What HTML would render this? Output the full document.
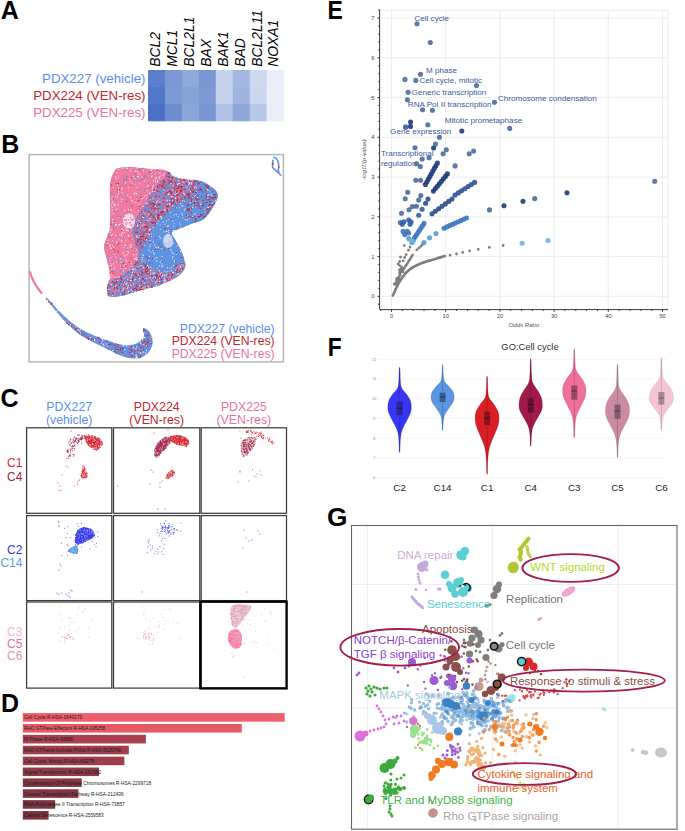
<!DOCTYPE html>
<html><head><meta charset="utf-8"><style>
html,body{margin:0;padding:0;background:#fff;width:685px;height:831px;overflow:hidden}
svg{display:block}
text{font-family:"Liberation Sans",sans-serif}
</style></head><body>
<svg width="685" height="831" viewBox="0 0 685 831">
<rect width="685" height="831" fill="#fff"/>
<text transform="translate(0.8 18.6) scale(1.0 1)" font-size="25" font-weight="bold" fill="#000">A</text>
<rect x="148.00" y="70.00" width="17.25" height="17.30" fill="#5b7fcc" stroke="none" stroke-width="1" />
<rect x="164.95" y="70.00" width="17.25" height="17.30" fill="#7a98d4" stroke="none" stroke-width="1" />
<rect x="181.90" y="70.00" width="17.25" height="17.30" fill="#8eaad9" stroke="none" stroke-width="1" />
<rect x="198.85" y="70.00" width="17.25" height="17.30" fill="#7a97d3" stroke="none" stroke-width="1" />
<rect x="215.80" y="70.00" width="17.25" height="17.30" fill="#c5d3ec" stroke="none" stroke-width="1" />
<rect x="232.75" y="70.00" width="17.25" height="17.30" fill="#a3b8e0" stroke="none" stroke-width="1" />
<rect x="249.70" y="70.00" width="17.25" height="17.30" fill="#cdd9ef" stroke="none" stroke-width="1" />
<rect x="266.65" y="70.00" width="17.25" height="17.30" fill="#e9eef8" stroke="none" stroke-width="1" />
<rect x="148.00" y="87.00" width="17.25" height="17.30" fill="#5276c9" stroke="none" stroke-width="1" />
<rect x="164.95" y="87.00" width="17.25" height="17.30" fill="#7d9ad4" stroke="none" stroke-width="1" />
<rect x="181.90" y="87.00" width="17.25" height="17.30" fill="#87a4d8" stroke="none" stroke-width="1" />
<rect x="198.85" y="87.00" width="17.25" height="17.30" fill="#7d9ad4" stroke="none" stroke-width="1" />
<rect x="215.80" y="87.00" width="17.25" height="17.30" fill="#c7d4ec" stroke="none" stroke-width="1" />
<rect x="232.75" y="87.00" width="17.25" height="17.30" fill="#9fb5df" stroke="none" stroke-width="1" />
<rect x="249.70" y="87.00" width="17.25" height="17.30" fill="#cad7ee" stroke="none" stroke-width="1" />
<rect x="266.65" y="87.00" width="17.25" height="17.30" fill="#e9eef8" stroke="none" stroke-width="1" />
<rect x="148.00" y="104.00" width="17.25" height="17.30" fill="#4c6fc6" stroke="none" stroke-width="1" />
<rect x="164.95" y="104.00" width="17.25" height="17.30" fill="#6d8dd0" stroke="none" stroke-width="1" />
<rect x="181.90" y="104.00" width="17.25" height="17.30" fill="#8aa6d8" stroke="none" stroke-width="1" />
<rect x="198.85" y="104.00" width="17.25" height="17.30" fill="#7896d2" stroke="none" stroke-width="1" />
<rect x="215.80" y="104.00" width="17.25" height="17.30" fill="#b0c3e6" stroke="none" stroke-width="1" />
<rect x="232.75" y="104.00" width="17.25" height="17.30" fill="#8ca6d8" stroke="none" stroke-width="1" />
<rect x="249.70" y="104.00" width="17.25" height="17.30" fill="#b6c7e7" stroke="none" stroke-width="1" />
<rect x="266.65" y="104.00" width="17.25" height="17.30" fill="#e9eef8" stroke="none" stroke-width="1" />
<text x="159.9" y="66.8" font-size="13.9" fill="#000" text-anchor="start" font-weight="normal" font-style="italic" transform="rotate(-90 159.9 66.8)">BCL2</text>
<text x="176.8" y="66.8" font-size="13.9" fill="#000" text-anchor="start" font-weight="normal" font-style="italic" transform="rotate(-90 176.8 66.8)">MCL1</text>
<text x="193.8" y="66.8" font-size="13.9" fill="#000" text-anchor="start" font-weight="normal" font-style="italic" transform="rotate(-90 193.8 66.8)">BCL2L1</text>
<text x="210.7" y="66.8" font-size="13.9" fill="#000" text-anchor="start" font-weight="normal" font-style="italic" transform="rotate(-90 210.7 66.8)">BAX</text>
<text x="227.7" y="66.8" font-size="13.9" fill="#000" text-anchor="start" font-weight="normal" font-style="italic" transform="rotate(-90 227.7 66.8)">BAK1</text>
<text x="244.6" y="66.8" font-size="13.9" fill="#000" text-anchor="start" font-weight="normal" font-style="italic" transform="rotate(-90 244.6 66.8)">BAD</text>
<text x="261.6" y="66.8" font-size="13.9" fill="#000" text-anchor="start" font-weight="normal" font-style="italic" transform="rotate(-90 261.6 66.8)">BCL2L11</text>
<text x="278.5" y="66.8" font-size="13.9" fill="#000" text-anchor="start" font-weight="normal" font-style="italic" transform="rotate(-90 278.5 66.8)">NOXA1</text>
<text x="145.5" y="83.3" font-size="13.3" fill="#5b8def" text-anchor="end" font-weight="normal" font-style="normal" >PDX227 (vehicle)</text>
<text x="145.5" y="100.3" font-size="13.3" fill="#c0272d" text-anchor="end" font-weight="normal" font-style="normal" >PDX224 (VEN-res)</text>
<text x="145.5" y="117.3" font-size="13.3" fill="#e8739f" text-anchor="end" font-weight="normal" font-style="normal" >PDX225 (VEN-res)</text>
<text transform="translate(1.3 152.8) scale(1.0 1)" font-size="25" font-weight="bold" fill="#000">B</text>
<rect x="29.10" y="154.60" width="254.30" height="207.30" fill="#fff" stroke="#b6b6b6" stroke-width="1.5" />
<path d="M114.5,171.3 C116.2,168.3 117.0,168.3 120.7,167.7 C124.5,167.1 131.9,166.6 137.0,167.7 C142.1,168.8 144.8,172.6 151.3,174.4 C157.8,176.2 168.3,177.3 175.8,178.5 C183.3,179.7 190.2,180.1 196.3,181.6 C202.4,183.1 209.0,185.5 212.6,187.7 C216.2,189.9 217.3,192.2 217.7,194.9 C218.0,197.6 216.9,200.1 214.7,204.0 C212.5,207.9 208.2,215.2 204.4,218.4 C200.7,221.7 196.3,221.8 192.2,223.5 C188.1,225.2 183.4,227.1 180.0,228.6 C176.6,230.1 172.4,230.7 171.7,232.7 C171.0,234.7 174.1,237.4 175.8,240.8 C177.5,244.2 180.5,248.6 182.0,253.0 C183.5,257.4 186.0,263.3 185.0,267.4 C184.0,271.5 180.4,274.5 175.8,277.6 C171.2,280.7 163.2,283.8 157.4,285.8 C151.6,287.9 147.2,288.2 141.1,289.9 C135.0,291.6 126.2,295.0 120.7,296.0 C115.2,297.0 110.6,297.4 108.4,296.0 C106.2,294.6 107.1,291.2 107.4,287.8 C107.7,284.4 110.6,280.7 110.4,275.6 C110.2,270.5 107.3,262.3 106.3,257.2 C105.3,252.1 103.8,249.3 104.3,244.9 C104.8,240.5 108.4,235.7 109.4,230.6 C110.4,225.5 110.2,221.8 110.4,214.3 C110.6,206.8 109.7,192.9 110.4,185.7 C111.1,178.5 112.8,174.3 114.5,171.3Z" fill="#8c82c6"/>
<path d="M192.0,194.0 C195.7,190.4 196.6,182.6 200.0,181.5 C203.4,180.4 209.7,185.5 212.6,187.7 C215.5,189.9 217.3,192.2 217.7,194.9 C218.0,197.6 216.9,200.1 214.7,204.0 C212.5,207.9 208.2,215.2 204.4,218.4 C200.7,221.7 196.3,221.8 192.2,223.5 C188.1,225.2 183.4,227.1 180.0,228.6 C176.6,230.1 172.4,230.7 171.7,232.7 C171.0,234.7 174.1,237.4 175.8,240.8 C177.5,244.2 180.8,249.5 182.0,253.0 C183.2,256.5 185.8,258.8 183.0,262.0 C180.2,265.2 170.5,271.0 165.0,272.0 C159.5,273.0 154.2,270.7 150.0,268.0 C145.8,265.3 141.3,259.0 140.0,256.0 C138.7,253.0 140.5,253.3 142.0,250.0 C143.5,246.7 146.7,240.3 149.0,236.0 C151.3,231.7 153.3,227.7 156.0,224.0 C158.7,220.3 161.3,217.5 165.0,214.0 C168.7,210.5 173.5,206.3 178.0,203.0 C182.5,199.7 188.3,197.6 192.0,194.0Z" fill="#5f93e2"/>
<path d="M110.0,185.0 C110.7,177.8 112.7,174.2 114.5,171.3 C116.3,168.4 117.0,168.3 120.7,167.7 C124.5,167.1 131.8,167.5 137.0,167.7 C142.2,167.9 148.0,168.7 152.0,169.0 C156.0,169.3 158.4,169.1 161.0,169.5 C163.6,169.9 166.7,170.2 167.5,171.5 C168.3,172.8 168.1,174.2 166.0,177.0 C163.9,179.8 158.2,184.0 155.0,188.0 C151.8,192.0 149.5,196.8 147.0,201.0 C144.5,205.2 142.2,209.5 140.0,213.0 C137.8,216.5 135.3,218.8 134.0,222.0 C132.7,225.2 131.5,228.2 132.0,232.0 C132.5,235.8 136.0,240.7 137.0,245.0 C138.0,249.3 139.5,253.5 138.0,258.0 C136.5,262.5 132.3,268.0 128.0,272.0 C123.7,276.0 115.5,279.5 112.0,282.0 C108.5,284.5 107.3,288.1 107.0,287.0 C106.7,285.9 110.5,280.6 110.4,275.6 C110.3,270.6 107.3,262.3 106.3,257.2 C105.3,252.1 103.8,249.3 104.3,244.9 C104.8,240.5 108.4,235.7 109.4,230.6 C110.4,225.5 110.3,221.9 110.4,214.3 C110.5,206.7 109.3,192.2 110.0,185.0Z" fill="#f07aa0"/>
<path d="M167.5,171.5 C169.2,171.6 172.6,176.2 176.0,177.5 C179.4,178.8 184.0,178.8 188.0,179.5 C192.0,180.2 199.3,179.1 200.0,181.5 C200.7,183.9 195.7,190.4 192.0,194.0 C188.3,197.6 182.5,199.7 178.0,203.0 C173.5,206.3 168.7,210.5 165.0,214.0 C161.3,217.5 158.7,220.3 156.0,224.0 C153.3,227.7 151.3,231.7 149.0,236.0 C146.7,240.3 144.2,248.3 142.0,250.0 C139.8,251.7 137.3,249.0 136.0,246.0 C134.7,243.0 134.0,236.0 134.0,232.0 C134.0,228.0 135.0,225.2 136.0,222.0 C137.0,218.8 138.2,216.5 140.0,213.0 C141.8,209.5 144.5,205.2 147.0,201.0 C149.5,196.8 151.8,192.0 155.0,188.0 C158.2,184.0 163.9,179.8 166.0,177.0 C168.1,174.2 165.8,171.4 167.5,171.5Z" fill="#a27aae"/>
<path d="M110.0,282.0 C113.4,279.4 123.3,276.0 128.0,272.0 C132.7,268.0 136.0,260.7 138.0,258.0 C140.0,255.3 138.0,254.3 140.0,256.0 C142.0,257.7 145.8,265.3 150.0,268.0 C154.2,270.7 159.5,273.0 165.0,272.0 C170.5,271.0 179.7,262.8 183.0,262.0 C186.3,261.2 186.2,264.8 185.0,267.4 C183.8,270.0 180.4,274.5 175.8,277.6 C171.2,280.7 163.2,283.8 157.4,285.8 C151.6,287.9 147.2,288.2 141.1,289.9 C135.0,291.6 126.2,295.0 120.7,296.0 C115.2,297.0 110.6,297.4 108.4,296.0 C106.2,294.6 107.1,290.1 107.4,287.8 C107.7,285.5 106.6,284.6 110.0,282.0Z" fill="#8088c8"/>
<path d="M169.4 200.2h0M172.1 202.6h0M190.7 194.2h0M145.9 217.2h0M176.2 200.7h0M170.2 176.4h0M154.7 217.5h0M163.9 195.0h0M150.1 216.6h0M182.1 194.1h0M144.0 209.9h0M136.6 224.0h0M172.3 207.3h0M138.0 226.6h0M188.2 193.8h0M137.9 231.8h0M152.4 204.1h0M197.2 183.3h0M149.4 209.6h0M172.9 192.1h0M158.4 216.0h0M159.9 202.8h0M140.8 221.3h0M135.7 240.1h0M174.5 183.2h0M150.6 198.8h0M164.8 209.5h0M156.6 192.3h0M188.7 184.2h0M168.9 183.0h0M169.8 173.6h0M151.2 200.3h0M145.0 232.1h0M155.8 189.0h0M149.0 212.1h0M151.1 225.9h0M139.6 223.4h0M145.8 233.4h0M181.8 184.8h0M143.6 236.4h0M157.1 214.6h0M188.5 188.1h0M149.9 217.5h0M151.1 204.4h0M142.7 242.9h0M157.3 207.5h0M168.6 173.0h0M163.0 185.9h0M145.4 208.7h0M155.5 212.2h0M141.0 215.5h0M163.9 213.4h0M189.4 182.3h0M138.8 224.1h0M144.2 227.7h0M177.6 182.7h0M160.3 209.7h0M144.7 205.4h0M168.0 198.1h0M170.6 206.1h0M136.6 232.7h0M188.1 191.8h0M143.9 243.7h0M138.8 245.2h0M139.5 238.7h0M138.4 239.2h0M163.9 198.1h0M168.8 190.2h0M154.6 195.4h0M184.1 194.3h0M167.0 185.5h0M146.5 208.8h0M159.9 211.3h0M160.7 198.8h0M138.7 229.7h0M139.6 237.5h0M153.3 207.6h0M144.4 206.5h0M154.4 199.5h0M165.3 211.0h0M147.3 211.1h0M154.1 189.8h0M159.7 197.1h0M136.9 237.1h0M143.2 212.6h0M140.9 237.1h0M182.6 191.3h0M182.1 187.6h0M166.6 201.5h0M176.4 177.6h0M183.1 195.4h0M178.6 194.3h0M168.1 208.0h0M164.8 180.8h0M193.0 187.1h0M163.7 192.6h0M147.9 217.1h0M143.4 212.6h0M196.9 181.9h0M163.8 195.2h0M189.4 180.9h0M158.6 202.3h0M157.8 205.1h0M140.7 237.0h0M167.7 186.4h0M195.2 181.5h0M165.2 198.5h0M177.3 195.1h0M170.8 202.5h0M166.8 188.8h0M163.7 182.5h0M161.3 212.6h0M158.9 198.0h0M197.9 181.4h0M190.9 188.5h0M160.4 206.5h0M136.1 227.2h0M164.2 214.8h0M136.6 232.9h0M176.6 195.3h0M159.6 189.1h0M153.9 207.7h0M161.7 191.7h0M156.3 204.5h0M179.0 187.0h0M167.3 187.6h0M188.1 189.6h0M148.6 231.2h0M166.7 186.2h0M148.7 204.2h0M177.9 201.2h0M158.7 197.5h0M152.5 199.1h0M197.1 181.2h0M156.4 192.9h0M151.3 227.8h0M154.9 193.1h0M134.2 230.8h0M149.4 208.8h0M159.5 191.2h0M162.4 210.2h0M195.3 185.9h0M174.1 197.2h0M155.1 199.9h0M147.0 230.6h0M149.5 204.2h0M177.9 181.0h0M189.5 194.6h0M171.4 200.8h0M182.7 187.1h0M144.1 240.9h0M172.2 197.1h0M167.5 189.7h0M148.4 200.4h0M150.8 218.6h0M177.0 187.5h0M178.8 186.0h0M160.1 214.7h0M176.2 178.7h0M144.8 226.1h0M161.0 193.7h0M154.6 216.0h0M157.6 204.2h0M158.0 187.0h0M182.1 187.5h0M164.4 184.3h0M139.9 220.3h0M158.5 211.1h0M188.4 184.1h0M185.9 188.9h0M188.7 185.9h0M148.4 202.9h0M168.2 201.6h0M189.3 180.7h0M175.4 195.5h0M161.7 217.2h0M163.5 205.9h0M166.3 190.0h0M164.2 185.6h0M165.2 179.9h0M167.7 174.7h0M176.0 178.0h0M167.8 175.8h0M167.3 201.2h0M196.8 182.2h0M194.5 184.5h0M183.9 184.0h0M187.8 182.8h0M167.4 196.5h0M145.1 233.1h0M141.6 213.2h0M176.0 199.7h0M175.6 202.4h0M186.6 192.3h0M163.2 185.4h0M188.1 191.4h0M174.7 205.4h0M148.8 217.3h0M172.9 187.5h0M142.9 245.0h0M140.3 221.6h0M160.5 192.2h0M171.1 199.0h0M160.8 190.2h0M137.9 232.6h0M196.1 182.7h0M147.2 219.2h0M187.7 185.2h0M154.4 195.1h0M137.2 241.3h0M181.0 192.4h0M170.5 205.7h0M151.5 221.9h0M183.2 197.2h0M171.6 195.7h0M148.0 220.4h0M139.1 243.0h0M141.0 244.4h0M138.3 217.9h0M138.4 239.6h0M175.7 194.1h0M184.0 187.6h0M155.1 204.8h0M152.7 227.7h0M158.3 196.7h0M169.5 188.5h0M188.1 184.9h0M146.2 210.3h0M141.3 221.5h0M139.3 233.4h0M175.4 199.4h0M160.5 202.5h0M149.4 207.7h0M157.0 197.1h0M144.3 237.7h0M145.2 205.9h0M192.4 190.2h0M150.3 197.1h0M168.5 184.1h0M140.7 247.0h0M146.9 221.6h0M143.4 218.9h0M161.8 189.4h0M154.7 220.8h0M175.6 191.1h0M162.0 207.2h0M175.0 203.6h0M146.1 222.9h0M144.6 232.9h0M140.7 216.6h0M147.9 225.2h0M142.1 248.8h0M152.1 202.9h0M157.2 192.3h0M148.8 229.7h0M148.4 234.4h0M159.9 188.1h0M142.5 232.5h0M157.3 221.6h0M164.9 194.6h0" stroke="#5f93e2" stroke-width="1.80" stroke-linecap="round" fill="none"/>
<path d="M170.2 181.3h0M190.1 192.5h0M158.8 191.4h0M162.1 186.1h0M153.9 209.1h0M177.5 200.0h0M137.8 236.5h0M143.3 236.8h0M177.3 191.1h0M149.4 232.4h0M145.1 241.5h0M147.0 225.9h0M170.6 192.3h0M166.5 176.1h0M164.8 182.8h0M166.4 210.6h0M158.7 204.4h0M167.7 209.5h0M158.2 208.8h0M147.9 205.7h0M161.9 215.0h0M188.6 194.5h0M167.2 192.8h0M155.8 196.4h0M153.7 217.5h0M136.6 228.2h0M178.9 188.2h0M184.3 179.5h0M177.3 200.5h0M171.1 191.8h0M153.9 204.6h0M155.0 205.3h0M176.5 188.2h0M142.0 247.4h0M139.8 239.8h0M181.5 190.5h0M182.4 186.2h0M137.3 232.3h0M145.0 239.1h0M158.3 216.6h0M143.6 234.1h0M175.6 204.3h0M171.4 194.5h0M155.9 219.1h0M173.7 195.7h0M187.3 193.7h0M136.8 236.9h0M171.7 193.0h0M147.2 230.4h0M164.7 187.7h0M150.8 230.5h0M139.8 234.8h0M185.0 189.8h0M145.9 226.5h0M157.9 215.8h0M160.6 212.1h0M141.0 221.2h0M186.0 183.8h0M173.4 198.6h0M168.3 173.1h0M171.4 192.0h0M173.5 202.7h0M141.9 246.8h0M151.0 215.8h0M178.2 202.4h0M163.6 184.0h0M150.9 199.1h0M178.7 195.0h0M165.8 184.7h0M181.3 186.8h0M136.4 244.3h0M140.4 244.4h0M163.9 198.2h0M175.5 182.7h0M143.6 239.9h0M151.6 203.8h0M145.1 210.0h0M141.5 248.3h0M137.8 241.8h0M178.1 188.1h0M165.5 194.0h0M181.9 194.5h0M146.3 205.7h0M194.2 188.6h0M171.7 182.3h0M145.9 232.0h0M181.0 186.9h0M191.6 192.4h0M146.3 236.8h0M158.5 218.2h0M163.4 212.0h0M142.0 227.6h0M138.0 240.0h0M169.5 173.1h0M180.1 186.8h0M180.4 179.6h0M166.6 210.8h0M160.8 182.3h0M143.7 216.5h0M183.3 184.4h0M159.7 204.5h0M185.3 198.1h0M149.9 197.8h0M150.5 204.6h0M175.8 200.1h0M169.0 176.9h0M162.6 211.1h0M176.3 192.4h0M178.8 193.0h0M175.0 191.2h0M168.3 205.5h0M154.2 222.3h0M141.9 218.2h0M151.7 208.1h0M169.2 183.1h0M153.4 203.4h0M139.8 214.4h0M147.3 227.3h0M164.4 214.5h0M154.5 190.5h0M148.6 211.7h0M159.3 217.5h0M190.9 190.2h0M194.4 181.5h0M171.7 204.3h0M174.1 201.3h0M163.9 207.4h0M181.7 194.5h0M159.8 215.1h0M159.4 196.8h0M167.0 206.4h0M143.6 216.7h0M172.4 178.4h0M179.2 202.1h0M157.6 218.2h0M160.5 215.6h0M167.8 180.2h0M167.8 211.1h0M154.2 225.7h0M178.1 186.9h0M151.6 222.3h0M171.9 203.8h0M184.1 179.9h0M184.9 196.8h0M181.2 199.3h0M140.6 242.5h0M172.4 198.9h0M163.7 201.8h0M137.6 241.4h0M187.8 195.3h0M150.0 202.1h0M181.4 188.9h0M157.7 186.1h0M171.1 180.5h0M169.2 201.8h0M142.1 236.3h0M157.2 190.7h0M177.8 198.3h0M144.3 226.9h0M189.1 181.5h0M187.1 184.0h0M167.3 189.3h0M163.9 181.8h0M180.6 192.0h0M158.3 190.8h0M174.1 188.2h0M191.6 181.1h0M171.5 195.9h0M145.7 238.3h0M155.2 223.5h0M141.2 215.6h0M157.9 210.8h0M154.5 189.3h0M142.3 227.8h0M152.6 203.2h0M136.0 224.9h0M177.8 199.1h0M180.2 191.0h0M175.5 185.8h0M141.6 243.1h0M154.0 201.4h0M176.1 185.6h0M181.3 191.5h0M141.3 233.6h0M137.6 226.3h0M162.3 211.7h0M195.3 181.5h0M151.2 214.4h0M169.9 191.1h0M161.2 187.3h0M168.0 206.4h0M143.4 215.7h0M145.2 223.8h0M157.8 187.7h0M147.0 226.6h0M163.6 180.4h0M155.4 208.3h0M139.5 227.8h0M162.7 186.4h0M177.1 191.2h0M135.8 232.3h0M189.4 194.8h0M146.3 221.6h0M145.1 233.1h0M158.3 214.8h0M166.6 210.7h0M172.4 177.8h0M179.4 184.3h0M163.0 186.5h0M152.7 223.4h0M168.0 204.6h0M156.4 205.9h0M193.7 184.4h0M153.5 206.3h0M171.2 198.8h0M155.4 207.6h0M153.6 216.3h0M176.7 195.0h0M139.6 223.3h0M158.6 217.1h0M161.5 213.1h0M171.3 202.6h0M141.4 239.2h0M169.0 191.2h0M149.0 216.5h0M141.5 211.8h0M172.8 177.8h0M184.0 180.5h0M140.7 236.7h0M159.9 184.9h0" stroke="#cf1f2d" stroke-width="1.60" stroke-linecap="round" fill="none"/>
<path d="M185.1 182.2h0M149.6 200.7h0M145.1 230.0h0M173.9 179.3h0M141.5 244.1h0M178.6 191.5h0M146.7 206.6h0M141.3 234.4h0M146.2 215.0h0M153.1 225.4h0M146.0 235.7h0M178.8 202.3h0M165.4 183.9h0M159.6 199.3h0M178.3 192.9h0M152.0 210.8h0M151.3 216.2h0M158.0 193.6h0M175.9 199.0h0M170.3 203.4h0M165.8 200.3h0M163.9 206.5h0M171.5 195.2h0M153.9 195.7h0M180.5 188.6h0M160.4 187.2h0M176.8 186.9h0M173.7 177.7h0M146.4 213.6h0M194.9 188.2h0M176.8 203.3h0M178.8 198.0h0M137.0 220.7h0M156.1 210.3h0M173.5 191.7h0M173.7 197.5h0M182.9 191.7h0M185.2 195.8h0M163.9 193.3h0M170.6 185.8h0M185.4 190.5h0M176.0 198.5h0M141.1 229.1h0M138.3 222.2h0M151.3 205.6h0M148.3 216.2h0M144.3 239.3h0M191.4 192.5h0M152.6 197.5h0M144.7 225.1h0M191.0 185.8h0M141.4 248.0h0M144.0 229.3h0M179.1 178.6h0M149.5 233.7h0M167.3 189.7h0M142.0 209.8h0M145.8 225.3h0M143.8 229.4h0M167.0 180.3h0M157.3 210.5h0M160.9 215.2h0M160.4 196.5h0M159.5 201.8h0M161.1 182.7h0M150.8 219.5h0M158.9 190.4h0M179.8 197.0h0M149.5 220.9h0M178.7 196.8h0M148.7 219.6h0M168.5 208.9h0M187.7 190.2h0M145.4 236.0h0M188.0 181.2h0M184.1 183.3h0M178.9 200.3h0M168.4 190.2h0M158.5 198.2h0M147.3 216.3h0M181.4 193.1h0M155.4 190.5h0M147.3 204.7h0M163.2 200.3h0M181.0 194.7h0M159.4 216.9h0M195.0 186.5h0M168.7 210.5h0M164.5 207.8h0M163.0 210.1h0" stroke="#f07aa0" stroke-width="1.60" stroke-linecap="round" fill="none"/>
<path d="M139.1 235.7h0M137.6 225.0h0M137.6 225.7h0M161.6 217.3h0M191.5 182.9h0M156.1 212.2h0M154.7 191.5h0M167.7 204.5h0M190.5 191.7h0M169.4 200.8h0M164.6 209.9h0M172.5 200.2h0M186.9 187.2h0M169.2 203.6h0M171.3 196.9h0M153.2 227.3h0M173.4 185.6h0M189.3 182.9h0M194.6 187.7h0M179.3 183.7h0M137.7 226.1h0M136.8 237.1h0M172.4 196.5h0M171.0 183.6h0M189.5 183.4h0M148.7 214.3h0M178.8 180.5h0M188.7 181.1h0M153.2 198.8h0M189.8 189.3h0M156.0 206.8h0M150.3 229.8h0M145.8 233.3h0M170.9 179.0h0M140.4 222.3h0M142.7 216.9h0M157.3 200.9h0M177.8 184.4h0M192.0 180.7h0M144.8 213.5h0M167.4 200.3h0M147.0 203.2h0M149.1 230.4h0M168.2 194.4h0M172.2 189.9h0M150.2 218.5h0M150.2 229.1h0M178.8 183.4h0M165.7 210.5h0M147.1 220.6h0M140.1 227.8h0M183.2 182.1h0M173.0 205.7h0M164.2 190.1h0M156.4 218.2h0M156.1 188.3h0M174.9 194.4h0M142.0 225.1h0M136.7 236.1h0M160.0 210.7h0M188.8 184.2h0M150.6 199.2h0M140.7 214.9h0M139.0 220.5h0M175.7 201.0h0M137.8 237.0h0M143.5 217.6h0M172.1 175.2h0M176.3 193.5h0M184.3 194.4h0M169.9 204.5h0M143.2 212.0h0M191.9 184.2h0M182.7 184.9h0M153.6 201.6h0M196.3 187.0h0M155.2 205.9h0M160.0 201.8h0M183.7 193.1h0M168.9 194.1h0M175.6 191.9h0M156.6 202.3h0M146.3 239.9h0M160.6 216.5h0M144.0 224.2h0M142.7 226.8h0M136.6 236.5h0M175.5 198.2h0M155.8 216.1h0M148.4 233.8h0" stroke="#fff" stroke-width="1.20" stroke-linecap="round" fill="none"/>
<path d="M123.6 289.6h0M170.2 277.5h0M109.8 287.1h0M140.3 258.5h0M156.3 285.0h0M152.8 272.0h0M147.1 279.6h0M125.0 290.7h0M182.0 269.2h0M142.6 283.3h0M162.4 274.2h0M138.7 267.3h0M122.5 285.4h0M147.5 273.5h0M122.7 284.1h0M150.9 284.0h0M108.4 290.5h0M163.4 281.2h0M120.1 281.3h0M169.8 274.2h0M119.3 287.1h0M144.4 288.9h0M151.1 276.3h0M109.0 292.4h0M124.0 279.4h0M145.0 281.6h0M177.7 271.3h0M115.5 279.6h0M142.8 279.4h0M156.8 284.3h0M141.5 258.7h0M143.9 272.0h0M159.6 284.5h0M126.0 282.0h0M161.1 274.9h0M118.4 292.4h0M156.6 285.7h0M126.1 293.2h0M124.4 282.9h0M178.7 266.5h0M121.9 288.3h0M120.0 276.5h0M115.6 287.5h0M146.4 280.8h0M142.9 260.9h0M140.7 260.4h0M135.9 268.1h0M161.1 280.0h0M147.8 274.2h0M139.0 280.4h0M121.4 293.7h0M141.7 284.3h0M134.4 269.0h0M132.9 286.8h0M169.1 277.3h0M115.5 289.0h0M131.7 281.1h0M135.9 277.5h0M182.3 262.4h0M148.6 282.0h0M129.7 292.3h0M160.7 283.6h0M109.5 283.6h0M153.3 282.2h0M153.8 283.8h0M135.5 261.7h0M128.6 286.8h0M130.9 272.4h0M160.9 273.8h0M179.7 269.7h0M158.6 279.5h0M158.0 278.8h0M108.5 290.1h0M117.5 294.5h0M135.6 284.9h0M118.1 287.5h0M126.7 287.8h0M129.5 271.2h0M137.2 270.6h0M157.2 274.9h0M141.4 260.6h0M143.1 284.5h0M144.6 263.0h0M125.3 273.6h0M135.4 274.8h0M165.2 278.5h0M142.6 268.7h0M123.3 282.5h0M158.1 276.6h0M164.9 277.5h0M125.6 276.0h0M154.3 282.0h0M118.7 288.1h0M173.9 270.7h0M125.0 279.9h0M141.5 261.6h0M122.3 286.0h0M138.6 283.2h0M108.4 293.9h0M125.5 275.1h0M125.0 294.4h0M132.4 272.3h0M134.0 282.7h0M120.0 289.1h0M127.4 274.2h0M151.0 284.5h0M116.8 294.4h0M147.9 279.3h0M152.8 274.1h0M181.7 266.8h0M180.5 272.3h0M111.4 292.6h0M140.0 277.2h0M158.1 276.5h0M158.5 279.5h0M182.1 263.7h0M113.3 291.9h0M148.1 283.1h0M113.1 285.7h0M155.8 274.9h0M160.0 284.4h0M181.7 264.3h0M177.2 265.3h0M138.9 272.8h0M135.0 284.2h0M141.3 263.0h0M157.2 281.4h0M122.6 286.6h0M120.8 283.8h0M128.0 284.4h0M116.3 293.4h0M133.4 276.9h0M132.2 272.7h0M144.6 266.3h0M155.8 283.9h0M127.8 287.7h0M145.6 263.5h0M161.1 271.4h0M114.7 279.4h0M122.2 284.3h0M158.9 278.6h0M127.5 272.9h0M148.8 285.0h0M109.8 285.0h0M157.0 283.6h0M131.9 284.8h0M143.2 263.9h0M147.9 270.5h0M163.0 277.2h0M144.9 266.1h0M132.1 275.1h0M136.2 273.9h0M142.8 281.5h0M112.7 286.0h0M167.2 273.5h0M114.7 294.5h0M120.1 277.3h0M120.9 286.6h0M140.4 269.5h0M127.5 285.6h0M143.5 284.6h0M122.4 294.3h0M115.7 288.5h0M133.7 265.9h0M127.2 274.8h0M173.7 268.8h0M120.8 285.8h0M139.9 288.9h0M108.2 286.5h0M181.3 269.1h0M136.5 270.1h0M136.8 260.4h0M125.0 292.4h0M139.3 281.4h0M126.4 292.8h0M158.3 271.2h0M149.2 269.5h0M171.1 269.8h0M159.9 282.1h0M111.1 290.8h0M149.9 274.2h0M133.7 287.3h0M143.3 272.1h0M131.4 281.3h0M176.8 274.8h0M131.6 291.0h0M147.6 275.4h0M135.5 270.5h0M117.1 292.6h0M141.0 284.7h0M140.7 259.7h0M168.6 270.3h0M124.7 285.8h0M141.0 271.2h0M132.9 285.3h0M121.9 277.9h0M146.2 282.7h0M118.5 294.3h0M140.3 280.1h0M140.0 276.5h0M123.1 279.4h0M128.5 289.5h0M133.5 286.7h0M131.9 276.2h0M144.0 263.9h0M138.7 270.2h0M140.4 270.1h0M161.0 271.7h0M119.2 290.6h0M134.9 281.2h0M178.8 272.1h0M141.0 267.9h0M150.4 282.5h0M153.2 283.1h0M150.0 272.1h0M144.6 275.8h0M134.5 277.3h0M144.4 269.3h0M137.4 280.4h0M136.1 271.5h0M133.2 288.9h0M119.8 283.6h0M112.0 288.2h0M114.4 293.0h0M141.1 263.7h0M137.3 259.7h0M162.4 281.2h0M121.4 280.4h0M141.1 271.6h0M134.6 285.5h0M141.5 287.6h0M152.1 274.1h0M133.5 271.8h0M137.1 283.6h0M107.8 288.1h0M168.4 276.6h0M107.8 287.9h0M139.5 282.8h0M151.6 285.1h0M136.6 266.8h0M132.1 286.3h0M127.8 280.4h0M119.7 290.3h0M145.3 267.0h0M119.0 286.4h0M152.9 273.1h0M175.0 273.7h0M164.1 281.9h0M140.5 278.9h0M156.8 271.1h0M126.7 288.6h0M114.1 290.1h0M143.4 274.8h0M121.8 276.0h0M178.2 264.8h0M156.4 277.3h0M173.7 273.7h0M115.0 292.5h0M143.4 288.9h0M119.9 283.4h0M150.4 272.2h0M143.9 275.7h0M150.4 286.5h0M176.2 270.7h0M118.3 279.3h0M149.9 268.6h0M156.2 278.5h0M156.6 277.7h0M135.4 280.2h0M182.6 268.5h0M121.3 289.3h0M115.3 293.3h0M128.2 291.2h0M147.4 268.9h0M116.0 285.8h0M135.7 282.5h0M163.7 278.1h0M152.0 278.4h0M139.4 277.7h0M140.2 265.5h0M137.5 269.4h0M142.5 276.1h0M114.3 282.0h0M140.3 268.3h0M131.1 269.0h0M140.7 262.6h0M119.6 281.0h0M159.4 273.3h0M133.4 266.6h0M138.5 283.5h0M140.8 262.2h0M145.3 263.8h0M159.4 275.8h0M144.1 261.7h0M160.6 283.9h0M110.9 284.6h0M152.6 284.9h0M134.4 283.8h0M135.9 284.5h0M114.5 285.0h0M119.5 290.9h0M136.9 282.9h0M134.8 291.0h0M122.7 276.7h0M144.9 269.5h0M136.4 276.4h0M128.9 276.1h0M146.5 272.8h0M148.7 267.0h0M168.0 276.7h0M126.7 293.0h0M147.0 271.0h0M129.9 272.1h0M144.8 285.2h0M135.2 268.3h0M135.3 286.2h0M125.5 287.4h0M158.2 283.0h0M156.7 283.7h0M145.2 270.8h0M128.3 275.5h0M141.5 272.8h0M129.2 292.9h0M173.6 269.3h0M140.6 263.7h0M167.4 271.0h0M116.7 292.1h0M141.5 271.9h0M136.2 286.4h0M133.2 283.2h0M122.9 290.2h0M178.0 265.3h0M152.9 279.0h0M132.6 281.8h0M154.1 276.4h0M131.6 272.7h0M116.4 295.5h0M126.1 290.3h0M126.3 279.5h0M128.3 287.0h0M125.1 281.0h0M150.0 271.5h0M127.6 286.1h0M136.0 273.3h0M146.8 267.6h0M161.9 276.6h0M147.0 275.7h0M136.3 290.4h0M123.7 291.1h0M135.2 269.4h0" stroke="#5f93e2" stroke-width="1.80" stroke-linecap="round" fill="none"/>
<path d="M155.1 278.5h0M181.5 270.8h0M116.3 282.3h0M148.7 269.1h0M132.9 289.8h0M133.7 272.7h0M181.7 270.4h0M138.6 262.5h0M158.8 282.6h0M142.0 272.2h0M125.5 287.6h0M142.9 289.3h0M136.5 285.3h0M159.8 275.9h0M144.1 263.9h0M120.8 281.8h0M146.9 268.6h0M144.9 280.7h0M160.1 277.8h0M141.7 289.2h0M151.4 286.1h0M135.6 273.9h0M171.6 276.8h0M108.6 291.6h0M141.5 289.2h0M160.8 277.3h0M177.1 269.6h0M129.0 292.8h0M114.5 293.0h0M150.2 280.5h0M161.7 274.6h0M168.4 274.2h0M122.7 294.3h0M129.2 285.8h0M161.3 271.8h0M181.4 270.7h0M147.0 276.1h0M109.5 286.1h0M135.1 264.4h0M134.4 285.3h0M158.5 272.2h0M146.7 287.5h0M122.8 284.9h0M134.8 288.5h0M156.7 275.3h0M136.6 279.1h0M107.5 287.9h0M127.1 289.2h0M150.2 280.1h0M141.3 282.9h0M181.3 263.6h0M124.6 290.7h0M137.5 262.0h0M121.6 279.1h0M149.1 273.6h0M108.7 293.2h0M167.0 278.8h0M151.9 281.9h0M136.2 275.2h0M112.5 281.7h0M150.1 285.3h0M115.2 289.6h0M145.4 266.0h0M130.7 274.5h0M136.2 287.5h0M110.2 286.3h0M137.9 268.5h0M113.0 293.9h0M147.1 273.6h0M141.3 286.7h0M171.9 275.0h0M176.6 272.3h0M158.7 278.4h0M143.2 279.0h0M126.4 278.3h0M136.0 291.2h0M156.1 281.3h0M172.8 274.8h0M123.3 281.7h0M158.4 282.3h0M132.6 279.9h0M116.4 285.2h0M112.7 293.5h0M109.4 285.0h0M136.0 263.2h0M138.0 276.1h0M139.6 260.9h0M148.0 268.0h0M141.2 265.1h0M182.6 268.9h0M137.9 286.2h0M141.6 286.5h0M147.7 273.0h0M125.9 278.4h0M139.7 257.4h0M130.9 279.4h0M130.8 284.6h0M171.1 272.7h0M161.2 279.5h0M146.0 263.5h0M141.3 267.3h0M128.7 281.7h0M114.0 288.0h0M145.9 265.2h0M146.5 284.8h0M136.4 272.5h0M176.7 267.0h0M127.4 288.6h0M170.2 278.3h0M113.6 290.5h0M143.3 284.5h0M114.8 282.4h0M157.8 283.5h0M140.4 271.0h0M157.9 272.1h0M151.6 276.6h0M122.0 294.0h0M175.6 266.7h0M168.5 275.0h0M131.6 270.7h0M119.4 284.7h0M124.8 289.9h0M132.9 290.0h0M141.2 271.2h0M108.4 290.5h0M181.9 265.1h0M115.1 284.4h0M152.6 276.2h0M117.1 289.9h0M109.0 284.4h0M119.4 277.6h0M128.0 272.0h0M122.2 284.3h0M151.9 287.2h0M156.2 280.0h0M151.4 269.0h0M179.4 270.8h0M157.5 282.5h0M142.0 274.5h0M115.9 280.8h0M145.7 269.4h0M142.0 287.7h0M182.8 263.0h0M139.5 290.0h0M167.9 279.5h0M145.5 271.8h0M157.5 276.2h0M132.5 280.3h0M140.2 289.5h0M137.2 266.5h0M149.5 271.0h0M145.6 272.2h0M115.3 285.3h0M169.5 279.9h0M116.4 280.0h0M128.9 292.8h0M126.6 279.1h0M136.8 267.8h0M166.5 280.7h0M133.1 277.7h0M143.1 278.1h0M155.8 275.1h0M156.6 277.3h0M125.0 284.2h0M148.4 280.2h0M132.7 279.5h0M181.3 265.9h0M147.4 271.4h0M134.3 288.1h0M121.0 278.3h0M120.1 289.6h0M138.2 277.9h0M161.8 279.2h0M116.9 288.1h0M124.2 293.6h0M131.7 283.3h0M126.9 277.7h0M117.9 290.4h0M176.4 265.7h0M161.5 282.9h0M116.9 287.1h0M167.3 274.7h0M113.1 286.1h0M114.5 282.7h0M139.2 274.0h0M126.2 287.5h0M148.7 284.0h0M132.6 267.3h0M144.7 271.2h0M142.3 278.7h0M146.4 286.7h0M137.1 289.6h0M176.6 271.0h0M117.0 281.5h0M147.4 267.5h0M142.0 274.7h0M175.1 272.5h0M136.4 289.1h0M124.0 286.1h0M143.8 272.4h0" stroke="#cf1f2d" stroke-width="1.60" stroke-linecap="round" fill="none"/>
<path d="M122.7 288.0h0M183.3 264.9h0M136.5 272.6h0M152.7 273.9h0M134.6 272.7h0M120.7 293.6h0M153.3 277.7h0M140.4 266.0h0M131.9 275.7h0M134.2 287.3h0M168.0 273.7h0M149.1 277.3h0M159.2 283.6h0M110.1 285.5h0M142.0 265.3h0M170.7 274.1h0M170.0 279.8h0M158.2 271.7h0M148.7 281.5h0M125.3 289.7h0M125.4 284.2h0M130.6 284.9h0M134.6 286.4h0M149.7 271.5h0M123.6 287.4h0M150.1 286.2h0M127.5 282.6h0M166.7 281.5h0M141.8 285.3h0M148.9 279.9h0M131.5 269.7h0M164.0 279.1h0M120.8 285.3h0M116.5 286.0h0M126.9 276.6h0M128.4 291.4h0M180.2 267.3h0M109.3 289.4h0M177.2 266.9h0M152.3 273.8h0M131.1 277.0h0M168.8 278.5h0M144.3 269.2h0M117.8 291.4h0M110.0 284.0h0M125.9 277.4h0M172.1 270.0h0M146.1 282.6h0M122.3 281.1h0M122.0 284.4h0M166.8 274.8h0M179.7 269.5h0M116.5 290.0h0M132.0 283.4h0M139.3 286.0h0M110.8 293.3h0M137.2 288.1h0M144.0 288.5h0M130.8 277.8h0M113.5 290.4h0M160.0 273.0h0M179.1 273.5h0M179.1 266.8h0M111.8 295.9h0M115.5 294.1h0M110.7 283.8h0M145.7 275.6h0M175.4 272.8h0M143.1 281.9h0M147.1 276.5h0M139.8 257.4h0M130.8 285.2h0M123.4 278.2h0M147.4 278.5h0M158.3 279.6h0M145.7 286.3h0M140.4 272.9h0M140.9 278.4h0M135.5 271.6h0M140.5 270.9h0M138.1 274.0h0M153.3 270.7h0M129.6 274.6h0M143.8 271.5h0M125.5 287.9h0M116.3 279.7h0M143.0 261.8h0M112.1 285.3h0M112.7 288.4h0M159.1 274.9h0M153.1 272.8h0M126.8 293.1h0M151.9 269.0h0M141.5 288.5h0M121.5 284.8h0M181.3 269.1h0M139.2 280.9h0M131.2 280.7h0M127.2 279.4h0M128.8 287.3h0M133.2 271.8h0M166.3 272.2h0M144.3 271.9h0M148.2 283.3h0M137.0 266.9h0M117.9 291.4h0M135.3 283.9h0M143.2 277.1h0M133.5 283.3h0M162.6 273.3h0M123.8 288.9h0M150.1 269.1h0M127.4 277.1h0M171.2 279.4h0M140.7 265.7h0M183.6 266.2h0M158.1 270.3h0M176.4 267.9h0M157.3 283.3h0M114.1 295.4h0M134.6 263.5h0M156.2 282.3h0M147.3 275.1h0M150.4 285.1h0M176.8 274.7h0M110.7 289.2h0M118.5 280.1h0M130.2 290.0h0M139.1 262.2h0M138.6 261.1h0M137.3 278.1h0M150.2 272.1h0M166.8 277.4h0M168.5 278.9h0M115.0 291.0h0M132.4 272.3h0M136.2 269.7h0M119.3 289.3h0M143.1 288.5h0M133.8 268.8h0" stroke="#f07aa0" stroke-width="1.60" stroke-linecap="round" fill="none"/>
<path d="M147.2 285.8h0M175.9 270.1h0M161.2 272.1h0M150.5 270.5h0M128.6 291.4h0M170.3 277.2h0M150.4 277.6h0M139.2 278.3h0M114.4 292.8h0M159.6 281.6h0M148.6 286.8h0M119.5 277.1h0M138.3 275.2h0M131.0 285.3h0M145.2 287.9h0M135.6 291.3h0M160.5 274.0h0M108.0 291.9h0M162.8 275.6h0M133.6 284.6h0M171.3 270.9h0M132.4 266.4h0M142.1 259.1h0M150.8 273.8h0M131.3 280.1h0M181.8 264.9h0M148.4 268.0h0M159.7 278.4h0M162.8 274.8h0M143.4 267.4h0M145.3 263.0h0M128.4 285.5h0M134.5 279.9h0M116.1 289.8h0M133.0 268.2h0M121.0 294.6h0M180.8 266.6h0M150.9 270.4h0M127.3 288.8h0M180.7 266.2h0M135.9 279.3h0M125.8 284.3h0M143.0 287.8h0M148.7 267.0h0M164.1 282.8h0M172.8 272.4h0M122.9 290.4h0M178.9 273.6h0M153.3 273.2h0M127.2 288.3h0M165.9 280.0h0M140.9 265.5h0M131.9 275.0h0M115.3 281.1h0M115.6 285.8h0M159.4 270.8h0M117.4 280.5h0M166.2 274.9h0M144.1 283.4h0M154.7 272.9h0M156.3 285.5h0M126.6 283.6h0M131.2 275.1h0M165.2 281.2h0M173.8 272.5h0M181.9 270.3h0M155.5 277.7h0M127.8 287.2h0M132.3 291.3h0M130.6 280.4h0M167.9 271.6h0M148.1 272.8h0M128.1 292.8h0M133.8 270.0h0M112.6 295.1h0M116.1 285.0h0M147.5 265.4h0M132.6 269.7h0M141.1 261.1h0M161.9 276.8h0M139.5 285.8h0M131.4 289.9h0M164.6 278.9h0M139.1 278.7h0M111.2 284.7h0M164.2 280.6h0M123.4 284.9h0M125.0 278.6h0M138.0 266.8h0M118.9 290.6h0M130.9 277.6h0M152.2 281.5h0M124.6 282.3h0M132.6 272.6h0M135.3 269.0h0M108.9 289.5h0M164.7 275.7h0M177.3 274.3h0M123.3 288.8h0M146.3 278.5h0M155.4 282.9h0M156.2 280.8h0M108.7 289.5h0M113.3 286.8h0M122.9 290.4h0M127.6 279.0h0M137.0 260.0h0M157.1 281.5h0M153.3 277.2h0M151.3 280.0h0" stroke="#fff" stroke-width="1.20" stroke-linecap="round" fill="none"/>
<path d="M109.4 259.9h0M119.5 238.0h0M137.8 208.3h0M131.0 232.2h0M118.9 260.9h0M118.3 252.4h0M135.2 218.6h0M126.9 170.8h0M123.8 180.3h0M134.9 176.1h0M115.2 220.7h0M126.3 227.4h0M137.8 214.0h0M122.1 209.7h0M124.5 256.3h0M117.3 211.7h0M129.5 213.7h0M108.5 256.6h0M127.9 244.4h0M127.6 200.6h0M121.4 225.8h0M117.6 262.6h0M154.4 181.7h0M120.6 185.7h0M135.7 173.6h0M114.7 272.0h0M113.8 225.0h0M133.9 180.6h0M114.7 196.3h0M113.0 228.8h0M134.0 184.5h0M123.8 267.1h0M128.9 221.4h0M120.5 256.4h0M110.9 222.1h0M116.1 201.0h0M142.9 179.0h0M149.6 171.8h0M110.5 236.9h0M132.5 206.8h0M111.9 180.4h0M112.2 262.2h0M111.8 193.5h0M112.5 240.5h0M121.0 271.1h0M111.3 262.3h0M142.8 168.4h0M111.5 194.3h0M145.6 177.2h0M111.1 197.6h0M141.0 196.2h0M127.6 219.5h0M144.7 189.3h0M141.1 206.0h0M134.2 252.8h0M124.2 239.2h0M144.1 202.1h0M120.5 228.5h0M138.0 194.3h0M126.8 198.0h0M108.8 243.0h0M132.2 249.2h0M114.4 211.2h0M141.3 180.0h0M118.0 198.3h0M106.3 244.0h0M122.1 223.1h0M116.8 242.1h0M114.7 252.0h0M113.4 271.0h0M108.3 234.2h0M159.7 180.2h0M140.7 189.4h0M125.3 185.5h0M133.6 173.2h0M135.4 177.4h0M148.8 188.4h0M124.9 246.7h0M121.7 217.9h0M149.5 195.0h0M114.3 225.4h0M145.9 175.7h0M121.2 259.8h0M123.6 177.9h0M153.4 173.4h0M134.8 247.0h0M137.3 189.5h0M148.3 183.1h0M123.9 269.3h0M128.6 233.6h0M114.3 269.7h0M122.2 263.7h0M120.4 216.7h0M127.2 176.9h0M159.9 176.0h0M126.9 249.6h0M120.7 194.3h0M136.8 180.1h0M127.0 176.6h0M158.4 175.9h0M128.9 218.4h0M124.9 168.7h0M145.7 176.6h0M127.3 224.1h0M144.4 175.0h0M114.2 258.3h0M115.6 208.1h0M124.9 270.2h0M109.2 281.0h0M127.0 214.0h0" stroke="#5f93e2" stroke-width="1.60" stroke-linecap="round" fill="none"/>
<path d="M121.8 230.4h0M134.5 184.5h0M113.5 228.1h0M113.0 273.2h0M107.2 245.2h0M113.5 198.8h0M130.9 257.8h0M131.8 217.6h0M129.7 229.8h0M116.3 183.5h0M139.0 209.6h0M149.9 172.4h0M131.7 205.6h0M138.0 201.2h0M131.4 177.9h0M111.4 185.2h0M115.9 189.6h0M119.8 189.5h0M113.4 249.1h0M140.9 197.7h0M131.4 240.2h0M144.7 178.2h0M127.9 212.1h0M136.7 197.8h0M117.6 183.0h0M157.3 170.6h0M131.1 185.1h0M138.9 200.5h0M112.0 271.5h0M122.9 236.5h0M121.8 266.8h0M117.5 245.0h0M139.4 206.5h0M117.1 189.8h0M123.6 263.4h0M119.0 243.3h0M111.4 224.1h0M136.2 172.9h0M126.2 201.6h0M116.1 279.1h0M117.0 171.7h0M150.8 187.1h0M140.0 169.7h0M137.3 169.3h0M158.5 172.7h0M118.0 216.1h0M109.0 237.0h0M118.1 251.4h0M115.3 250.0h0M120.8 276.0h0M125.7 265.8h0M129.3 262.6h0M159.5 171.5h0M110.5 268.2h0M109.9 272.9h0M118.5 183.7h0M130.2 238.8h0M133.5 216.8h0M147.9 181.0h0M126.6 179.4h0" stroke="#cf1f2d" stroke-width="1.20" stroke-linecap="round" fill="none"/>
<path d="M110.1 232.0h0M115.9 257.1h0M125.5 229.0h0M123.4 271.1h0M129.1 217.8h0M118.4 225.3h0M122.5 232.8h0M114.0 269.3h0M137.0 172.7h0M121.5 228.7h0M115.3 204.3h0M119.0 239.0h0M111.4 229.7h0M145.2 178.3h0M139.0 204.6h0M115.9 189.8h0M122.2 223.5h0M121.8 241.5h0M128.0 224.3h0M114.9 267.7h0M114.5 205.0h0M117.0 171.9h0M152.5 187.0h0M112.1 210.4h0M126.2 255.8h0M115.0 206.0h0M118.2 191.1h0M143.1 206.4h0M156.6 178.1h0M144.3 196.1h0M113.2 203.6h0M151.8 169.6h0M151.6 176.4h0M136.5 198.7h0M141.5 198.7h0M117.3 195.3h0M121.3 233.8h0M144.2 181.1h0M108.9 265.4h0M160.0 176.1h0M129.6 227.2h0M136.4 193.4h0M120.8 268.5h0M133.8 176.9h0M120.4 266.0h0M127.8 221.4h0M147.3 180.9h0M111.0 266.0h0M147.2 190.6h0M137.6 176.8h0M125.8 182.9h0M124.8 256.0h0M139.9 183.8h0M119.5 224.4h0M132.7 183.7h0M124.2 232.4h0M123.9 218.0h0M124.2 245.5h0M158.0 180.5h0M121.3 240.2h0M129.4 222.1h0M121.7 189.7h0M111.4 269.0h0M136.1 169.5h0M120.3 224.1h0M147.4 186.1h0M112.1 207.1h0M110.8 263.1h0M159.9 172.8h0M145.4 203.5h0M156.1 177.4h0M118.3 276.9h0M152.0 173.3h0M110.3 244.8h0M113.5 247.2h0M146.8 195.3h0M134.4 193.0h0M121.9 229.3h0M149.8 192.7h0M136.5 249.8h0M111.9 198.6h0M124.1 210.0h0M135.3 202.8h0M127.8 251.2h0M113.4 263.9h0M130.6 209.5h0M133.6 254.6h0M152.7 188.7h0M127.6 168.5h0M117.0 208.3h0M115.5 224.5h0M112.6 245.6h0M130.3 197.2h0M122.9 199.2h0M148.3 185.2h0M139.0 173.9h0M122.2 218.2h0M141.7 177.0h0M115.7 196.5h0M115.3 277.5h0M113.2 213.2h0M155.2 179.5h0M152.6 191.4h0M122.0 192.9h0M114.1 254.3h0M120.6 258.9h0M116.8 172.8h0M136.9 259.4h0M135.3 171.6h0M125.5 214.7h0M118.3 204.9h0M112.2 229.2h0M128.8 187.7h0M111.4 235.7h0M116.3 178.6h0M146.4 198.1h0M135.1 259.3h0M109.9 260.2h0M138.1 176.5h0M130.8 247.4h0M159.1 176.9h0M111.7 274.2h0M117.5 185.0h0M118.2 217.7h0M131.3 246.1h0M155.4 181.4h0M123.2 230.4h0M137.5 171.3h0M111.3 248.4h0M129.9 178.7h0M134.5 212.1h0M115.7 176.6h0M153.4 181.1h0M138.4 210.4h0M142.5 198.3h0M131.9 230.5h0M128.2 235.0h0M136.3 257.6h0M128.4 252.6h0M116.9 241.3h0M115.4 209.7h0M150.9 170.2h0M159.7 178.6h0M158.4 171.9h0M153.4 185.5h0M109.6 230.1h0M115.6 235.4h0M130.7 223.5h0M122.0 188.4h0M119.7 235.0h0M124.0 266.5h0M107.0 243.7h0M125.7 217.8h0M116.8 261.9h0M135.0 258.6h0M112.6 222.5h0M112.8 219.6h0M108.1 240.1h0M118.7 193.6h0M130.9 169.0h0M126.5 230.1h0M125.8 268.6h0M157.6 181.7h0M118.5 169.2h0M130.0 226.9h0M110.9 257.5h0M137.1 187.7h0M159.7 172.8h0M116.5 224.6h0M121.1 262.1h0M123.9 268.9h0M110.8 248.1h0M155.2 173.7h0M134.8 193.7h0M112.0 196.7h0M112.5 201.8h0M117.4 198.0h0M116.4 242.6h0M124.2 247.5h0M164.3 173.7h0M135.0 184.3h0M110.8 277.6h0M118.4 177.1h0M112.2 234.4h0M121.0 199.0h0M131.9 221.5h0M131.6 210.3h0M123.1 252.6h0M113.2 276.5h0M131.8 200.4h0M128.2 230.8h0M137.6 202.8h0M108.1 243.0h0M129.4 270.0h0M137.4 194.8h0M137.5 168.1h0M160.3 176.0h0M111.7 265.8h0M125.9 240.0h0M127.6 230.5h0M121.4 201.8h0M129.1 245.5h0M136.1 254.8h0M130.4 171.0h0M128.7 235.9h0M125.6 245.2h0M115.3 225.6h0M121.4 235.1h0M109.6 246.0h0M134.9 258.3h0M127.8 195.1h0M122.8 236.7h0M118.5 188.1h0M132.4 201.6h0M111.4 204.7h0M112.8 219.2h0M127.3 254.5h0M130.9 244.4h0M112.7 240.5h0M113.2 187.5h0M152.5 175.7h0M143.4 170.4h0M124.7 168.0h0M125.1 264.6h0M131.3 220.5h0M123.9 254.2h0M131.0 263.4h0M137.9 214.0h0M126.8 167.7h0M127.0 261.2h0M135.2 178.6h0M125.5 260.3h0M128.0 248.1h0M128.4 209.6h0M131.7 239.8h0M163.0 175.4h0M130.9 181.8h0M149.9 193.7h0M127.3 226.1h0M122.0 168.3h0" stroke="#fff" stroke-width="1.10" stroke-linecap="round" fill="none"/>
<path d="M214.4 203.5h0M214.2 197.7h0M197.5 199.1h0M197.6 195.9h0M199.1 217.1h0M211.1 205.0h0M206.4 194.1h0M198.1 202.5h0M192.9 192.0h0M200.2 208.4h0M197.3 205.7h0M191.9 204.3h0M196.3 192.5h0M209.5 196.7h0M197.9 182.8h0M212.7 204.7h0M204.4 210.3h0M205.5 198.6h0M205.8 198.8h0M204.2 216.4h0M190.2 217.0h0M195.8 192.1h0M194.5 203.7h0M195.2 197.2h0M206.3 196.4h0M207.2 187.8h0M187.4 205.8h0M208.9 187.1h0M187.5 209.6h0M207.9 188.2h0M199.0 183.8h0M188.8 196.3h0M209.9 208.3h0M204.5 203.0h0M206.8 202.4h0M198.6 216.6h0M195.5 198.5h0M196.9 199.7h0M198.7 190.3h0M197.2 214.7h0M192.0 201.6h0M195.0 205.8h0M201.4 189.4h0M206.5 210.0h0M193.0 191.2h0M195.6 195.3h0M211.1 198.0h0M200.5 190.0h0M188.9 198.1h0M192.2 217.0h0M195.6 202.0h0M187.6 210.5h0M202.3 215.1h0M194.3 192.0h0M201.6 196.7h0M188.5 204.8h0M189.1 210.3h0M200.9 214.7h0M213.7 195.0h0M203.0 206.1h0M200.3 215.9h0M194.0 202.7h0M203.2 206.0h0M186.5 215.6h0M200.2 188.2h0M213.1 204.9h0M191.2 208.2h0M190.3 188.8h0M203.1 200.6h0M200.7 182.0h0M202.7 192.1h0M190.8 198.3h0M191.3 201.0h0M191.2 212.4h0M213.8 195.1h0M188.7 208.8h0M210.0 201.8h0M199.8 203.0h0M212.9 197.5h0M192.5 187.4h0M215.5 194.5h0M207.9 199.7h0M189.3 196.8h0M195.2 221.3h0M211.0 206.5h0M195.0 216.5h0M215.5 197.3h0M207.9 212.1h0M207.8 213.5h0M192.1 185.5h0M188.1 204.4h0M189.4 217.1h0M209.3 199.5h0M191.8 199.4h0M214.3 195.1h0M207.8 208.7h0M205.8 216.0h0M207.1 185.5h0M191.3 208.4h0M195.7 220.9h0M194.8 201.9h0M195.6 219.0h0M208.9 205.4h0M209.8 204.4h0M206.6 186.4h0M206.4 196.1h0M198.3 216.1h0M200.2 204.0h0M205.3 184.8h0M189.7 209.2h0" stroke="#cf1f2d" stroke-width="1.50" stroke-linecap="round" fill="none"/>
<path d="M155.3 249.7h0M193.3 196.5h0M168.9 245.2h0M196.5 200.8h0M212.7 191.2h0M155.5 238.3h0M208.3 186.3h0M177.1 228.0h0M148.3 257.7h0M175.4 207.9h0M146.3 256.5h0M199.0 199.3h0M164.7 228.7h0M150.4 242.4h0M150.1 262.9h0M168.7 248.3h0M211.2 197.3h0M167.1 237.2h0M181.1 257.6h0M164.6 249.9h0M195.5 219.1h0M151.8 250.7h0M159.0 243.9h0M202.7 205.6h0M210.2 209.9h0M200.8 215.0h0M209.8 201.1h0M188.2 217.3h0M152.4 258.4h0M150.5 235.4h0M169.3 242.4h0M199.3 206.7h0M165.5 228.9h0M205.7 190.5h0M186.1 218.3h0M169.6 218.2h0M195.6 221.6h0M213.1 199.0h0M203.3 218.1h0M162.3 261.2h0M198.3 204.7h0M171.3 219.2h0M195.1 207.3h0M167.6 227.1h0M184.3 202.5h0M170.1 232.1h0M208.0 187.4h0M210.4 190.1h0M171.8 238.1h0M208.6 210.4h0M198.6 216.7h0M165.2 244.0h0M176.3 252.8h0M148.5 239.4h0M165.6 244.3h0M160.9 247.0h0M202.8 204.7h0M157.6 249.2h0M175.7 261.3h0M171.1 229.8h0" stroke="#cf1f2d" stroke-width="1.30" stroke-linecap="round" fill="none"/>
<path d="M144.2 260.3h0M151.6 234.0h0M176.2 207.7h0M153.3 241.9h0M168.3 225.9h0M210.2 190.7h0M174.6 261.8h0M170.4 239.3h0M172.4 259.0h0M160.4 229.5h0M166.9 231.5h0M170.4 212.6h0M176.3 214.6h0M192.8 197.5h0M182.1 205.9h0M166.5 231.4h0M190.4 209.0h0M164.9 271.3h0M169.9 268.0h0M173.8 226.8h0M176.2 254.2h0M159.5 236.5h0M167.5 236.4h0M165.0 224.3h0M184.5 201.6h0M142.4 254.6h0M161.4 248.9h0M186.9 220.0h0M167.3 226.4h0M171.5 250.8h0M194.7 196.6h0M196.2 191.6h0M207.8 198.2h0M196.0 215.7h0M171.8 267.3h0M174.1 223.8h0M195.6 195.2h0M209.0 194.6h0M149.6 234.9h0M158.7 221.3h0M155.6 247.0h0M179.4 207.8h0M144.8 245.2h0M179.8 222.7h0M150.9 267.6h0M178.1 216.6h0M201.1 204.1h0M215.4 200.7h0M162.1 256.6h0M158.2 247.1h0M161.3 218.5h0M211.9 195.9h0M193.1 205.1h0M170.6 249.5h0M181.9 262.6h0M174.5 260.9h0M163.1 222.1h0M166.0 238.4h0M172.7 256.7h0M180.8 225.0h0M149.8 246.4h0M166.7 220.8h0M185.1 219.5h0M212.2 203.4h0M200.2 204.5h0M195.5 207.0h0M142.5 257.5h0M180.7 203.6h0M163.9 231.7h0M197.6 197.6h0M189.3 218.0h0M168.6 234.9h0M151.3 236.6h0M190.3 202.9h0M156.7 247.8h0M187.7 215.8h0M192.8 201.2h0M173.7 265.4h0M158.4 247.8h0M171.7 245.8h0M160.1 224.8h0M162.9 266.1h0M168.8 230.5h0M150.1 240.4h0M182.4 214.9h0M195.3 201.4h0M187.2 219.3h0M150.8 251.7h0M154.3 253.9h0M150.8 244.5h0M168.8 232.4h0M152.7 250.5h0M207.9 195.4h0M172.8 221.0h0M207.7 207.3h0M211.5 194.2h0M172.9 256.9h0M182.7 200.7h0M160.1 238.8h0M153.4 252.6h0M167.3 234.5h0M157.1 223.6h0M185.1 209.1h0M149.0 260.5h0M177.3 246.1h0M173.1 230.4h0M200.0 202.6h0M154.9 258.6h0M180.5 251.4h0M157.4 268.0h0M181.8 213.3h0M170.8 217.3h0M208.6 207.3h0M162.1 264.0h0M155.0 244.9h0M193.9 214.5h0M166.2 231.3h0M143.5 255.6h0M207.4 189.4h0M204.7 209.5h0M210.3 186.7h0M167.3 267.9h0M210.2 206.3h0M161.3 260.7h0M160.3 262.6h0M149.2 256.4h0M161.8 266.3h0M174.2 214.8h0M192.7 207.4h0M184.4 210.0h0M156.7 260.9h0M156.8 257.4h0M168.6 230.7h0M172.2 252.7h0M175.0 230.8h0M208.1 190.2h0M205.2 211.1h0M166.3 240.3h0M192.5 216.3h0M195.6 213.3h0M168.9 219.2h0M182.7 217.7h0M180.6 227.9h0M148.9 249.9h0M173.4 253.4h0M182.6 205.5h0M198.0 215.0h0M159.5 265.7h0M173.6 243.1h0M160.9 237.6h0" stroke="#fff" stroke-width="1.10" stroke-linecap="round" fill="none"/>
<ellipse cx="129" cy="221" rx="6" ry="8" fill="#fff" opacity="0.75"/>
<ellipse cx="168" cy="241" rx="5" ry="7" fill="#fff" opacity="0.6"/>
<path d="M135.4 213.8h0M126.0 228.0h0M130.8 219.2h0M123.1 213.0h0M125.3 223.1h0M122.9 221.0h0M134.3 212.0h0M126.3 219.4h0M131.1 225.2h0M132.2 219.8h0M127.1 223.3h0M128.9 228.7h0M129.9 222.5h0M132.0 220.7h0M129.4 223.9h0M131.0 230.0h0M126.6 220.9h0M136.6 226.7h0M130.3 217.5h0M124.7 219.5h0M128.4 219.8h0M125.8 220.7h0M130.6 213.8h0M131.9 224.8h0M124.9 216.5h0M122.6 220.5h0M132.1 219.4h0M130.8 222.9h0M122.7 213.0h0M129.6 228.6h0M132.6 220.0h0M125.9 214.4h0M131.7 225.8h0M127.9 213.5h0M126.2 224.7h0M133.6 219.2h0M135.3 219.0h0M122.4 215.7h0M135.4 224.7h0M123.3 217.2h0" stroke="#f07aa0" stroke-width="1.40" stroke-linecap="round" fill="none"/>
<path d="M46.1,298.9 C46.6,299.9 48.8,302.2 50.3,304.1 C51.8,306.0 53.3,308.1 55.1,310.3 C56.9,312.5 58.8,314.7 60.9,317.0 C63.0,319.4 65.3,322.0 67.7,324.4 C70.2,326.8 72.9,329.2 75.7,331.4 C78.5,333.6 81.5,335.5 84.6,337.5 C87.8,339.4 91.2,341.2 94.6,343.0 C98.1,344.8 101.9,346.4 105.5,348.2 C109.1,350.0 112.8,352.2 116.4,353.7 C120.1,355.3 123.6,357.0 127.3,357.7 C131.1,358.4 135.4,358.9 139.0,358.0 C142.6,357.0 146.6,354.8 148.9,351.9 C151.3,349.1 152.9,344.3 152.9,340.8 C152.9,337.4 150.5,333.6 149.1,331.5 C147.6,329.4 145.1,328.5 144.1,328.1 C143.1,327.6 142.9,328.0 142.9,328.9 C142.9,329.9 143.9,331.8 143.9,333.5 C144.0,335.2 143.9,337.7 143.1,339.2 C142.3,340.6 140.4,341.2 139.1,342.1 C137.7,342.9 136.8,343.5 135.0,344.0 C133.3,344.6 131.2,345.2 128.7,345.3 C126.1,345.3 122.9,345.0 119.6,344.3 C116.2,343.5 112.2,342.0 108.5,340.8 C104.8,339.6 100.9,338.4 97.4,337.0 C93.8,335.6 90.5,334.1 87.4,332.5 C84.2,331.0 81.2,329.4 78.3,327.6 C75.5,325.8 72.8,323.7 70.3,321.6 C67.7,319.5 65.3,317.1 63.1,315.0 C60.9,312.8 58.8,310.7 56.9,308.7 C55.0,306.7 53.3,304.7 51.7,302.9 C50.0,301.1 47.9,298.8 46.9,298.1 C46.0,297.4 45.5,297.9 46.1,298.9Z" fill="#5f93e2"/>
<path d="M145.7 341.1h0M137.8 350.4h0M79.3 332.9h0M131.6 354.9h0M98.4 337.6h0M144.3 345.8h0M99.9 342.8h0M139.5 344.9h0M145.7 344.7h0M135.2 346.4h0M132.4 356.0h0M110.7 344.0h0M131.4 347.1h0M149.2 339.2h0M146.9 342.9h0M149.9 341.3h0M99.4 338.2h0M130.7 349.8h0M51.8 303.3h0M106.0 346.7h0M147.3 345.4h0M135.4 356.8h0M114.1 345.3h0M140.8 346.6h0M87.2 338.0h0M49.0 302.0h0M85.8 336.1h0M51.9 303.2h0M76.6 329.0h0M81.6 332.8h0M129.3 348.7h0M76.9 328.5h0M88.5 338.2h0M100.2 343.0h0M147.9 335.2h0M144.1 341.3h0M143.8 349.7h0M143.8 347.1h0M91.7 339.0h0M131.3 355.9h0M118.1 346.4h0M97.8 337.3h0M143.8 331.2h0M112.3 343.9h0M148.1 342.3h0M141.6 340.3h0M115.1 351.3h0M122.7 348.8h0M66.7 323.0h0M139.4 352.5h0M142.1 343.3h0M116.3 353.2h0M141.0 351.0h0M120.7 348.4h0M146.5 336.0h0M143.8 342.6h0M134.6 353.3h0M76.0 329.6h0M150.9 339.9h0M129.7 352.8h0M82.0 335.6h0M123.3 347.7h0M83.7 334.1h0M68.7 324.6h0M51.2 304.4h0M115.8 347.4h0M118.7 349.8h0M117.2 344.7h0M77.3 331.8h0M141.6 348.0h0M46.9 299.6h0M132.3 349.9h0M74.5 327.4h0M103.5 346.6h0M145.3 344.9h0M138.9 357.8h0M120.5 350.0h0M148.8 332.5h0M107.1 340.9h0M143.7 330.0h0M101.9 340.6h0M148.3 342.5h0M135.2 351.3h0M107.6 348.6h0M122.0 352.1h0M148.0 339.5h0M122.1 353.7h0M70.2 323.1h0M51.5 303.5h0M100.6 339.6h0M99.2 342.5h0M138.3 353.6h0M144.7 330.6h0M140.4 355.4h0M132.0 351.8h0M111.6 350.3h0M144.1 332.3h0M130.9 346.5h0M93.4 339.4h0M140.3 357.2h0M71.7 326.1h0M109.2 344.5h0M117.7 349.8h0M66.3 321.2h0M122.8 353.0h0M88.4 339.2h0M145.2 344.9h0M151.0 343.5h0M116.1 349.1h0M120.8 349.5h0" stroke="#cf1f2d" stroke-width="1.40" stroke-linecap="round" fill="none"/>
<path d="M90.4 337.5h0M123.3 345.9h0M104.0 345.8h0M47.7 300.3h0M112.0 350.8h0M102.0 339.2h0M66.0 321.1h0M80.3 329.6h0M126.7 346.2h0M140.8 353.6h0M106.2 344.0h0M136.0 357.4h0M141.2 344.0h0M145.6 353.1h0M149.9 339.5h0M146.2 345.3h0M144.3 337.5h0M152.4 339.9h0M78.0 329.6h0M123.7 345.4h0M151.1 337.3h0M144.1 332.1h0M58.4 314.1h0M140.5 352.9h0M77.8 330.1h0M101.7 343.0h0M94.6 340.4h0M112.9 350.7h0M145.1 337.5h0M94.5 339.5h0M150.4 342.1h0M122.4 354.0h0M136.2 356.5h0M135.9 348.6h0M100.9 343.0h0M143.4 352.2h0M137.1 357.3h0M124.7 349.5h0M143.8 344.7h0M139.0 352.3h0M103.6 344.4h0M135.8 355.1h0M102.6 340.7h0M146.4 350.5h0M106.9 346.5h0M140.5 342.9h0M56.9 311.2h0M70.4 324.5h0M80.6 332.8h0M79.7 331.0h0M136.4 346.8h0M70.3 326.5h0M140.9 353.7h0M132.5 353.3h0M103.4 347.1h0M113.8 342.8h0M136.6 355.0h0M133.3 347.4h0M75.3 327.1h0M57.9 310.1h0" stroke="#fff" stroke-width="1.20" stroke-linecap="round" fill="none"/>
<path d="M131.1 345.1h0M55.4 307.8h0M139.2 342.2h0M92.2 341.2h0M47.8 299.3h0M124.2 352.4h0M74.5 325.1h0M144.2 344.8h0M70.5 322.7h0M96.0 342.6h0M66.2 321.1h0M133.9 349.0h0M137.8 351.4h0M144.3 346.1h0M102.4 341.8h0M91.7 336.7h0M63.3 316.4h0M86.0 335.3h0M117.4 350.4h0M107.5 347.6h0M67.7 321.7h0M142.1 340.3h0M88.9 334.9h0M63.8 319.3h0M98.3 341.8h0M147.1 351.9h0M141.4 353.1h0M129.3 347.9h0M121.2 353.0h0M113.2 343.5h0M93.2 337.7h0M73.3 328.1h0M60.4 313.3h0M147.1 352.9h0M136.8 348.7h0M148.8 332.7h0M131.4 354.9h0M150.7 337.2h0M76.6 331.5h0M62.1 317.6h0" stroke="#f07aa0" stroke-width="1.20" stroke-linecap="round" fill="none"/>
<path d="M30,272 Q33,283 41.5,293" stroke="#f07aa0" stroke-width="2.2" fill="none" stroke-linecap="round"/>
<path d="M273.9,157.2 C277,158 278.8,162 278.8,166.9 L278.3,170.5 L279,172.8 M272.9,160.2 C272.5,163 272.4,165 272.6,167 L273.4,168.4 L280.8,175" stroke="#5f93e2" stroke-width="1.6" fill="none" stroke-linecap="round"/>
<circle cx="272.8" cy="164" r="0.9" fill="#cf1f2d"/><circle cx="278.7" cy="167" r="0.8" fill="#cf1f2d"/><circle cx="280.6" cy="175" r="0.9" fill="#f07aa0"/>
<text x="274.6" y="332.5" font-size="12.2" fill="#5b8def" text-anchor="end" font-weight="normal" font-style="normal" >PDX227 (vehicle)</text>
<text x="274.6" y="345.1" font-size="12.2" fill="#c0272d" text-anchor="end" font-weight="normal" font-style="normal" >PDX224 (VEN-res)</text>
<text x="274.6" y="357.8" font-size="12.2" fill="#e8739f" text-anchor="end" font-weight="normal" font-style="normal" >PDX225 (VEN-res)</text>
<text transform="translate(0.6 407.2) scale(1.0 1)" font-size="25" font-weight="bold" fill="#000">C</text>
<text x="69.2" y="410.8" font-size="12.3" fill="#5b8def" text-anchor="middle" font-weight="normal" font-style="normal" >PDX227</text>
<text x="69.2" y="423.6" font-size="12.3" fill="#5b8def" text-anchor="middle" font-weight="normal" font-style="normal" >(vehicle)</text>
<text x="156.7" y="410.8" font-size="12.3" fill="#c0272d" text-anchor="middle" font-weight="normal" font-style="normal" >PDX224</text>
<text x="156.7" y="423.6" font-size="12.3" fill="#c0272d" text-anchor="middle" font-weight="normal" font-style="normal" >(VEN-res)</text>
<text x="243.8" y="410.8" font-size="12.3" fill="#e8739f" text-anchor="middle" font-weight="normal" font-style="normal" >PDX225</text>
<text x="243.8" y="423.6" font-size="12.3" fill="#e8739f" text-anchor="middle" font-weight="normal" font-style="normal" >(VEN-res)</text>
<rect x="26.60" y="427.80" width="85.20" height="85.50" fill="#fff" stroke="#3c3c3c" stroke-width="1.25" />
<rect x="26.60" y="515.60" width="85.20" height="85.00" fill="#fff" stroke="#3c3c3c" stroke-width="1.25" />
<rect x="26.60" y="602.00" width="85.20" height="86.10" fill="#fff" stroke="#3c3c3c" stroke-width="1.25" />
<rect x="113.50" y="427.80" width="86.30" height="85.50" fill="#fff" stroke="#3c3c3c" stroke-width="1.25" />
<rect x="113.50" y="515.60" width="86.30" height="85.00" fill="#fff" stroke="#3c3c3c" stroke-width="1.25" />
<rect x="113.50" y="602.00" width="86.30" height="86.10" fill="#fff" stroke="#3c3c3c" stroke-width="1.25" />
<rect x="201.20" y="427.80" width="85.30" height="85.50" fill="#fff" stroke="#3c3c3c" stroke-width="1.25" />
<rect x="201.20" y="515.60" width="85.30" height="85.00" fill="#fff" stroke="#3c3c3c" stroke-width="1.25" />
<rect x="201.20" y="602.00" width="85.30" height="86.10" fill="#fff" stroke="#3c3c3c" stroke-width="1.25" />
<path d="M69.2 441.3h0M71.0 442.6h0M67.4 450.1h0M81.8 438.8h0M70.6 450.7h0M74.3 454.8h0M76.3 438.6h0M68.4 456.3h0M70.3 450.6h0M70.1 444.2h0M73.1 439.8h0M75.8 439.7h0M89.8 436.9h0M77.8 440.0h0M74.3 448.6h0M73.8 442.6h0M84.8 437.0h0M72.3 448.3h0M84.8 437.5h0M77.0 438.2h0M66.9 458.1h0M80.6 439.2h0M72.9 454.5h0M68.1 449.7h0M70.1 449.0h0M78.5 440.9h0M69.8 454.7h0M79.2 441.7h0M67.3 451.9h0M81.8 443.1h0M70.3 452.8h0M71.5 446.8h0M68.2 452.8h0M74.6 441.8h0M82.2 437.3h0M82.7 438.4h0M84.0 435.8h0M69.9 445.4h0M74.2 448.6h0M75.3 440.6h0M70.6 455.1h0M78.1 442.5h0M75.7 441.5h0M79.9 439.2h0M77.0 438.7h0M72.3 446.7h0M68.8 458.5h0M70.1 456.4h0M76.8 442.1h0M85.8 436.9h0M77.0 438.4h0M73.5 456.1h0M78.6 438.7h0M73.6 440.0h0M72.4 446.3h0M74.7 436.8h0M78.0 435.0h0M81.7 439.6h0M84.6 435.7h0M82.0 435.9h0M74.6 441.6h0M78.8 441.4h0M88.2 434.8h0M72.3 441.9h0M73.7 442.5h0M82.0 438.8h0M74.3 445.5h0M70.8 439.1h0M72.6 448.2h0M78.0 440.2h0M82.1 435.4h0M81.5 439.9h0M67.0 451.4h0M85.0 435.8h0M75.3 441.5h0M76.2 438.8h0M80.0 438.2h0M68.5 451.3h0M68.0 450.8h0M72.6 445.6h0M84.7 437.2h0M69.5 455.3h0M76.8 438.0h0M81.4 438.0h0M77.2 443.5h0M71.1 449.1h0M74.0 440.7h0M79.0 434.7h0M78.5 441.1h0M72.4 450.6h0M79.2 440.1h0M71.1 443.3h0M76.4 438.0h0M81.0 437.4h0M83.9 436.1h0M70.4 439.9h0M68.6 443.0h0M82.5 437.1h0M78.0 442.5h0M79.0 435.2h0M75.0 446.1h0M81.9 436.2h0M74.9 444.1h0M73.8 446.6h0M75.4 438.7h0M69.4 455.2h0M81.4 439.4h0M80.9 438.8h0M73.9 437.9h0M80.1 438.2h0" stroke="#a3294f" stroke-width="1.10" stroke-linecap="round" fill="none"/>
<path d="M84.8,436.3 C85.9,435.4 89.5,435.1 91.8,435.4 C94.1,435.7 97.0,436.9 98.8,438.1 C100.6,439.3 102.3,440.9 102.7,442.4 C103.1,443.8 102.4,445.5 101.4,446.8 C100.5,448.1 98.5,449.9 97.0,450.3 C95.5,450.7 94.2,449.8 92.7,449.0 C91.2,448.2 89.5,446.8 88.3,445.5 C87.0,444.2 85.8,442.6 85.2,441.1 C84.6,439.6 83.7,437.2 84.8,436.3Z" fill="#d42a36" fill-opacity="0.35"/><path d="M88.8 443.2h0M90.0 446.3h0M96.2 443.2h0M99.9 443.7h0M90.4 441.1h0M102.1 443.2h0M95.1 438.4h0M94.4 442.9h0M102.2 443.1h0M92.0 447.3h0M94.9 442.7h0M94.4 441.6h0M89.6 442.5h0M87.1 441.9h0M93.3 440.1h0M88.2 444.6h0M88.3 438.8h0M97.1 440.2h0M91.2 444.6h0M87.0 443.0h0M89.3 438.3h0M94.3 441.9h0M91.5 441.6h0M94.3 437.8h0M88.5 444.8h0M96.2 443.3h0M100.0 444.5h0M98.1 447.5h0M89.4 436.8h0M99.7 441.7h0M92.0 445.6h0M85.1 438.4h0M97.0 449.0h0M93.9 446.7h0M93.8 445.6h0M88.2 436.5h0M94.7 443.1h0M95.0 437.6h0M88.1 438.4h0M93.1 446.8h0M90.7 442.4h0M94.0 441.8h0M97.3 448.0h0M88.0 442.2h0M98.0 441.4h0M88.3 437.9h0M97.4 448.2h0M96.1 441.4h0M95.5 442.9h0M98.1 447.0h0M99.4 441.4h0M97.2 446.8h0M98.5 441.4h0M90.9 442.4h0M96.2 444.7h0M96.7 440.4h0M96.6 443.9h0M94.3 441.2h0M97.4 446.7h0M95.8 446.4h0M89.4 441.4h0M85.7 438.3h0M91.5 436.9h0M94.6 443.0h0M102.1 443.9h0M95.5 446.7h0M87.7 442.4h0M87.8 442.8h0M101.7 441.7h0M94.2 444.3h0M91.3 439.7h0M96.5 443.8h0M89.9 446.1h0M89.2 436.0h0M92.5 442.5h0M94.2 449.4h0M97.7 442.4h0M95.6 437.1h0M96.0 442.2h0M88.4 436.2h0M94.3 437.3h0M92.7 445.4h0M93.0 439.3h0M95.2 441.7h0M98.7 443.3h0M97.9 439.0h0M98.8 444.7h0M91.2 439.4h0M97.1 443.8h0M95.4 444.8h0M98.3 438.2h0M85.5 436.3h0M89.6 441.7h0M94.5 436.5h0M94.7 444.8h0M91.5 442.5h0M88.6 440.5h0M98.1 447.9h0M86.1 437.2h0M99.3 444.7h0M98.6 438.6h0M92.4 439.2h0M99.3 440.9h0M96.5 450.1h0M90.6 443.6h0M98.2 449.1h0M92.5 440.9h0M86.2 436.6h0M94.9 442.6h0M97.1 439.9h0M88.6 445.3h0M86.3 439.9h0M97.8 445.7h0M89.9 437.5h0M91.2 446.2h0M91.4 437.1h0M97.5 443.9h0M101.1 441.9h0M99.2 439.9h0M90.5 441.4h0M89.2 440.8h0M91.3 440.8h0M91.9 441.2h0M88.3 443.8h0M99.1 443.5h0M99.8 443.8h0M94.5 443.9h0M94.6 447.1h0M86.3 436.6h0M98.0 448.8h0M96.4 439.1h0M94.1 446.8h0M91.9 440.4h0M93.6 443.4h0M97.7 446.0h0M101.2 441.5h0M99.6 445.3h0M100.1 447.4h0M101.9 444.9h0M94.2 446.0h0M99.2 441.7h0M92.3 437.6h0M91.5 437.9h0M88.5 441.7h0M85.9 440.0h0M98.7 438.1h0M95.3 448.9h0M85.5 437.0h0M88.1 438.6h0M95.4 438.7h0M88.1 439.6h0M90.4 443.6h0M99.4 442.5h0M93.4 438.7h0M99.1 441.1h0M94.2 443.1h0M96.6 438.9h0M91.5 447.3h0M97.6 444.4h0M87.6 437.7h0M90.6 439.3h0M100.4 443.1h0M89.6 443.4h0M99.9 447.6h0M86.3 439.4h0M93.4 442.4h0M101.9 444.1h0M100.1 439.9h0M98.9 441.6h0M94.5 443.2h0M90.4 440.0h0M86.2 440.0h0M93.2 446.1h0M91.2 445.6h0M86.7 441.3h0M99.7 445.1h0M97.5 438.9h0M94.9 442.2h0M99.1 438.5h0M95.8 439.7h0M91.5 443.4h0M90.1 440.4h0M91.8 445.3h0M89.4 438.4h0M97.9 440.3h0M101.7 443.8h0M97.8 440.3h0M87.3 436.8h0M96.9 446.0h0M88.0 441.4h0M99.8 444.2h0M86.4 438.8h0M87.6 437.2h0M92.1 436.5h0M101.3 441.8h0M94.0 445.0h0M98.5 447.6h0M91.7 440.3h0M92.2 435.6h0M92.0 445.8h0" stroke="#d42a36" stroke-width="1.20" stroke-linecap="round" fill="none"/>
<path d="M83.0,465.0 C83.7,464.8 85.1,468.5 86.0,470.0 C86.9,471.5 88.1,472.8 88.3,474.0 C88.5,475.2 87.9,476.7 87.0,477.5 C86.1,478.3 84.1,479.1 83.0,478.8 C81.9,478.6 80.7,477.3 80.5,476.0 C80.3,474.7 81.6,472.8 82.0,471.0 C82.4,469.2 82.3,465.2 83.0,465.0Z" fill="#d42a36" fill-opacity="0.3"/><path d="M85.6 473.4h0M83.2 474.0h0M84.5 475.9h0M86.9 473.4h0M81.7 475.6h0M83.2 471.9h0M81.6 474.8h0M86.1 476.5h0M85.0 474.6h0M83.1 477.8h0M83.3 471.4h0M84.7 472.7h0M84.9 468.6h0M86.9 473.3h0M81.5 476.4h0M82.8 477.4h0M82.4 472.9h0M85.7 475.2h0M83.5 473.2h0M82.1 471.5h0M84.6 468.6h0M84.9 469.6h0M84.2 470.7h0M85.4 474.5h0M86.4 475.4h0M87.0 476.8h0M83.7 471.0h0M84.9 477.5h0M84.6 472.2h0M83.9 477.5h0M83.0 465.8h0M86.2 477.4h0M86.2 473.2h0M84.4 470.5h0M84.6 468.3h0M82.9 470.5h0M85.7 477.0h0M83.8 476.1h0M82.2 475.3h0M84.9 477.5h0M81.3 475.9h0M82.4 469.1h0M83.0 465.9h0M83.6 469.9h0M82.9 471.9h0M84.2 467.8h0M82.8 477.7h0M84.2 467.4h0M82.1 473.7h0M82.0 477.1h0" stroke="#d42a36" stroke-width="1.10" stroke-linecap="round" fill="none"/>
<path d="M79.5 480.0h0M78.0 481.0h0M66.0 466.0h0M68.0 467.0h0M62.0 475.0h0M58.0 483.0h0M60.0 486.0h0M77.5 484.0h0M74.0 486.0h0M59.0 490.0h0M61.0 490.5h0M71.0 431.0h0M86.0 428.5h0" stroke="#d42a36" stroke-width="1.10" stroke-linecap="round" fill="none"/>
<path d="M168.9,436.8 C170.0,437.5 171.5,439.2 171.1,441.1 C170.7,443.0 168.0,446.1 166.3,448.1 C164.6,450.2 162.5,451.8 161.0,453.4 C159.5,455.0 158.2,457.4 157.1,457.8 C156.0,458.2 154.8,457.6 154.4,456.0 C154.0,454.4 154.1,450.6 154.9,448.1 C155.7,445.6 157.7,442.9 159.3,441.1 C160.9,439.3 162.9,437.9 164.5,437.2 C166.1,436.5 167.8,436.1 168.9,436.8Z" fill="#a3294f" fill-opacity="0.45"/><path d="M166.5 443.4h0M166.3 439.6h0M158.1 443.3h0M166.3 440.9h0M160.6 450.7h0M158.2 443.1h0M159.0 450.2h0M161.8 447.9h0M164.4 442.8h0M158.6 453.7h0M167.0 442.0h0M159.1 448.3h0M157.5 455.6h0M162.7 440.6h0M163.7 450.3h0M160.4 450.6h0M165.8 447.7h0M170.3 440.5h0M167.4 440.3h0M164.6 441.7h0M158.3 447.1h0M158.1 449.0h0M161.7 446.1h0M158.8 453.6h0M155.6 455.9h0M163.9 448.2h0M167.6 441.8h0M164.8 447.8h0M158.8 449.2h0M155.9 454.0h0M157.1 451.3h0M160.5 441.3h0M169.3 439.8h0M161.0 443.1h0M163.6 441.9h0M160.5 443.9h0M165.3 438.0h0M160.1 451.4h0M160.8 453.2h0M158.0 444.1h0M157.5 448.3h0M158.0 446.6h0M159.6 446.2h0M168.8 441.1h0M165.9 444.4h0M166.3 442.4h0M159.8 444.9h0M155.8 455.3h0M159.8 453.0h0M161.0 441.8h0M164.3 437.5h0M159.6 445.7h0M163.5 439.7h0M166.2 442.3h0M159.1 451.8h0M161.2 444.9h0M168.9 441.5h0M159.3 444.0h0M154.8 450.0h0M158.0 451.3h0M168.9 441.7h0M165.0 438.7h0M161.5 445.0h0M159.9 447.2h0M161.1 446.8h0M157.2 450.8h0M160.1 445.7h0M156.9 449.0h0M166.1 437.3h0M160.9 444.5h0M164.2 446.6h0M159.8 442.1h0M158.8 450.8h0M157.5 446.7h0M160.5 448.9h0M161.3 445.5h0M159.0 454.2h0M156.7 447.4h0M159.6 444.4h0M165.8 441.7h0M161.0 441.8h0M162.6 450.5h0M163.6 449.9h0M159.6 451.8h0M157.1 449.9h0M162.6 448.6h0M160.6 442.8h0M163.0 439.4h0M156.1 451.6h0M156.3 446.3h0M157.1 455.0h0M168.9 437.9h0M158.6 447.5h0M167.7 445.0h0M166.4 442.1h0M166.4 443.7h0M160.0 452.7h0M163.9 445.6h0M165.6 441.7h0M165.9 445.6h0M164.9 445.1h0M155.2 451.8h0M159.2 452.2h0M163.5 446.9h0M160.6 443.3h0M159.1 445.0h0M166.0 448.3h0M167.8 439.9h0M170.0 442.1h0M162.6 439.3h0M163.9 439.8h0M164.8 442.6h0M158.2 446.9h0M160.5 442.3h0M169.3 443.3h0M157.8 455.0h0M162.5 445.5h0M167.9 445.1h0M155.4 448.4h0M166.5 440.5h0M160.4 452.6h0M159.6 447.6h0M166.2 442.1h0M164.0 441.6h0M160.9 444.6h0M160.5 450.2h0M160.3 442.7h0M166.8 441.2h0M165.8 440.5h0M160.3 445.8h0M161.1 443.6h0M157.8 455.3h0M159.8 452.6h0M158.1 445.4h0M166.2 440.5h0M159.0 451.0h0M157.5 444.3h0M165.0 444.7h0M165.2 441.3h0M162.8 448.7h0M156.3 454.4h0M165.9 446.3h0M165.5 445.6h0M160.8 441.6h0M164.4 448.8h0M164.9 446.2h0M164.3 449.3h0M170.0 440.0h0M166.7 443.4h0M162.6 441.7h0M158.6 453.8h0M162.0 448.1h0M168.9 440.9h0M159.1 450.3h0M155.6 448.5h0M158.4 453.6h0M167.7 440.0h0M157.9 450.0h0M157.7 450.8h0M160.1 443.4h0M164.9 442.6h0M166.0 446.6h0M160.4 440.9h0M166.7 444.4h0M159.6 445.4h0M156.8 450.1h0M161.2 446.4h0M160.2 451.6h0M158.3 449.0h0M159.2 455.1h0M159.2 454.7h0M165.7 446.4h0M161.4 442.7h0M159.3 451.4h0M165.6 441.9h0M169.4 442.1h0M161.4 444.0h0M164.3 448.3h0M156.1 455.6h0M160.7 452.0h0M165.6 444.0h0M154.8 450.1h0M162.2 444.4h0M162.2 443.4h0M161.1 450.6h0M157.9 444.6h0M166.8 438.6h0M157.2 450.4h0M158.6 453.8h0M156.4 446.6h0M154.7 454.9h0M163.3 448.0h0M156.3 453.4h0M159.4 447.5h0M156.5 448.7h0M163.0 443.0h0M167.4 442.0h0M158.0 446.3h0M163.7 446.4h0M168.6 439.0h0" stroke="#a3294f" stroke-width="1.20" stroke-linecap="round" fill="none"/>
<path d="M170.2,436.3 C171.4,435.6 174.5,435.0 176.8,435.0 C179.1,435.0 181.9,435.6 183.8,436.3 C185.7,437.0 187.3,438.3 188.2,439.4 C189.1,440.5 189.3,441.7 189.0,442.9 C188.7,444.1 187.7,446.4 186.4,446.8 C185.1,447.2 182.8,445.9 181.2,445.5 C179.6,445.1 178.3,445.2 176.8,444.6 C175.3,444.0 173.6,442.9 172.4,442.0 C171.2,441.1 170.2,440.3 169.8,439.4 C169.4,438.4 169.0,437.0 170.2,436.3Z" fill="#d42a36" fill-opacity="0.5"/><path d="M188.4 441.2h0M177.6 442.2h0M186.4 446.4h0M183.9 443.4h0M172.8 441.3h0M170.3 436.3h0M182.1 445.0h0M170.7 439.9h0M171.3 438.1h0M176.1 440.8h0M182.4 445.5h0M188.0 441.7h0M177.4 438.5h0M184.0 438.0h0M176.9 440.1h0M179.0 439.2h0M178.1 440.3h0M180.3 439.7h0M174.1 436.2h0M176.9 438.7h0M179.1 437.7h0M184.2 440.8h0M176.8 442.1h0M176.9 438.6h0M181.5 442.0h0M175.9 440.9h0M179.7 443.9h0M174.6 438.2h0M185.1 440.0h0M186.3 439.7h0M175.3 443.0h0M185.8 438.9h0M184.9 442.6h0M187.7 443.9h0M183.9 439.9h0M184.8 440.2h0M184.2 439.5h0M178.4 440.2h0M172.1 438.8h0M182.6 441.5h0M172.0 436.4h0M173.9 439.9h0M180.1 444.9h0M178.1 439.5h0M179.3 443.1h0M177.2 444.2h0M173.0 441.9h0M173.7 439.1h0M172.9 439.1h0M181.2 441.1h0M177.3 441.8h0M186.0 439.2h0M181.0 440.7h0M183.2 437.8h0M180.8 438.0h0M177.0 443.5h0M178.1 442.3h0M187.3 440.4h0M179.1 437.7h0M180.7 441.5h0M176.2 436.8h0M188.1 444.0h0M184.9 437.6h0M173.6 441.3h0M181.5 436.4h0M184.5 441.9h0M183.0 439.3h0M188.1 443.5h0M183.8 438.1h0M180.1 438.0h0M175.4 438.0h0M172.3 440.7h0M175.0 438.4h0M175.1 441.0h0M186.3 445.1h0M181.5 441.4h0M183.9 441.3h0M184.7 438.1h0M176.8 444.3h0M174.3 440.3h0M176.9 443.6h0M187.9 441.0h0M180.7 439.1h0M180.7 436.4h0M188.7 443.1h0M186.2 444.3h0M179.8 435.9h0M179.9 437.2h0M179.9 439.2h0M179.4 437.3h0M183.3 439.9h0M179.1 435.9h0M179.1 441.6h0M188.5 441.6h0M172.4 438.5h0M176.2 443.3h0M186.3 446.0h0M181.1 443.1h0M181.6 442.2h0M170.4 436.3h0M186.5 446.3h0M185.7 443.1h0M179.8 441.8h0M184.3 444.5h0M185.8 439.8h0M176.2 439.1h0M174.8 441.9h0M179.9 439.0h0M182.8 440.4h0M173.2 436.8h0M174.7 440.7h0M184.8 438.9h0M174.4 442.7h0M174.8 441.2h0M173.3 437.7h0M175.6 438.9h0M183.7 443.0h0M185.0 441.4h0M174.5 437.6h0M176.9 439.2h0M177.2 436.6h0M185.0 444.2h0M177.1 438.4h0M181.2 443.7h0M178.9 444.7h0M177.1 435.8h0M186.7 443.6h0M188.0 440.4h0M176.9 436.4h0M171.2 437.2h0M176.5 435.6h0M175.7 437.2h0M172.2 441.2h0M180.2 441.7h0M184.4 441.2h0M174.1 435.9h0M187.5 440.9h0M172.9 438.9h0M180.7 438.5h0M178.6 442.1h0M186.0 440.5h0M184.4 439.7h0M170.8 436.9h0M179.4 442.7h0M178.7 437.2h0M170.1 438.6h0M170.6 438.1h0M181.7 439.4h0M178.9 442.4h0M175.9 439.2h0M186.8 441.9h0M177.8 441.4h0M178.6 438.9h0M175.3 437.0h0M183.7 437.8h0M181.0 436.9h0M176.5 441.6h0M179.7 439.5h0M175.0 441.8h0M181.9 440.5h0M171.5 440.9h0M179.1 442.6h0M178.3 436.0h0M185.2 437.8h0M185.7 444.4h0M179.5 440.0h0M179.2 440.7h0M179.5 439.0h0M173.6 437.5h0M185.8 444.5h0" stroke="#d42a36" stroke-width="1.20" stroke-linecap="round" fill="none"/>
<path d="M171.0,470.0 C172.0,469.4 172.3,470.1 173.0,470.5 C173.7,470.9 174.8,471.7 175.0,472.5 C175.2,473.3 175.2,474.4 174.0,475.5 C172.8,476.6 169.4,478.5 168.0,479.0 C166.6,479.5 165.7,479.3 165.5,478.5 C165.3,477.7 166.1,475.4 167.0,474.0 C167.9,472.6 170.0,470.6 171.0,470.0Z" fill="#d42a36" fill-opacity="0.35"/><path d="M173.1 471.6h0M173.2 472.7h0M167.8 478.3h0M168.8 477.1h0M173.8 472.8h0M167.3 476.2h0M171.4 471.1h0M172.4 470.5h0M171.6 474.4h0M169.2 473.2h0M173.1 472.1h0M172.1 474.6h0M167.3 475.8h0M168.6 478.3h0M174.2 472.6h0M168.7 472.5h0M170.5 474.4h0M165.8 477.8h0M170.6 474.3h0M172.6 472.2h0M167.4 475.2h0M168.9 474.7h0M169.4 473.7h0M167.7 474.3h0M169.6 476.2h0M172.7 475.0h0M174.1 472.3h0M170.5 471.7h0M172.8 470.5h0M166.9 475.0h0M168.1 476.5h0M172.4 472.9h0M172.8 475.8h0M172.2 474.1h0M172.1 473.9h0M170.9 476.7h0M169.3 475.8h0M172.0 475.5h0M170.1 475.3h0M167.6 477.8h0" stroke="#d42a36" stroke-width="1.10" stroke-linecap="round" fill="none"/>
<path d="M117.5 486.0h0M151.0 470.0h0M153.0 472.0h0M150.0 484.0h0M160.0 487.0h0M165.0 509.0h0M158.0 509.0h0M168.0 430.0h0M159.0 445.0h0M162.0 481.0h0M160.0 483.0h0M154.0 433.0h0" stroke="#d42a36" stroke-width="1.20" stroke-linecap="round" fill="none"/>
<path d="M243.0,440.0 C244.3,438.7 247.0,437.4 249.0,437.0 C251.0,436.6 253.8,436.5 255.0,437.5 C256.2,438.5 256.5,441.1 256.0,443.0 C255.5,444.9 253.5,447.0 252.0,449.0 C250.5,451.0 248.5,453.7 247.0,455.0 C245.5,456.3 244.0,457.7 243.0,457.0 C242.0,456.3 241.3,453.0 241.0,451.0 C240.7,449.0 240.7,446.8 241.0,445.0 C241.3,443.2 241.7,441.3 243.0,440.0Z" fill="#a3294f" fill-opacity="0.25"/><path d="M248.6 445.2h0M247.0 454.7h0M244.9 452.8h0M251.6 446.0h0M246.5 445.7h0M247.8 443.3h0M250.4 445.2h0M245.6 452.5h0M247.8 446.5h0M246.6 455.0h0M247.0 450.4h0M252.1 442.9h0M250.8 450.4h0M247.5 450.1h0M244.4 452.4h0M246.1 451.2h0M241.3 445.3h0M252.5 442.2h0M250.2 441.4h0M243.9 455.3h0M241.9 448.7h0M246.9 448.8h0M252.2 448.6h0M244.8 451.1h0M249.4 447.9h0M252.7 443.5h0M245.1 448.3h0M248.9 446.9h0M243.5 449.5h0M245.3 453.1h0M247.3 439.9h0M250.1 446.2h0M246.3 452.2h0M242.1 443.0h0M253.4 444.6h0M245.1 444.2h0M249.1 437.5h0M246.6 450.1h0M243.2 443.2h0M244.7 440.6h0M245.0 446.8h0M251.4 437.6h0M244.2 451.1h0M251.5 443.7h0M254.2 441.4h0M248.1 443.3h0M247.6 453.2h0M249.5 449.2h0M244.3 449.4h0M243.3 456.3h0M246.1 445.8h0M247.5 453.6h0M243.6 444.1h0M251.6 441.3h0M244.4 444.3h0M244.4 451.4h0M241.7 450.9h0M249.1 448.7h0M241.3 450.9h0M243.6 442.5h0M245.8 446.3h0M245.3 448.2h0M246.3 444.2h0M244.7 442.8h0M245.7 448.8h0M245.0 439.3h0M253.7 446.4h0M248.7 443.2h0M250.3 450.2h0M251.4 447.0h0M247.2 444.8h0M248.6 446.4h0M248.9 447.7h0M245.3 440.8h0M252.2 446.1h0M247.0 448.1h0M248.7 443.2h0M243.2 444.8h0M250.6 439.2h0M247.5 452.2h0M249.9 448.6h0M243.6 446.3h0M244.3 445.9h0M249.2 443.7h0M249.7 449.6h0M250.9 441.3h0M242.1 452.2h0M249.4 439.0h0M250.6 442.2h0M252.4 438.1h0M243.1 441.0h0M245.8 442.2h0M253.4 440.7h0M250.5 449.3h0M255.0 437.9h0M249.4 444.7h0M253.4 442.0h0M251.7 440.7h0M244.6 442.6h0M244.6 442.8h0M250.4 444.7h0M251.8 446.9h0M241.9 446.8h0M246.8 447.6h0M246.0 440.0h0M243.7 447.0h0M248.5 452.3h0M249.5 441.8h0M243.8 451.5h0M242.2 454.3h0M243.2 440.2h0M254.2 444.6h0M254.7 437.7h0M242.7 442.7h0M244.0 449.8h0M243.5 440.4h0M249.0 444.5h0M243.2 448.4h0M248.6 444.8h0M248.1 437.8h0M250.2 440.9h0M246.9 447.8h0M255.1 439.6h0M246.8 451.2h0M246.6 451.1h0M254.6 437.8h0M245.3 442.9h0M243.8 444.9h0M246.4 449.1h0M243.2 445.1h0" stroke="#a3294f" stroke-width="1.10" stroke-linecap="round" fill="none"/>
<path d="M263.6 438.0h0M246.6 431.4h0M254.3 433.2h0M261.0 431.9h0M251.8 434.7h0M251.5 432.0h0M261.8 436.3h0M246.7 432.0h0M255.4 433.2h0M247.2 431.2h0M259.1 432.8h0M272.1 443.2h0M256.3 436.3h0M258.7 434.4h0M269.4 439.5h0M263.8 437.3h0M258.4 436.5h0M260.7 433.4h0M247.5 432.4h0M259.8 433.3h0M262.3 435.1h0M248.6 432.1h0M252.9 433.1h0M246.7 432.0h0M263.7 435.8h0M248.0 430.5h0M269.9 441.0h0M269.3 438.0h0M254.1 431.6h0M260.7 435.2h0M251.9 432.3h0M261.1 435.9h0M261.6 433.3h0M268.4 441.3h0M260.7 434.3h0M271.3 442.4h0M256.3 439.3h0M246.4 432.4h0M265.8 438.6h0M256.1 433.3h0M258.1 436.1h0M271.7 441.9h0M270.9 441.7h0M251.1 431.1h0M247.0 431.4h0M258.2 434.6h0M272.7 443.2h0M268.7 439.9h0M261.9 438.1h0M268.8 440.2h0M262.1 437.1h0M273.0 444.0h0M250.4 430.7h0M262.7 438.9h0M272.2 441.6h0M261.3 436.8h0M274.2 442.2h0M261.3 436.9h0M267.4 437.8h0M257.1 432.6h0M259.5 435.5h0M251.1 431.3h0M263.6 438.4h0M252.4 432.4h0M248.7 430.7h0M263.7 435.2h0M272.6 441.2h0M263.6 438.4h0M255.5 433.1h0M257.1 432.0h0" stroke="#d42a36" stroke-width="1.00" stroke-linecap="round" fill="none"/>
<path d="M252.5 469.5h0M260.0 471.0h0M261.0 475.0h0M254.0 476.0h0M256.0 477.0h0M257.0 474.0h0M240.0 471.0h0M240.0 472.0h0M238.0 482.0h0M249.0 481.0h0M240.0 431.0h0M241.0 438.0h0" stroke="#d42a36" stroke-width="1.00" stroke-linecap="round" fill="none"/>
<path d="M77.6,530.0 C79.0,528.5 81.7,527.4 84.1,527.3 C86.5,527.2 90.2,528.0 92.0,529.3 C93.8,530.6 94.8,533.6 94.6,535.2 C94.4,536.9 92.7,537.9 90.7,539.2 C88.7,540.5 85.0,542.2 82.8,543.1 C80.6,544.0 78.9,544.6 77.6,544.4 C76.3,544.2 75.2,543.1 74.9,541.8 C74.6,540.5 75.1,538.5 75.6,536.5 C76.0,534.5 76.2,531.5 77.6,530.0Z" fill="#3434ee" fill-opacity="0.6"/><path d="M82.5 538.3h0M79.8 532.7h0M76.9 541.0h0M93.0 532.5h0M82.4 529.3h0M77.7 538.2h0M79.9 540.3h0M79.3 542.3h0M81.9 535.4h0M78.9 532.3h0M83.3 532.1h0M81.3 530.6h0M90.5 537.6h0M86.7 532.8h0M82.0 543.1h0M92.0 537.1h0M77.4 541.1h0M76.7 536.8h0M83.0 530.0h0M89.8 538.3h0M84.2 540.6h0M88.1 530.0h0M85.3 534.4h0M85.1 539.5h0M88.5 537.0h0M83.5 535.3h0M86.0 532.1h0M90.2 533.0h0M76.7 542.4h0M90.0 537.4h0M88.0 534.4h0M85.2 530.8h0M84.0 531.7h0M88.2 529.1h0M77.6 530.7h0M85.4 537.2h0M91.4 533.8h0M78.0 541.4h0M79.5 542.7h0M92.8 535.4h0M77.4 533.3h0M79.7 538.4h0M83.5 535.1h0M84.1 533.6h0M83.9 539.0h0M88.9 532.9h0M86.1 529.8h0M76.5 534.6h0M82.2 532.6h0M77.6 537.4h0M91.4 533.8h0M75.2 540.4h0M79.4 539.7h0M78.6 532.7h0M80.9 535.0h0M81.9 535.4h0M90.5 531.8h0M90.8 529.4h0M80.9 534.9h0M78.9 542.7h0M91.9 536.0h0M80.7 534.5h0M79.7 539.8h0M81.6 531.2h0M83.0 536.6h0M82.8 537.0h0M88.2 533.0h0M84.6 533.8h0M80.7 532.4h0M84.4 527.6h0M92.2 533.5h0M83.6 536.3h0M90.4 536.8h0M84.6 533.2h0M89.7 535.9h0M88.2 535.2h0M85.4 537.2h0M85.2 541.3h0M89.7 537.8h0M78.1 536.9h0M77.7 540.2h0M84.5 539.9h0M80.9 542.4h0M90.2 532.0h0M76.5 539.4h0M93.3 536.3h0M81.6 529.1h0M77.3 534.9h0M80.3 538.8h0M77.1 533.0h0M83.0 535.4h0M83.5 537.5h0M79.4 531.5h0M84.0 538.3h0M86.8 533.3h0M79.0 539.8h0M79.6 531.4h0M80.1 529.1h0M89.0 535.4h0M84.9 531.9h0M85.2 538.6h0M81.3 538.2h0M77.8 543.9h0M79.1 531.2h0M86.1 528.6h0M76.1 539.8h0M94.4 534.9h0M88.2 538.7h0M88.6 533.6h0M87.5 528.5h0M90.7 535.2h0M78.9 535.0h0M88.3 536.7h0M82.7 531.5h0M79.4 531.1h0M83.1 539.2h0M75.3 542.1h0M86.9 539.8h0M87.0 533.4h0M81.6 528.5h0M88.1 537.7h0M84.0 527.6h0M87.0 538.2h0M91.9 537.8h0M91.3 538.0h0M94.4 535.2h0M92.6 534.1h0M82.7 532.0h0M88.5 529.0h0M80.9 534.1h0M77.3 537.5h0M83.2 541.0h0M78.8 536.4h0M80.8 542.6h0M80.6 535.7h0M85.2 531.8h0M85.4 528.4h0M81.8 532.2h0M88.7 537.5h0M78.0 537.0h0M87.2 537.6h0M77.5 543.9h0M85.0 531.9h0M76.3 538.7h0M80.0 531.0h0M80.9 537.7h0M81.2 538.7h0M79.9 541.4h0M76.7 537.2h0M89.0 536.3h0M76.1 542.5h0M91.0 535.8h0M83.7 527.8h0M88.3 529.3h0M89.1 539.3h0M81.4 540.5h0M86.3 534.4h0M85.3 532.0h0M80.6 542.5h0M81.8 540.5h0M82.1 530.6h0M86.5 528.4h0M87.0 537.9h0M79.5 531.1h0M84.6 534.5h0M81.1 541.4h0M85.4 529.1h0M75.5 537.7h0M88.7 531.3h0M89.2 531.5h0M78.0 543.8h0M85.6 528.2h0M82.2 542.9h0M75.7 542.4h0M81.9 528.7h0M81.9 530.8h0M83.4 537.8h0M87.9 528.9h0M85.4 528.3h0M83.6 541.1h0M80.1 541.4h0M79.7 534.0h0M85.8 536.5h0M88.6 531.1h0M78.8 535.5h0M80.4 536.8h0M76.7 539.2h0M83.1 528.2h0M77.3 543.3h0M78.2 539.7h0M76.5 541.0h0M86.8 535.4h0M77.2 538.3h0M86.6 538.3h0M77.6 532.5h0M77.7 535.7h0M75.5 542.1h0M90.8 531.0h0M90.0 535.4h0M83.4 542.1h0M80.3 537.8h0M76.2 538.9h0M93.7 535.9h0M77.8 537.0h0M76.2 535.2h0M76.5 534.4h0M91.7 535.1h0M83.6 528.2h0M90.4 537.0h0M82.9 529.8h0M83.9 528.4h0M83.3 529.6h0M91.2 537.7h0M92.0 536.8h0M78.0 532.0h0M91.4 537.3h0M87.6 538.1h0M83.4 541.7h0M85.9 534.3h0M75.5 541.1h0" stroke="#3434ee" stroke-width="1.20" stroke-linecap="round" fill="none"/>
<path d="M68.4,549.7 C69.5,548.5 74.6,545.4 76.2,545.1 C77.8,544.8 77.8,546.6 78.0,548.0 C78.2,549.4 78.4,552.7 77.6,553.6 C76.8,554.5 74.3,553.7 73.0,553.5 C71.7,553.3 70.5,552.9 69.7,552.3 C68.9,551.7 67.3,550.9 68.4,549.7Z" fill="#5d9be0" fill-opacity="0.65"/><path d="M76.8 546.4h0M70.8 550.3h0M77.2 551.5h0M71.1 550.3h0M71.2 551.6h0M70.9 552.5h0M74.9 552.7h0M74.0 547.3h0M74.6 547.7h0M74.3 547.2h0M69.8 551.5h0M71.0 548.2h0M77.4 552.1h0M76.4 553.4h0M74.2 553.0h0M74.4 550.0h0M71.5 548.3h0M73.9 547.2h0M74.6 552.4h0M75.3 547.0h0M72.6 552.3h0M73.7 549.5h0M74.2 549.8h0M74.9 549.8h0M73.7 547.1h0M76.9 553.1h0M71.2 550.0h0M73.4 549.0h0M70.1 551.8h0M74.6 550.2h0M74.4 549.2h0M74.3 547.6h0M72.9 551.0h0M70.5 551.3h0M74.0 553.4h0M74.3 549.8h0M75.8 547.6h0M72.0 548.8h0M75.5 551.2h0M77.8 549.3h0M75.3 550.3h0M75.9 548.8h0M75.5 550.2h0M74.5 549.8h0M74.8 549.9h0M69.3 550.8h0M75.2 548.7h0M77.7 549.2h0M70.0 549.4h0M76.9 546.6h0M75.2 546.5h0M77.1 548.9h0M74.5 549.0h0M72.6 552.5h0M69.5 549.7h0M72.9 549.8h0M76.0 550.2h0M74.1 547.4h0M73.7 552.5h0M73.1 547.5h0" stroke="#5d9be0" stroke-width="1.20" stroke-linecap="round" fill="none"/>
<path d="M64.4 528.3h0M75.5 535.2h0M82.1 529.7h0M82.8 537.0h0M89.8 549.0h0M67.5 555.2h0M79.9 532.1h0M68.2 545.7h0M75.5 544.6h0M68.2 551.0h0M68.6 551.3h0M75.5 534.4h0M81.1 538.8h0M79.9 540.2h0M96.0 546.7h0M61.7 555.6h0M58.6 521.9h0M90.7 529.9h0M59.2 526.3h0M77.8 550.4h0M58.8 526.0h0M58.5 521.9h0M70.6 537.7h0M96.7 543.3h0M92.2 541.3h0M94.4 544.2h0M67.6 533.4h0M77.2 524.0h0M95.0 537.4h0M66.0 537.7h0M90.2 529.8h0M81.5 523.3h0M67.7 526.7h0M78.2 544.8h0M67.1 544.8h0M81.4 547.0h0M97.8 532.0h0M97.9 536.4h0M78.4 526.4h0M61.4 543.2h0" stroke="#3434ee" stroke-width="0.90" stroke-linecap="round" fill="none"/>
<path d="M57.0 593.0h0M59.0 594.0h0M62.0 593.0h0M66.0 594.0h0M69.0 593.0h0M71.0 590.0h0M72.0 591.0h0M68.0 596.0h0M70.0 597.0h0M60.0 564.0h0M61.0 566.0h0M59.0 570.0h0" stroke="#3434ee" stroke-width="1.10" stroke-linecap="round" fill="none"/>
<path d="M169.3 530.6h0M174.5 532.2h0M169.6 532.6h0M168.7 526.2h0M173.4 534.2h0M176.4 529.8h0M161.0 531.5h0M164.6 523.6h0M169.0 527.4h0M168.5 528.4h0M172.9 533.0h0M171.1 534.1h0M165.0 538.2h0M157.9 532.6h0M174.2 528.7h0M168.8 526.0h0M165.5 531.1h0M160.6 523.4h0M166.0 527.2h0M162.4 529.5h0M160.0 533.8h0M174.9 530.2h0M164.6 529.9h0M167.5 527.3h0M164.3 531.5h0M162.8 527.9h0M165.4 526.6h0M169.6 525.7h0M173.5 532.5h0M167.9 532.9h0M174.5 528.7h0M167.8 528.0h0M165.9 528.7h0M168.6 531.8h0M180.9 531.2h0M173.6 529.3h0M177.7 530.5h0M167.0 529.1h0M168.2 528.7h0M169.1 536.0h0M168.5 527.5h0M157.2 529.7h0M162.2 527.4h0M168.9 531.2h0M170.8 533.9h0M162.5 527.8h0M162.9 526.6h0M164.2 527.1h0M172.0 526.4h0M180.8 523.0h0M172.8 524.7h0M165.2 525.9h0M168.0 531.6h0M165.6 527.8h0M162.2 527.1h0M163.0 527.7h0M168.3 533.0h0M163.9 523.1h0M165.8 532.8h0M162.0 531.2h0M161.2 525.7h0M169.2 523.7h0M165.5 520.8h0M161.8 531.2h0M165.0 527.5h0M171.0 526.8h0M161.2 528.5h0M167.4 530.4h0M166.8 533.9h0M171.1 529.4h0" stroke="#3434ee" stroke-width="0.90" stroke-linecap="round" fill="none" stroke-opacity="1.0"/>
<path d="M163.3 554.5h0M161.2 540.6h0M147.3 552.6h0M148.2 541.0h0M163.9 548.5h0M161.8 551.7h0M150.2 545.1h0M148.7 542.6h0M155.9 551.3h0M152.2 548.3h0M149.5 540.1h0M148.1 546.6h0M157.6 549.3h0M154.6 553.7h0M160.0 546.4h0M162.7 538.6h0M152.3 546.0h0M157.8 554.1h0M159.2 535.9h0M164.0 544.3h0M150.7 550.2h0M158.3 552.1h0" stroke="#3434ee" stroke-width="0.90" stroke-linecap="round" fill="none"/>
<path d="M142.0 592.0h0" stroke="#3434ee" stroke-width="1.00" stroke-linecap="round" fill="none"/>
<path d="M244.0 530.0h0M258.0 531.0h0M260.0 534.0h0M246.0 538.0h0M249.0 541.0h0M243.0 548.0h0M252.0 540.0h0M247.0 592.0h0" stroke="#3434ee" stroke-width="0.90" stroke-linecap="round" fill="none"/>
<path d="M77.1 614.7h0M73.8 621.9h0M69.1 625.7h0M61.0 614.6h0M59.7 606.9h0M76.0 631.1h0M71.1 636.7h0M79.3 628.4h0M66.4 636.6h0M68.9 634.7h0M64.8 638.4h0M82.3 612.1h0M84.3 611.3h0M70.4 618.9h0M68.4 618.3h0M61.4 619.6h0M58.7 633.1h0M69.2 630.2h0M72.1 639.1h0M90.2 630.0h0M88.6 637.1h0M92.2 620.0h0M78.7 608.3h0M69.6 617.2h0M79.9 606.3h0M85.2 608.5h0M71.9 622.5h0M88.7 627.5h0M60.9 628.7h0M64.4 627.0h0" stroke="#f0a0bc" stroke-width="0.90" stroke-linecap="round" fill="none"/>
<path d="M59.4 640.2h0M65.0 637.6h0M64.3 642.8h0M66.3 638.5h0M62.2 636.2h0M69.5 636.6h0M64.9 640.5h0M61.9 637.1h0M67.2 636.0h0M70.4 637.5h0M67.2 638.5h0M67.5 638.2h0M72.8 637.5h0M68.1 635.5h0M73.4 639.3h0M69.9 637.7h0M64.6 637.1h0M69.0 634.1h0" stroke="#f08cb0" stroke-width="1.00" stroke-linecap="round" fill="none" stroke-opacity="1.0"/>
<path d="M162.9 617.3h0M143.1 632.1h0M157.6 632.3h0M146.2 619.3h0M163.6 610.1h0M145.0 635.9h0M179.5 638.0h0M163.8 629.2h0M166.1 620.8h0M148.9 626.2h0M159.7 627.4h0M143.7 614.7h0M146.5 630.2h0M161.2 614.4h0M173.3 622.2h0M153.6 618.0h0M142.1 607.0h0M143.5 636.7h0M177.1 623.0h0M179.6 622.8h0M169.3 608.5h0M159.5 625.2h0M158.4 626.5h0M155.7 626.6h0M150.3 621.2h0M159.1 622.4h0M144.2 613.0h0M170.6 610.5h0" stroke="#f0a0bc" stroke-width="0.90" stroke-linecap="round" fill="none"/>
<path d="M137.8 638.4h0M144.6 633.9h0M150.2 629.2h0M146.3 639.0h0M149.0 636.3h0M146.3 637.5h0M143.7 635.3h0M151.7 634.3h0M148.5 635.9h0M144.7 631.2h0M146.0 634.7h0M145.4 636.8h0M150.0 638.8h0M150.2 633.5h0M153.7 638.0h0M151.5 633.2h0M152.7 643.7h0M150.7 640.3h0M147.0 637.4h0M148.8 638.9h0M149.5 637.8h0M145.8 633.5h0M148.9 644.4h0M145.6 638.5h0M153.5 635.1h0M143.3 638.1h0M148.8 634.4h0M154.1 639.1h0M148.9 632.9h0M153.3 640.3h0" stroke="#f08cb0" stroke-width="1.00" stroke-linecap="round" fill="none" stroke-opacity="1.0"/>
<path d="M231.0,607.0 C231.9,605.2 233.8,604.9 236.0,604.5 C238.2,604.1 241.5,604.2 244.0,604.5 C246.5,604.8 250.2,604.8 251.0,606.0 C251.8,607.2 250.2,610.0 249.0,612.0 C247.8,614.0 245.5,616.0 244.0,618.0 C242.5,620.0 241.3,622.3 240.0,624.0 C238.7,625.7 237.3,627.8 236.0,628.0 C234.7,628.2 232.9,627.2 232.0,625.0 C231.1,622.8 230.7,618.0 230.5,615.0 C230.3,612.0 230.1,608.8 231.0,607.0Z" fill="#eab3c8" fill-opacity="0.75"/><path d="M234.1 623.2h0M232.0 613.1h0M245.5 607.1h0M231.3 614.2h0M235.2 606.4h0M244.9 609.4h0M234.0 612.0h0M233.8 621.7h0M246.1 610.8h0M232.1 624.6h0M242.1 606.5h0M240.0 615.0h0M236.1 625.6h0M231.1 618.6h0M246.1 608.5h0M244.2 614.8h0M234.9 611.0h0M237.9 621.8h0M241.8 612.0h0M246.6 606.0h0M236.3 615.4h0M236.6 623.9h0M239.7 605.7h0M231.1 618.7h0M242.9 617.2h0M231.9 617.7h0M241.2 611.7h0M235.1 608.2h0M240.4 613.1h0M236.2 618.8h0M235.8 622.0h0M234.7 618.5h0M237.9 610.8h0M243.3 607.5h0M234.1 606.7h0M243.8 613.6h0M241.4 612.5h0M237.1 605.7h0M232.8 625.0h0M236.6 604.7h0M250.4 606.4h0M240.2 619.7h0M237.4 620.4h0M232.3 623.0h0M241.4 606.6h0M242.1 608.5h0M233.4 606.4h0M239.4 611.3h0M246.1 607.3h0M235.0 618.5h0M242.5 613.9h0M237.7 607.8h0M244.8 613.2h0M232.1 614.4h0M243.2 609.1h0M239.9 604.8h0M241.0 606.1h0M233.3 616.4h0M241.5 609.5h0M242.5 611.8h0M244.9 605.7h0M234.0 611.3h0M243.4 606.7h0M249.2 609.7h0M238.9 606.2h0M234.3 608.7h0M241.7 619.5h0M233.4 609.7h0M242.9 610.1h0M248.0 609.5h0M236.9 618.6h0M243.1 619.2h0M241.8 610.0h0M235.4 606.5h0M231.7 618.2h0M232.3 625.1h0M250.2 607.9h0M230.6 613.5h0M237.9 611.8h0M231.9 610.2h0M230.9 615.0h0M240.4 609.9h0M237.7 622.2h0M246.4 612.8h0M245.7 612.8h0M234.0 614.3h0M232.8 621.4h0M235.7 616.2h0M241.8 617.0h0M234.4 616.3h0" stroke="#d39ab2" stroke-width="1.20" stroke-linecap="round" fill="none"/>
<path d="M230.0,631.0 C231.3,629.8 234.2,628.7 236.0,629.0 C237.8,629.3 240.0,631.2 241.0,633.0 C242.0,634.8 242.2,637.7 242.0,640.0 C241.8,642.3 241.3,645.6 240.0,647.0 C238.7,648.4 235.8,649.2 234.0,648.5 C232.2,647.8 230.0,645.1 229.0,643.0 C228.0,640.9 227.8,638.0 228.0,636.0 C228.2,634.0 228.7,632.2 230.0,631.0Z" fill="#ef6d9a" fill-opacity="0.7"/><path d="M232.4 642.9h0M230.9 641.1h0M233.5 642.3h0M234.6 631.2h0M229.3 641.0h0M236.6 640.9h0M235.1 638.9h0M234.1 644.9h0M237.3 644.7h0M231.0 633.5h0M239.5 647.0h0M231.2 638.5h0M240.5 643.1h0M236.2 646.4h0M236.6 643.7h0M232.1 635.0h0M240.7 644.4h0M236.8 643.4h0M231.9 631.0h0M230.4 634.1h0M236.0 635.3h0M237.6 644.9h0M229.7 639.0h0M235.5 644.8h0M238.8 643.4h0M232.8 638.6h0M229.2 641.5h0M230.6 638.0h0M239.0 640.0h0M237.2 630.0h0M230.8 640.4h0M238.1 630.8h0M229.3 635.1h0M233.8 635.5h0M237.0 647.6h0M236.9 646.9h0M229.8 641.0h0M233.1 645.5h0M236.4 641.0h0M229.9 637.5h0M229.2 639.9h0M231.1 642.6h0M231.8 639.1h0M238.0 631.3h0M236.7 631.5h0M235.4 630.8h0M231.9 637.8h0M235.6 641.8h0M241.0 635.5h0M232.9 633.1h0" stroke="#ef6d9a" stroke-width="1.20" stroke-linecap="round" fill="none"/>
<path d="M265.3 621.5h0M245.8 613.6h0M253.6 642.6h0M254.2 641.6h0M255.4 631.2h0M247.5 623.4h0M264.8 608.8h0M254.8 616.4h0M248.8 620.2h0M245.3 630.9h0M239.5 615.7h0M247.8 613.1h0M268.9 635.9h0M270.8 611.0h0M244.9 619.1h0M256.8 642.5h0M268.9 643.7h0M238.6 606.2h0M250.5 624.3h0M238.2 620.8h0M242.7 644.3h0M245.8 619.3h0M244.5 643.2h0M242.2 624.8h0M246.2 616.1h0M274.8 637.1h0M265.2 621.0h0M274.2 648.4h0M261.5 615.2h0M239.8 629.5h0" stroke="#eab3c8" stroke-width="0.90" stroke-linecap="round" fill="none"/>
<path d="M232.0 653.0h0M233.0 657.0h0M234.0 656.0h0M244.0 677.0h0M270.0 612.0h0M271.0 614.0h0" stroke="#ef6d9a" stroke-width="1.00" stroke-linecap="round" fill="none"/>
<rect x="200.40" y="601.60" width="86.20" height="86.80" fill="none" stroke="#000" stroke-width="2.3" />
<text x="22.4" y="467.2" font-size="12" fill="#d42a3a" text-anchor="end" font-weight="normal" font-style="normal" >C1</text>
<text x="22.4" y="481.0" font-size="12" fill="#a02848" text-anchor="end" font-weight="normal" font-style="normal" >C4</text>
<text x="22.4" y="553.8" font-size="12" fill="#3535e8" text-anchor="end" font-weight="normal" font-style="normal" >C2</text>
<text x="22.4" y="567.1" font-size="12" fill="#5b9be0" text-anchor="end" font-weight="normal" font-style="normal" >C14</text>
<text x="22.4" y="635.5" font-size="12" fill="#f0b8cc" text-anchor="end" font-weight="normal" font-style="normal" >C3</text>
<text x="22.4" y="647.9" font-size="12" fill="#ee6e9a" text-anchor="end" font-weight="normal" font-style="normal" >C5</text>
<text x="22.4" y="660.4" font-size="12" fill="#d49ab0" text-anchor="end" font-weight="normal" font-style="normal" >C6</text>
<text transform="translate(1.1 712.0) scale(1.0 1)" font-size="25" font-weight="bold" fill="#000">D</text>
<rect x="22.80" y="713.10" width="261.90" height="8.60" fill="#ee5f6b" stroke="none" stroke-width="1" />
<text x="24.1" y="719.4" font-size="5.6" fill="#1a1a1a" text-anchor="start" font-weight="normal" font-style="normal" textLength="58" lengthAdjust="spacingAndGlyphs">Cell Cycle R-HSA-1640170</text>
<rect x="22.80" y="723.98" width="219.00" height="8.60" fill="#e65a66" stroke="none" stroke-width="1" />
<text x="24.1" y="730.3" font-size="5.6" fill="#1a1a1a" text-anchor="start" font-weight="normal" font-style="normal" textLength="81" lengthAdjust="spacingAndGlyphs">RHO GTPase Effectors R-HSA-195258</text>
<rect x="22.80" y="734.86" width="123.10" height="8.60" fill="#a8404f" stroke="none" stroke-width="1" />
<text x="24.1" y="741.2" font-size="5.6" fill="#1a1a1a" text-anchor="start" font-weight="normal" font-style="normal" textLength="49.3" lengthAdjust="spacingAndGlyphs">M Phase R-HSA-68886</text>
<rect x="22.80" y="745.74" width="106.00" height="8.60" fill="#a03e4c" stroke="none" stroke-width="1" />
<text x="24.1" y="752.0" font-size="5.6" fill="#1a1a1a" text-anchor="start" font-weight="normal" font-style="normal" textLength="97" lengthAdjust="spacingAndGlyphs">RHO GTPases Activate PKNs R-HSA-5625740</text>
<rect x="22.80" y="756.62" width="101.60" height="8.60" fill="#9c3e4b" stroke="none" stroke-width="1" />
<text x="24.1" y="762.9" font-size="5.6" fill="#1a1a1a" text-anchor="start" font-weight="normal" font-style="normal" textLength="70" lengthAdjust="spacingAndGlyphs">Cell Cycle, Mitotic R-HSA-69278</text>
<rect x="22.80" y="767.50" width="76.20" height="8.60" fill="#8f3b47" stroke="none" stroke-width="1" />
<text x="24.1" y="773.8" font-size="5.6" fill="#1a1a1a" text-anchor="start" font-weight="normal" font-style="normal" textLength="77" lengthAdjust="spacingAndGlyphs">Signal Transduction R-HSA-162582</text>
<rect x="22.80" y="778.38" width="58.90" height="8.60" fill="#863844" stroke="none" stroke-width="1" />
<text x="24.1" y="784.7" font-size="5.6" fill="#1a1a1a" text-anchor="start" font-weight="normal" font-style="normal" textLength="127" lengthAdjust="spacingAndGlyphs">Condensation Of Prophase Chromosomes R-HSA-2299718</text>
<rect x="22.80" y="789.26" width="55.60" height="8.60" fill="#823743" stroke="none" stroke-width="1" />
<text x="24.1" y="795.6" font-size="5.6" fill="#1a1a1a" text-anchor="start" font-weight="normal" font-style="normal" textLength="99.6" lengthAdjust="spacingAndGlyphs">Generic Transcription Pathway R-HSA-212436</text>
<rect x="22.80" y="800.14" width="32.40" height="8.60" fill="#7d3541" stroke="none" stroke-width="1" />
<text x="24.1" y="806.4" font-size="5.6" fill="#1a1a1a" text-anchor="start" font-weight="normal" font-style="normal" textLength="100.7" lengthAdjust="spacingAndGlyphs">RNA Polymerase II Transcription R-HSA-73857</text>
<rect x="22.80" y="811.02" width="25.80" height="8.60" fill="#7c3541" stroke="none" stroke-width="1" />
<text x="24.1" y="817.3" font-size="5.6" fill="#1a1a1a" text-anchor="start" font-weight="normal" font-style="normal" textLength="79.5" lengthAdjust="spacingAndGlyphs">Cellular Senescence R-HSA-2559583</text>
<text transform="translate(327.6 19.2) scale(0.92 1)" font-size="25" font-weight="bold" fill="#000">E</text>
<path d="M391.5,10V309M445.7,10V309M499.9,10V309M554.1,10V309M608.3,10V309M662.5,10V309M379.5,296.3H668M379.5,256.6H668M379.5,216.8H668M379.5,177.1H668M379.5,137.3H668M379.5,97.6H668M379.5,57.8H668M379.5,18.1H668M379.5,10.3H668M668,10V309" stroke="#e8e8e8" stroke-width="0.8" fill="none"/>
<path d="M379.6,9.5V309.6H668M377.4,296.3H379.6M378.3,288.4H379.6M378.3,280.4H379.6M378.3,272.4H379.6M378.3,264.5H379.6M377.4,256.6H379.6M378.3,248.6H379.6M378.3,240.7H379.6M378.3,232.7H379.6M378.3,224.8H379.6M377.4,216.8H379.6M378.3,208.9H379.6M378.3,200.9H379.6M378.3,192.9H379.6M378.3,185.0H379.6M377.4,177.1H379.6M378.3,169.1H379.6M378.3,161.2H379.6M378.3,153.2H379.6M378.3,145.3H379.6M377.4,137.3H379.6M378.3,129.3H379.6M378.3,121.4H379.6M378.3,113.5H379.6M378.3,105.5H379.6M377.4,97.6H379.6M378.3,89.6H379.6M378.3,81.7H379.6M378.3,73.7H379.6M378.3,65.8H379.6M377.4,57.8H379.6M378.3,49.8H379.6M378.3,41.9H379.6M378.3,34.0H379.6M378.3,26.0H379.6M377.4,18.1H379.6M378.3,10.1H379.6M378.3,304.2H379.6M378.3,304.2H379.6M391.5,309.6V311.8M445.7,309.6V311.8M499.9,309.6V311.8M554.1,309.6V311.8M608.3,309.6V311.8M662.5,309.6V311.8M380.7,309.6V310.9M402.3,309.6V310.9M413.2,309.6V310.9M424.0,309.6V310.9M434.9,309.6V310.9M456.5,309.6V310.9M467.4,309.6V310.9M478.2,309.6V310.9M489.1,309.6V310.9M510.7,309.6V310.9M521.6,309.6V310.9M532.4,309.6V310.9M543.3,309.6V310.9M564.9,309.6V310.9M575.8,309.6V310.9M586.6,309.6V310.9M597.5,309.6V310.9M619.1,309.6V310.9M630.0,309.6V310.9M640.8,309.6V310.9M651.7,309.6V310.9" stroke="#222" stroke-width="0.9" fill="none"/>
<text x="372.8" y="298.4" font-size="5.8" fill="#444" text-anchor="middle">0</text>
<text x="372.8" y="258.7" font-size="5.8" fill="#444" text-anchor="middle">1</text>
<text x="372.8" y="218.9" font-size="5.8" fill="#444" text-anchor="middle">2</text>
<text x="372.8" y="179.2" font-size="5.8" fill="#444" text-anchor="middle">3</text>
<text x="372.8" y="139.4" font-size="5.8" fill="#444" text-anchor="middle">4</text>
<text x="372.8" y="99.7" font-size="5.8" fill="#444" text-anchor="middle">5</text>
<text x="372.8" y="59.9" font-size="5.8" fill="#444" text-anchor="middle">6</text>
<text x="372.8" y="20.2" font-size="5.8" fill="#444" text-anchor="middle">7</text>
<text x="391.5" y="318.2" font-size="5.6" fill="#444" text-anchor="middle">0</text>
<text x="445.7" y="318.2" font-size="5.6" fill="#444" text-anchor="middle">10</text>
<text x="499.9" y="318.2" font-size="5.6" fill="#444" text-anchor="middle">20</text>
<text x="554.1" y="318.2" font-size="5.6" fill="#444" text-anchor="middle">30</text>
<text x="608.3" y="318.2" font-size="5.6" fill="#444" text-anchor="middle">40</text>
<text x="662.5" y="318.2" font-size="5.6" fill="#444" text-anchor="middle">50</text>
<text x="365.6" y="159.7" font-size="6.1" fill="#555" font-style="italic" text-anchor="middle" transform="rotate(-90 365.6 159.7)">-log10(p-value)</text>
<text x="523.8" y="326.8" font-size="6.1" fill="#555" font-style="italic" text-anchor="middle">Odds Ratio</text>
<path d="M392.9 295.6h0M393.1 295.1h0M393.5 294.4h0M393.9 293.5h0M394.3 292.6h0M394.7 291.6h0M395.2 290.6h0M395.5 289.9h0M395.8 289.2h0M396.2 288.5h0M396.5 287.7h0M396.9 287.0h0M397.2 286.2h0M397.6 285.4h0M397.9 284.7h0M398.3 284.0h0M398.7 283.2h0M399.1 282.5h0M399.6 281.8h0M400.0 281.0h0M400.4 280.3h0M400.9 279.6h0M401.3 279.0h0M401.8 278.3h0M402.3 277.5h0M402.9 276.8h0M403.4 276.1h0M404.0 275.4h0M404.5 274.7h0M405.1 274.0h0M405.6 273.4h0M406.2 272.7h0M406.9 272.1h0M407.5 271.5h0M408.1 270.9h0M408.7 270.3h0M409.4 269.8h0M410.0 269.3h0M410.6 268.9h0M411.1 268.4h0M411.8 268.0h0M412.6 267.5h0M413.5 267.0h0M414.1 266.7h0M414.8 266.3h0M415.5 266.0h0M416.2 265.6h0M417.0 265.2h0M417.8 264.8h0M418.6 264.5h0M419.5 264.1h0M420.3 263.7h0M421.2 263.3h0M422.1 263.0h0M422.8 262.7h0M423.5 262.5h0M424.3 262.2h0M425.0 262.0h0M425.8 261.7h0M426.6 261.5h0M427.4 261.3h0M428.1 261.0h0M428.9 260.8h0M429.8 260.6h0M430.6 260.3h0M431.4 260.1h0M432.2 259.8h0M433.0 259.6h0M433.8 259.4h0M434.6 259.1h0M435.5 258.9h0M436.4 258.6h0M437.3 258.3h0M438.2 258.0h0M439.1 257.8h0M440.0 257.5h0M440.9 257.3h0M441.7 257.0h0M442.5 256.8h0M443.2 256.6h0M443.8 256.4h0M444.4 256.2h0M444.8 256.1h0M450.1 255.2h0M456.5 254.0h0M462.8 252.4h0M469.6 250.8h0M478.3 249.3h0M489.3 247.4h0M503.1 245.5h0M403.2 269.8h0M404.2 268.2h0M405.3 266.5h0M406.3 264.9h0M407.4 263.3h0M408.4 261.6h0M409.5 260.0h0M410.5 258.4h0M411.6 256.7h0M412.6 255.1h0M416.8 249.8h0M419.0 248.0h0M421.0 246.2h0M422.5 244.5h0M398.6 277.4h0M400.0 272.0h0M401.5 267.0h0M403.2 260.8h0M404.7 257.5h0M406.2 254.7h0M408.5 250.2h0M410.0 247.1h0M399.4 269.8h0M399.4 265.3h0M398.2 263.8h0M399.7 261.5h0M400.5 257.0h0M404.3 245.6h0M399.7 272.5h0M401.5 267.2h0M394.3 284.2h0M400.2 273.9h0M398.8 278.5h0M400.0 275.5h0M398.9 278.8h0M397.1 281.0h0M399.7 274.8h0M401.4 271.7h0M402.4 268.6h0M400.6 269.1h0M398.4 280.3h0M402.3 268.9h0M398.4 279.2h0M396.0 284.6h0M395.7 283.0h0M398.2 278.1h0M396.7 279.5h0M396.5 283.1h0M400.6 272.6h0M400.0 273.4h0M396.5 284.1h0M402.2 271.6h0M402.3 269.7h0M396.8 278.4h0M396.6 280.2h0M403.0 271.8h0M396.0 284.0h0M400.5 272.5h0" stroke="#7d7d7d" stroke-width="2.80" stroke-linecap="round" fill="none"/>
<circle cx="417.0" cy="23.8" r="2.55" fill="#4a6a9f" fill-opacity="0.9"/>
<circle cx="430.3" cy="42.5" r="2.55" fill="#4a6a9f" fill-opacity="0.9"/>
<circle cx="420.5" cy="74.3" r="2.55" fill="#4a6a9f" fill-opacity="0.9"/>
<circle cx="405.0" cy="79.4" r="2.55" fill="#4a6a9f" fill-opacity="0.9"/>
<circle cx="415.8" cy="80.4" r="2.55" fill="#4a6a9f" fill-opacity="0.9"/>
<circle cx="476.5" cy="85.5" r="2.55" fill="#4a6a9f" fill-opacity="0.9"/>
<circle cx="408.1" cy="92.3" r="2.55" fill="#4a6a9f" fill-opacity="0.9"/>
<circle cx="407.4" cy="99.7" r="2.55" fill="#4a6a9f" fill-opacity="0.9"/>
<circle cx="494.5" cy="102.3" r="2.55" fill="#4a6a9f" fill-opacity="0.9"/>
<circle cx="422.6" cy="109.8" r="2.55" fill="#4a6a9f" fill-opacity="0.9"/>
<circle cx="432.4" cy="110.3" r="2.55" fill="#4a6a9f" fill-opacity="0.9"/>
<circle cx="509.7" cy="128.4" r="2.55" fill="#4a6a9f" fill-opacity="0.9"/>
<circle cx="427.8" cy="124.8" r="2.55" fill="#4a6a9f" fill-opacity="0.9"/>
<circle cx="405.7" cy="126.9" r="2.55" fill="#4a6a9f" fill-opacity="0.9"/>
<circle cx="405.5" cy="127.3" r="2.55" fill="#4a6a9f" fill-opacity="0.9"/>
<circle cx="439.4" cy="137.3" r="2.55" fill="#4a6a9f" fill-opacity="0.9"/>
<circle cx="435.5" cy="144.0" r="2.55" fill="#4a6a9f" fill-opacity="0.9"/>
<circle cx="415.0" cy="147.7" r="2.55" fill="#4a6a9f" fill-opacity="0.9"/>
<circle cx="446.3" cy="149.7" r="2.55" fill="#4a6a9f" fill-opacity="0.9"/>
<circle cx="443.1" cy="153.8" r="2.55" fill="#4a6a9f" fill-opacity="0.9"/>
<circle cx="473.6" cy="151.0" r="2.55" fill="#4a6a9f" fill-opacity="0.9"/>
<circle cx="469.2" cy="153.7" r="2.55" fill="#4a6a9f" fill-opacity="0.9"/>
<circle cx="429.1" cy="157.7" r="2.55" fill="#4a6a9f" fill-opacity="0.9"/>
<circle cx="422.2" cy="159.0" r="2.55" fill="#4a6a9f" fill-opacity="0.9"/>
<circle cx="416.6" cy="163.8" r="2.55" fill="#4a6a9f" fill-opacity="0.9"/>
<circle cx="420.3" cy="166.5" r="2.55" fill="#4a6a9f" fill-opacity="0.9"/>
<circle cx="455.1" cy="165.9" r="2.55" fill="#4a6a9f" fill-opacity="0.9"/>
<circle cx="415.8" cy="180.2" r="2.55" fill="#4a6a9f" fill-opacity="0.9"/>
<circle cx="420.6" cy="180.2" r="2.55" fill="#4a6a9f" fill-opacity="0.9"/>
<circle cx="407.7" cy="192.2" r="2.55" fill="#4a6a9f" fill-opacity="0.9"/>
<circle cx="405.2" cy="198.8" r="2.55" fill="#4a6a9f" fill-opacity="0.9"/>
<circle cx="420.8" cy="195.6" r="2.55" fill="#4a6a9f" fill-opacity="0.9"/>
<circle cx="418.7" cy="200.1" r="2.55" fill="#4a6a9f" fill-opacity="0.9"/>
<circle cx="409.0" cy="209.7" r="2.55" fill="#4a6a9f" fill-opacity="0.9"/>
<circle cx="412.4" cy="206.5" r="2.55" fill="#4a6a9f" fill-opacity="0.9"/>
<circle cx="416.4" cy="206.2" r="2.55" fill="#4a6a9f" fill-opacity="0.9"/>
<circle cx="401.5" cy="213.2" r="2.55" fill="#4a6a9f" fill-opacity="0.9"/>
<circle cx="489.5" cy="209.9" r="2.55" fill="#4a6a9f" fill-opacity="0.9"/>
<circle cx="534.7" cy="198.6" r="2.55" fill="#4a6a9f" fill-opacity="0.9"/>
<circle cx="654.7" cy="181.3" r="2.55" fill="#4a6a9f" fill-opacity="0.9"/>
<circle cx="400.4" cy="222.6" r="2.55" fill="#4a6a9f" fill-opacity="0.9"/>
<circle cx="461.8" cy="131.0" r="2.55" fill="#1e3b78" fill-opacity="0.9"/>
<circle cx="410.6" cy="122.0" r="2.55" fill="#1e3b78" fill-opacity="0.9"/>
<circle cx="410.5" cy="126.4" r="2.55" fill="#1e3b78" fill-opacity="0.9"/>
<circle cx="433.6" cy="148.0" r="2.55" fill="#1e3b78" fill-opacity="0.9"/>
<circle cx="504.0" cy="205.8" r="2.55" fill="#1e3b78" fill-opacity="0.9"/>
<circle cx="523.0" cy="201.2" r="2.55" fill="#1e3b78" fill-opacity="0.9"/>
<circle cx="567.0" cy="192.7" r="2.55" fill="#1e3b78" fill-opacity="0.9"/>
<circle cx="428.0" cy="199.0" r="2.55" fill="#274b8c" fill-opacity="0.9"/>
<circle cx="425.6" cy="203.3" r="2.55" fill="#274b8c" fill-opacity="0.9"/>
<circle cx="422.1" cy="209.2" r="2.55" fill="#2f5ea6" fill-opacity="0.9"/>
<circle cx="418.7" cy="215.3" r="2.55" fill="#2f5ea6" fill-opacity="0.9"/>
<circle cx="425.4" cy="184.4" r="2.55" fill="#1e3b78" fill-opacity="0.9"/>
<circle cx="426.9" cy="181.7" r="2.55" fill="#1e3b78" fill-opacity="0.9"/>
<circle cx="428.4" cy="179.1" r="2.55" fill="#1e3b78" fill-opacity="0.9"/>
<circle cx="429.9" cy="176.4" r="2.55" fill="#1e3b78" fill-opacity="0.9"/>
<circle cx="431.4" cy="173.7" r="2.55" fill="#1e3b78" fill-opacity="0.9"/>
<circle cx="432.9" cy="171.0" r="2.55" fill="#1e3b78" fill-opacity="0.9"/>
<circle cx="434.4" cy="168.3" r="2.55" fill="#1e3b78" fill-opacity="0.9"/>
<circle cx="435.9" cy="165.7" r="2.55" fill="#1e3b78" fill-opacity="0.9"/>
<circle cx="437.4" cy="163.0" r="2.55" fill="#1e3b78" fill-opacity="0.9"/>
<circle cx="433.4" cy="191.1" r="2.55" fill="#1e3b78" fill-opacity="0.9"/>
<circle cx="435.4" cy="188.6" r="2.55" fill="#1e3b78" fill-opacity="0.9"/>
<circle cx="437.4" cy="186.2" r="2.55" fill="#1e3b78" fill-opacity="0.9"/>
<circle cx="439.4" cy="183.7" r="2.55" fill="#1e3b78" fill-opacity="0.9"/>
<circle cx="441.4" cy="181.3" r="2.55" fill="#1e3b78" fill-opacity="0.9"/>
<circle cx="443.4" cy="178.8" r="2.55" fill="#1e3b78" fill-opacity="0.9"/>
<circle cx="445.4" cy="176.4" r="2.55" fill="#1e3b78" fill-opacity="0.9"/>
<circle cx="447.4" cy="173.9" r="2.55" fill="#1e3b78" fill-opacity="0.9"/>
<circle cx="432.0" cy="213.7" r="2.55" fill="#274b8c" fill-opacity="0.9"/>
<circle cx="435.3" cy="211.2" r="2.55" fill="#274b8c" fill-opacity="0.9"/>
<circle cx="438.7" cy="208.8" r="2.55" fill="#274b8c" fill-opacity="0.9"/>
<circle cx="442.0" cy="206.3" r="2.55" fill="#274b8c" fill-opacity="0.9"/>
<circle cx="445.3" cy="203.9" r="2.55" fill="#274b8c" fill-opacity="0.9"/>
<circle cx="448.7" cy="201.4" r="2.55" fill="#274b8c" fill-opacity="0.9"/>
<circle cx="452.0" cy="199.0" r="2.55" fill="#274b8c" fill-opacity="0.9"/>
<circle cx="455.0" cy="195.0" r="2.55" fill="#2c5390" fill-opacity="0.9"/>
<circle cx="458.3" cy="192.9" r="2.55" fill="#2c5390" fill-opacity="0.9"/>
<circle cx="461.5" cy="190.8" r="2.55" fill="#2c5390" fill-opacity="0.9"/>
<circle cx="464.8" cy="188.7" r="2.55" fill="#2c5390" fill-opacity="0.9"/>
<circle cx="468.1" cy="186.6" r="2.55" fill="#2c5390" fill-opacity="0.9"/>
<circle cx="471.3" cy="184.5" r="2.55" fill="#2c5390" fill-opacity="0.9"/>
<circle cx="474.6" cy="182.4" r="2.55" fill="#2c5390" fill-opacity="0.9"/>
<circle cx="403.9" cy="221.8" r="2.55" fill="#2f5ea6" fill-opacity="0.9"/>
<circle cx="408.7" cy="220.1" r="2.55" fill="#2f5ea6" fill-opacity="0.9"/>
<circle cx="411.1" cy="222.0" r="2.55" fill="#2f5ea6" fill-opacity="0.9"/>
<circle cx="410.0" cy="224.2" r="2.55" fill="#2f5ea6" fill-opacity="0.9"/>
<circle cx="402.3" cy="224.2" r="2.55" fill="#2f5ea6" fill-opacity="0.9"/>
<circle cx="403.1" cy="231.4" r="2.55" fill="#3d78bf" fill-opacity="0.9"/>
<circle cx="407.1" cy="231.4" r="2.55" fill="#3d78bf" fill-opacity="0.9"/>
<circle cx="404.7" cy="234.6" r="2.55" fill="#3d78bf" fill-opacity="0.9"/>
<circle cx="408.7" cy="233.0" r="2.55" fill="#3d78bf" fill-opacity="0.9"/>
<circle cx="413.5" cy="239.4" r="2.55" fill="#3d78bf" fill-opacity="0.9"/>
<circle cx="415.0" cy="237.1" r="2.55" fill="#3d78bf" fill-opacity="0.9"/>
<circle cx="416.5" cy="234.8" r="2.55" fill="#3d78bf" fill-opacity="0.9"/>
<circle cx="418.0" cy="232.5" r="2.55" fill="#3d78bf" fill-opacity="0.9"/>
<circle cx="419.5" cy="230.3" r="2.55" fill="#3d78bf" fill-opacity="0.9"/>
<circle cx="421.0" cy="228.0" r="2.55" fill="#3d78bf" fill-opacity="0.9"/>
<circle cx="422.5" cy="225.7" r="2.55" fill="#3d78bf" fill-opacity="0.9"/>
<circle cx="424.0" cy="223.4" r="2.55" fill="#3d78bf" fill-opacity="0.9"/>
<circle cx="444.0" cy="228.2" r="2.55" fill="#3d78bf" fill-opacity="0.9"/>
<circle cx="446.8" cy="226.9" r="2.55" fill="#3d78bf" fill-opacity="0.9"/>
<circle cx="449.6" cy="225.6" r="2.55" fill="#3d78bf" fill-opacity="0.9"/>
<circle cx="452.4" cy="224.4" r="2.55" fill="#3d78bf" fill-opacity="0.9"/>
<circle cx="455.2" cy="223.1" r="2.55" fill="#3d78bf" fill-opacity="0.9"/>
<circle cx="458.1" cy="221.8" r="2.55" fill="#3d78bf" fill-opacity="0.9"/>
<circle cx="460.9" cy="220.6" r="2.55" fill="#3d78bf" fill-opacity="0.9"/>
<circle cx="463.7" cy="219.3" r="2.55" fill="#3d78bf" fill-opacity="0.9"/>
<circle cx="466.5" cy="218.0" r="2.55" fill="#3d78bf" fill-opacity="0.9"/>
<circle cx="411.9" cy="242.6" r="2.55" fill="#5a9ad2" fill-opacity="0.9"/>
<circle cx="408.7" cy="238.6" r="2.55" fill="#5a9ad2" fill-opacity="0.9"/>
<circle cx="424.0" cy="242.6" r="2.55" fill="#5a9ad2" fill-opacity="0.9"/>
<circle cx="429.6" cy="237.8" r="2.55" fill="#5a9ad2" fill-opacity="0.9"/>
<circle cx="436.0" cy="233.5" r="2.55" fill="#5a9ad2" fill-opacity="0.9"/>
<circle cx="522.1" cy="243.3" r="2.55" fill="#72b3df" fill-opacity="0.9"/>
<circle cx="548.1" cy="240.5" r="2.55" fill="#72b3df" fill-opacity="0.9"/>
<circle cx="411.0" cy="240.5" r="2.55" fill="#72b3df" fill-opacity="0.9"/>
<circle cx="413.0" cy="241.5" r="2.55" fill="#72b3df" fill-opacity="0.9"/>
<text x="414.4" y="20.9" font-size="8.1" fill="#3a5a9c">Cell cycle</text>
<text x="426" y="73.4" font-size="8.1" fill="#3a5a9c">M phase</text>
<text x="419.5" y="83" font-size="8.1" fill="#3a5a9c">Cell cycle, mitotic</text>
<text x="411.6" y="94.7" font-size="8.1" fill="#3a5a9c">Generic transcription</text>
<text x="407.8" y="107.3" font-size="8.1" fill="#3a5a9c">RNA Pol II transcription</text>
<text x="497.9" y="101" font-size="8.1" fill="#3a5a9c">Chromosome condensation</text>
<text x="444.8" y="123.2" font-size="8.1" fill="#3a5a9c">Mitotic prometaphase</text>
<text x="390.1" y="134.3" font-size="8.1" fill="#3a5a9c">Gene expression</text>
<text x="380.9" y="156.3" font-size="8.1" fill="#3a5a9c">Transcriptional</text>
<text x="380.9" y="165.9" font-size="8.1" fill="#3a5a9c">regulation</text>
<text transform="translate(327.7 355.6) scale(0.91 1)" font-size="25" font-weight="bold" fill="#000">F</text>
<path d="M376.5,359.4H667M376.5,379.1H667M376.5,398.8H667M376.5,418.5H667M376.5,438.2H667M376.5,457.9H667M376.5,477.6H667" stroke="#f2f2f2" stroke-width="0.8" fill="none"/>
<text x="374.3" y="360.7" font-size="3.6" fill="#888" text-anchor="middle">12</text>
<text x="374.3" y="380.4" font-size="3.6" fill="#888" text-anchor="middle">11</text>
<text x="374.3" y="400.1" font-size="3.6" fill="#888" text-anchor="middle">10</text>
<text x="374.3" y="419.8" font-size="3.6" fill="#888" text-anchor="middle">9</text>
<text x="374.3" y="439.5" font-size="3.6" fill="#888" text-anchor="middle">8</text>
<text x="374.3" y="459.2" font-size="3.6" fill="#888" text-anchor="middle">7</text>
<text x="374.3" y="478.9" font-size="3.6" fill="#888" text-anchor="middle">6</text>
<path d="M400.0,368.4 C400.2,370.3 400.2,376.8 400.4,380.0 C400.7,383.2 400.5,385.2 401.6,387.7 C402.7,390.2 405.7,392.8 407.2,395.0 C408.6,397.2 409.7,398.8 410.5,400.8 C411.2,402.8 411.4,405.0 411.4,407.0 C411.4,409.0 411.2,410.8 410.5,413.0 C409.7,415.1 408.4,417.4 407.2,419.9 C405.9,422.4 404.1,425.5 403.1,427.9 C402.1,430.2 401.6,431.7 401.1,434.1 C400.7,436.5 400.5,439.2 400.3,442.1 C400.1,445.0 400.1,449.8 400.0,451.4 C399.8,453.0 399.4,453.0 399.2,451.4 C399.1,449.8 399.1,445.0 398.9,442.1 C398.7,439.2 398.5,436.5 398.1,434.1 C397.6,431.7 397.1,430.2 396.1,427.9 C395.1,425.5 393.3,422.4 392.0,419.9 C390.8,417.4 389.5,415.1 388.7,413.0 C388.0,410.8 387.8,409.0 387.8,407.0 C387.8,405.0 388.0,402.8 388.7,400.8 C389.5,398.8 390.6,397.2 392.0,395.0 C393.5,392.8 396.5,390.2 397.6,387.7 C398.7,385.2 398.5,383.2 398.8,380.0 C399.0,376.8 399.0,370.3 399.2,368.4 C399.4,366.5 399.8,366.5 400.0,368.4Z" fill="#3737f2" stroke="#25258f" stroke-width="0.3" stroke-opacity="0.5"/>
<line x1="399.6" y1="368.4" x2="399.6" y2="451.4" stroke="#25258f" stroke-width="0.5" stroke-opacity="0.8"/>
<rect x="396.6" y="401.9" width="6" height="13.1" fill="#25258f" fill-opacity="0.85"/>
<line x1="396.6" y1="408.4" x2="402.6" y2="408.4" stroke="#000" stroke-opacity="0.45" stroke-width="0.8"/>
<text x="399.6" y="491" font-size="9.8" fill="#222" text-anchor="middle">C2</text>
<path d="M442.9,365.4 C443.1,367.0 443.1,372.3 443.4,375.0 C443.7,377.6 443.5,379.3 444.6,381.4 C445.7,383.4 448.6,385.6 450.0,387.4 C451.5,389.2 452.6,390.5 453.3,392.2 C454.0,393.8 454.2,395.7 454.2,397.3 C454.2,398.9 454.0,400.1 453.3,401.7 C452.6,403.3 451.2,404.9 450.0,406.7 C448.8,408.5 447.1,410.8 446.1,412.6 C445.1,414.3 444.6,415.4 444.1,417.1 C443.6,418.9 443.5,420.9 443.3,423.0 C443.1,425.1 443.1,428.7 442.9,429.8 C442.8,430.9 442.4,430.9 442.3,429.8 C442.1,428.7 442.1,425.1 441.9,423.0 C441.7,420.9 441.6,418.9 441.1,417.1 C440.6,415.4 440.1,414.3 439.1,412.6 C438.1,410.8 436.4,408.5 435.2,406.7 C434.0,404.9 432.6,403.3 431.9,401.7 C431.2,400.1 431.0,398.9 431.0,397.3 C431.0,395.7 431.2,393.8 431.9,392.2 C432.6,390.5 433.7,389.2 435.2,387.4 C436.6,385.6 439.5,383.4 440.6,381.4 C441.7,379.3 441.5,377.6 441.8,375.0 C442.1,372.3 442.1,367.0 442.3,365.4 C442.4,363.8 442.8,363.8 442.9,365.4Z" fill="#5b96e2" stroke="#2f5585" stroke-width="0.3" stroke-opacity="0.5"/>
<line x1="442.6" y1="365.4" x2="442.6" y2="429.8" stroke="#2f5585" stroke-width="0.5" stroke-opacity="0.8"/>
<rect x="439.6" y="392.7" width="6" height="9.2" fill="#2f5585" fill-opacity="0.85"/>
<line x1="439.6" y1="397" x2="445.6" y2="397" stroke="#000" stroke-opacity="0.45" stroke-width="0.8"/>
<text x="442.6" y="491" font-size="9.8" fill="#222" text-anchor="middle">C14</text>
<path d="M487.5,377.3 C487.7,379.3 487.7,386.1 487.9,389.5 C488.2,392.9 488.0,395.0 489.1,397.6 C490.3,400.3 493.3,403.1 494.8,405.4 C496.3,407.7 497.4,409.4 498.1,411.5 C498.9,413.6 499.1,415.7 499.1,418.0 C499.1,420.3 498.9,422.8 498.1,425.5 C497.4,428.1 496.0,430.9 494.8,434.0 C493.5,437.1 491.7,441.0 490.7,443.9 C489.7,446.9 489.1,448.7 488.7,451.7 C488.2,454.6 488.0,458.0 487.8,461.6 C487.6,465.2 487.6,471.3 487.5,473.2 C487.3,475.1 486.9,475.1 486.7,473.2 C486.6,471.3 486.6,465.2 486.4,461.6 C486.2,458.0 486.0,454.6 485.5,451.7 C485.1,448.7 484.5,446.9 483.5,443.9 C482.5,441.0 480.7,437.1 479.4,434.0 C478.2,430.9 476.8,428.1 476.1,425.5 C475.3,422.8 475.1,420.3 475.1,418.0 C475.1,415.7 475.3,413.6 476.1,411.5 C476.8,409.4 477.9,407.7 479.4,405.4 C480.9,403.1 483.9,400.3 485.1,397.6 C486.2,395.0 486.0,392.9 486.3,389.5 C486.5,386.1 486.5,379.3 486.7,377.3 C486.9,375.3 487.3,375.3 487.5,377.3Z" fill="#d81f26" stroke="#7a1216" stroke-width="0.3" stroke-opacity="0.5"/>
<line x1="487.1" y1="377.3" x2="487.1" y2="473.2" stroke="#7a1216" stroke-width="0.5" stroke-opacity="0.8"/>
<rect x="484.1" y="411.5" width="6" height="13.6" fill="#7a1216" fill-opacity="0.85"/>
<line x1="484.1" y1="418" x2="490.1" y2="418" stroke="#000" stroke-opacity="0.45" stroke-width="0.8"/>
<text x="487.1" y="491" font-size="9.8" fill="#222" text-anchor="middle">C1</text>
<path d="M531.1,359.9 C531.2,362.2 531.2,369.8 531.5,373.5 C531.8,377.3 531.6,379.7 532.7,382.6 C533.8,385.6 536.7,388.7 538.2,391.3 C539.7,393.9 540.8,395.8 541.5,398.1 C542.2,400.5 542.4,403.3 542.4,405.4 C542.4,407.5 542.2,408.9 541.5,410.8 C540.8,412.7 539.4,414.7 538.2,417.0 C537.0,419.2 535.2,422.0 534.2,424.2 C533.2,426.3 532.7,427.6 532.2,429.7 C531.8,431.9 531.6,434.3 531.4,436.9 C531.2,439.5 531.2,443.9 531.1,445.3 C530.9,446.7 530.5,446.7 530.3,445.3 C530.2,443.9 530.2,439.5 530.0,436.9 C529.8,434.3 529.6,431.9 529.2,429.7 C528.7,427.6 528.2,426.3 527.2,424.2 C526.2,422.0 524.4,419.2 523.2,417.0 C522.0,414.7 520.6,412.7 519.9,410.8 C519.2,408.9 519.0,407.5 519.0,405.4 C519.0,403.3 519.2,400.5 519.9,398.1 C520.6,395.8 521.7,393.9 523.2,391.3 C524.7,388.7 527.6,385.6 528.7,382.6 C529.8,379.7 529.6,377.3 529.9,373.5 C530.2,369.8 530.2,362.2 530.3,359.9 C530.5,357.6 530.9,357.6 531.1,359.9Z" fill="#a11a4c" stroke="#5a0f2a" stroke-width="0.3" stroke-opacity="0.5"/>
<line x1="530.7" y1="359.9" x2="530.7" y2="445.3" stroke="#5a0f2a" stroke-width="0.5" stroke-opacity="0.8"/>
<rect x="527.7" y="398.3" width="6" height="14.2" fill="#5a0f2a" fill-opacity="0.85"/>
<line x1="527.7" y1="404.5" x2="533.7" y2="404.5" stroke="#000" stroke-opacity="0.45" stroke-width="0.8"/>
<text x="530.7" y="491" font-size="9.8" fill="#222" text-anchor="middle">C4</text>
<path d="M574.7,349.9 C574.8,352.0 574.8,358.8 575.1,362.3 C575.4,365.7 575.2,367.9 576.3,370.5 C577.4,373.2 580.3,376.1 581.8,378.4 C583.3,380.7 584.4,382.5 585.1,384.6 C585.8,386.7 586.0,389.1 586.0,391.2 C586.0,393.3 585.8,395.1 585.1,397.3 C584.4,399.5 583.0,401.9 581.8,404.4 C580.6,406.9 578.8,410.2 577.8,412.6 C576.8,415.0 576.3,416.5 575.8,419.0 C575.4,421.4 575.2,424.2 575.0,427.1 C574.8,430.1 574.8,435.1 574.7,436.7 C574.5,438.3 574.1,438.3 573.9,436.7 C573.8,435.1 573.8,430.1 573.6,427.1 C573.4,424.2 573.2,421.4 572.8,419.0 C572.3,416.5 571.8,415.0 570.8,412.6 C569.8,410.2 568.0,406.9 566.8,404.4 C565.6,401.9 564.2,399.5 563.5,397.3 C562.8,395.1 562.6,393.3 562.6,391.2 C562.6,389.1 562.8,386.7 563.5,384.6 C564.2,382.5 565.3,380.7 566.8,378.4 C568.3,376.1 571.2,373.2 572.3,370.5 C573.4,367.9 573.2,365.7 573.5,362.3 C573.8,358.8 573.8,352.0 573.9,349.9 C574.1,347.8 574.5,347.8 574.7,349.9Z" fill="#ef7099" stroke="#8a4058" stroke-width="0.3" stroke-opacity="0.5"/>
<line x1="574.3" y1="349.9" x2="574.3" y2="436.7" stroke="#8a4058" stroke-width="0.5" stroke-opacity="0.8"/>
<rect x="571.3" y="385.5" width="6" height="14.2" fill="#8a4058" fill-opacity="0.85"/>
<line x1="571.3" y1="391" x2="577.3" y2="391" stroke="#000" stroke-opacity="0.45" stroke-width="0.8"/>
<text x="574.3" y="491" font-size="9.8" fill="#222" text-anchor="middle">C3</text>
<path d="M617.9,365.6 C618.1,367.9 618.1,375.5 618.3,379.2 C618.6,383.0 618.4,385.4 619.6,388.4 C620.7,391.3 623.7,394.4 625.2,397.0 C626.8,399.6 627.9,401.5 628.6,403.8 C629.4,406.2 629.6,408.9 629.6,411.1 C629.6,413.3 629.4,415.1 628.6,417.3 C627.9,419.5 626.5,421.8 625.2,424.3 C624.0,426.9 622.2,430.1 621.1,432.5 C620.1,435.0 619.6,436.5 619.1,438.9 C618.6,441.3 618.4,444.2 618.2,447.1 C618.0,450.1 618.0,455.1 617.9,456.7 C617.7,458.3 617.3,458.3 617.1,456.7 C617.0,455.1 617.0,450.1 616.8,447.1 C616.6,444.2 616.4,441.3 615.9,438.9 C615.4,436.5 614.9,435.0 613.9,432.5 C612.8,430.1 611.0,426.9 609.8,424.3 C608.5,421.8 607.1,419.5 606.4,417.3 C605.6,415.1 605.4,413.3 605.4,411.1 C605.4,408.9 605.6,406.2 606.4,403.8 C607.1,401.5 608.2,399.6 609.8,397.0 C611.3,394.4 614.3,391.3 615.4,388.4 C616.6,385.4 616.4,383.0 616.7,379.2 C616.9,375.5 616.9,367.9 617.1,365.6 C617.3,363.3 617.7,363.3 617.9,365.6Z" fill="#cb8ba3" stroke="#7a5262" stroke-width="0.3" stroke-opacity="0.5"/>
<line x1="617.5" y1="365.6" x2="617.5" y2="456.7" stroke="#7a5262" stroke-width="0.5" stroke-opacity="0.8"/>
<rect x="614.5" y="404.6" width="6" height="14.2" fill="#7a5262" fill-opacity="0.85"/>
<line x1="614.5" y1="411" x2="620.5" y2="411" stroke="#000" stroke-opacity="0.45" stroke-width="0.8"/>
<text x="617.5" y="491" font-size="9.8" fill="#222" text-anchor="middle">C5</text>
<path d="M661.8,358.5 C662.0,360.5 662.0,367.1 662.2,370.4 C662.5,373.8 662.3,375.8 663.5,378.4 C664.6,381.0 667.6,383.7 669.1,386.0 C670.7,388.2 671.8,389.9 672.5,391.9 C673.3,394.0 673.5,396.5 673.5,398.3 C673.5,400.1 673.3,401.0 672.5,402.5 C671.8,404.0 670.4,405.6 669.1,407.4 C667.9,409.1 666.1,411.3 665.0,413.0 C664.0,414.7 663.5,415.7 663.0,417.4 C662.5,419.1 662.3,421.0 662.1,423.0 C661.9,425.1 661.9,428.5 661.8,429.6 C661.6,430.7 661.2,430.7 661.0,429.6 C660.9,428.5 660.9,425.1 660.7,423.0 C660.5,421.0 660.3,419.1 659.8,417.4 C659.3,415.7 658.8,414.7 657.8,413.0 C656.7,411.3 654.9,409.1 653.7,407.4 C652.4,405.6 651.0,404.0 650.3,402.5 C649.5,401.0 649.3,400.1 649.3,398.3 C649.3,396.5 649.5,394.0 650.3,391.9 C651.0,389.9 652.1,388.2 653.7,386.0 C655.2,383.7 658.2,381.0 659.3,378.4 C660.5,375.8 660.3,373.8 660.6,370.4 C660.8,367.1 660.8,360.5 661.0,358.5 C661.2,356.5 661.6,356.5 661.8,358.5Z" fill="#f3c5d4" stroke="#9a7c86" stroke-width="0.3" stroke-opacity="0.5"/>
<line x1="661.4" y1="358.5" x2="661.4" y2="429.6" stroke="#9a7c86" stroke-width="0.5" stroke-opacity="0.8"/>
<rect x="658.4" y="392" width="6" height="12.6" fill="#9a7c86" fill-opacity="0.85"/>
<line x1="658.4" y1="398" x2="664.4" y2="398" stroke="#000" stroke-opacity="0.45" stroke-width="0.8"/>
<text x="661.4" y="491" font-size="9.8" fill="#222" text-anchor="middle">C6</text>
<text x="530" y="349.9" font-size="9.4" fill="#333" text-anchor="middle">GO:Cell cycle</text>
<text transform="translate(327.0 525.6) scale(1.05 1)" font-size="25" font-weight="bold" fill="#000">G</text>
<path d="M367.4,526V828.5M492.4,526V828.5M618,526V828.5M352,584.4H677M352,708H677" stroke="#ebebeb" stroke-width="0.9" fill="none"/>
<rect x="351.5" y="525.5" width="325.5" height="303.7" fill="none" stroke="#666" stroke-width="1.1"/>
<circle cx="422" cy="567" r="5" fill="#c4aadc" />
<circle cx="425" cy="564" r="3.5" fill="#c4aadc" />
<path d="M418.0 574.0h0M418.5 577.0h0M419.0 580.0h0M420.0 583.0h0M415.8 589.5h0M440.0 589.0h0M438.5 589.0h0M421.0 570.0h0M427.0 570.0h0" stroke="#c4aadc" stroke-width="3.00" stroke-linecap="round" fill="none"/>
<path d="M412,597 L417,603 L422,607" stroke="#c4aadc" stroke-width="3" stroke-linecap="round" fill="none"/>
<path d="M423.0 608.0h0M426.0 590.0h0M416.0 601.0h0" stroke="#c4aadc" stroke-width="2.60" stroke-linecap="round" fill="none"/>
<circle cx="461" cy="555" r="4.8" fill="#5ccfd4" />
<circle cx="465" cy="551" r="4.2" fill="#5ccfd4" />
<circle cx="463" cy="557" r="3.5" fill="#5ccfd4" />
<circle cx="445" cy="574.7" r="4.3" fill="#5ccfd4" />
<circle cx="452" cy="588" r="4.5" fill="#5ccfd4" />
<circle cx="458" cy="583" r="5" fill="#5ccfd4" />
<circle cx="463" cy="592" r="5" fill="#5ccfd4" />
<circle cx="455" cy="594" r="3.8" fill="#5ccfd4" />
<circle cx="468" cy="588" r="4" fill="#5ccfd4" />
<circle cx="461" cy="580" r="3" fill="#5ccfd4" />
<circle cx="449" cy="584" r="3" fill="#5ccfd4" />
<path d="M463,585 A4,4 0 1,1 468,591" stroke="#111" stroke-width="1.4" fill="none"/>
<path d="M460.0 586.0h0M465.0 585.0h0" stroke="#222" stroke-width="1.80" stroke-linecap="round" fill="none"/>
<circle cx="497" cy="589" r="4.3" fill="#7f7f7f" />
<circle cx="494" cy="595.5" r="3.6" fill="#7f7f7f" />
<circle cx="499" cy="584.5" r="3" fill="#7f7f7f" />
<path d="M488.0 605.0h0M490.0 604.5h0M486.0 606.0h0" stroke="#7f7f7f" stroke-width="3.20" stroke-linecap="round" fill="none"/>
<ellipse cx="513.3" cy="567.5" rx="5.5" ry="5.8" fill="#b3c630" transform="rotate(20 513.3 567.5)" />
<path d="M528.5,538.7 L523.8,544.4 L521.7,547.3 L519.5,549.5 L521.2,551.7 L520.2,555.3 L519.5,557.4 L520.9,559.6" stroke="#b3c630" stroke-width="4" stroke-linecap="round" stroke-linejoin="round" fill="none"/>
<path d="M527,546.5 L528.2,553.1 L530.3,556.7" stroke="#b3c630" stroke-width="3.2" stroke-linecap="round" stroke-linejoin="round" fill="none" stroke-opacity="0.85"/>
<ellipse cx="568.5" cy="591.5" rx="8" ry="3.6" fill="#eea6cf" transform="rotate(-32 568.5 591.5)" />
<ellipse cx="539.6" cy="619" rx="2.8" ry="1.6" fill="#eea6cf" transform="rotate(-30 539.6 619)" />
<circle cx="474.5" cy="630" r="3.6" fill="#7f7f7f" />
<circle cx="478.5" cy="634" r="4" fill="#7f7f7f" />
<circle cx="472" cy="638" r="3.6" fill="#7f7f7f" />
<circle cx="481" cy="640" r="3.6" fill="#7f7f7f" />
<circle cx="470" cy="643.5" r="3.2" fill="#7f7f7f" />
<circle cx="478" cy="645" r="3" fill="#7f7f7f" />
<circle cx="469.5" cy="654" r="3.6" fill="#7f7f7f" />
<circle cx="486" cy="657.5" r="3.6" fill="#7f7f7f" />
<circle cx="498.5" cy="648.5" r="4" fill="#7f7f7f" />
<circle cx="502" cy="644.5" r="2.6" fill="#7f7f7f" />
<path d="M500.0 635.5h0M502.0 633.5h0M476.0 651.0h0M480.0 652.0h0M462.0 646.0h0M464.0 640.0h0M488.0 650.0h0M490.0 640.0h0" stroke="#7f7f7f" stroke-width="2.80" stroke-linecap="round" fill="none"/>
<circle cx="452" cy="650" r="4.8" fill="#8b5048" />
<circle cx="455.5" cy="656.5" r="4.5" fill="#8b5048" />
<circle cx="456" cy="667" r="5" fill="#8b5048" />
<circle cx="450" cy="661" r="3.5" fill="#8b5048" />
<circle cx="446" cy="667" r="3.5" fill="#8b5048" />
<circle cx="449" cy="676" r="2.5" fill="#8b5048" />
<circle cx="460" cy="672" r="3" fill="#8b5048" />
<circle cx="501.7" cy="677.5" r="4" fill="#8b5048" />
<circle cx="491" cy="690.5" r="4.5" fill="#8b5048" />
<circle cx="485" cy="694" r="3.2" fill="#8b5048" />
<circle cx="496" cy="688" r="3" fill="#8b5048" />
<path d="M449.0 664.5h0M454.1 667.2h0M463.8 642.9h0M440.5 677.7h0M449.9 650.5h0M477.8 661.2h0M471.8 661.4h0M464.3 646.8h0M464.1 679.1h0M459.9 673.4h0M465.5 642.9h0M468.8 666.6h0M451.4 641.4h0M472.9 661.3h0M467.3 679.5h0M467.1 681.4h0M455.0 676.0h0M456.9 682.1h0M473.4 644.4h0M445.2 649.8h0M476.7 659.6h0M463.8 653.5h0M459.3 657.4h0M453.3 666.3h0M462.2 680.7h0M465.9 681.8h0M472.5 684.6h0M465.5 647.3h0" stroke="#8b5048" stroke-width="2.60" stroke-linecap="round" fill="none"/>
<path d="M497.8 683.2h0M498.5 673.7h0M495.4 665.1h0M497.3 673.8h0M488.6 661.5h0M497.7 683.8h0M485.4 679.2h0M490.6 663.6h0" stroke="#b07870" stroke-width="2.40" stroke-linecap="round" fill="none"/>
<circle cx="434" cy="680.5" r="4.5" fill="#9b5bd2" />
<circle cx="452" cy="678.5" r="4" fill="#9b5bd2" />
<circle cx="453" cy="686" r="4.2" fill="#9b5bd2" />
<circle cx="469.5" cy="660.5" r="3" fill="#9b5bd2" />
<circle cx="412" cy="662" r="4" fill="#9b5bd2" />
<circle cx="447" cy="683" r="3" fill="#9b5bd2" />
<path d="M424.1 681.9h0M461.7 656.5h0M444.9 656.6h0M451.7 666.6h0M462.3 689.3h0M437.9 689.9h0M425.1 657.7h0M444.0 656.1h0M417.8 669.3h0M444.7 660.5h0M407.8 685.4h0M425.4 688.6h0M463.3 668.2h0M434.9 673.2h0M446.9 675.8h0M441.4 676.7h0M466.1 672.7h0M433.0 680.2h0M420.4 665.5h0M468.6 673.2h0M440.6 655.4h0M432.0 675.3h0" stroke="#9b5bd2" stroke-width="2.40" stroke-linecap="round" fill="none"/>
<path d="M405.0 668.0h0M409.0 666.0h0M398.0 672.0h0M394.0 668.0h0M359.0 673.0h0M357.0 675.0h0" stroke="#9b5bd2" stroke-width="2.80" stroke-linecap="round" fill="none"/>
<circle cx="479" cy="686.5" r="4.6" fill="#c89a94" />
<circle cx="481" cy="680" r="2.5" fill="#c89a94" />
<path d="M485.0 675.0h0M486.0 671.0h0M487.0 667.0h0" stroke="#c89a94" stroke-width="3.00" stroke-linecap="round" fill="none"/>
<circle cx="466.5" cy="686" r="3.8" fill="#3b82c4" />
<circle cx="494.1" cy="646.3" r="3.7" fill="#8a8a8a" stroke="#111" stroke-width="1.6"/>
<circle cx="497.2" cy="684.1" r="3.9" fill="#8b5048" stroke="#111" stroke-width="1.6"/>
<circle cx="528.5" cy="662" r="4.5" fill="#d62a2a" />
<circle cx="533.5" cy="666.5" r="4" fill="#d62a2a" />
<circle cx="526" cy="668" r="3" fill="#d62a2a" />
<path d="M498.7 695.7h0M502.1 695.7h0M543.8 694.9h0M551.1 690.3h0M547.8 690.3h0M529.2 692.0h0M523.8 697.5h0M539.7 694.8h0M555.7 690.4h0M549.3 692.3h0M554.8 691.4h0M529.2 692.4h0M519.5 700.4h0M530.8 692.2h0M519.8 689.6h0M530.9 695.2h0M537.7 698.1h0M557.8 691.3h0M552.0 684.8h0M524.9 696.8h0M553.7 692.4h0M526.1 695.6h0M562.7 688.2h0M569.5 681.2h0M535.0 691.5h0M515.0 690.2h0M543.0 690.7h0M523.3 696.1h0M539.0 697.6h0M506.2 695.7h0M567.1 683.8h0M543.4 692.5h0M510.5 701.4h0M530.6 696.6h0M540.6 693.7h0M554.3 689.5h0M524.9 698.5h0M557.6 694.2h0M564.3 682.3h0M497.1 694.3h0M503.1 700.9h0M533.3 694.4h0M553.6 689.7h0M509.3 698.3h0M566.9 686.2h0M533.3 695.5h0M521.9 691.4h0M525.3 697.3h0M504.7 695.8h0M527.2 695.4h0M521.9 691.1h0M527.0 690.2h0M527.3 696.5h0M544.4 692.9h0M531.4 697.4h0" stroke="#dc4c4c" stroke-width="2.30" stroke-linecap="round" fill="none"/>
<path d="M532.5 667.0h0M535.0 670.0h0M538.0 671.0h0M530.0 673.0h0M541.0 674.0h0" stroke="#d62a2a" stroke-width="2.40" stroke-linecap="round" fill="none"/>
<circle cx="521.6" cy="661.6" r="4.1" fill="#5ccfd4" stroke="#111" stroke-width="1.4"/>
<ellipse cx="511" cy="698.5" rx="5" ry="4" fill="#9ee3e8" transform="rotate(-30 511 698.5)" />
<ellipse cx="604" cy="709.2" rx="2.6" ry="1.6" fill="#9ee3e8" transform="rotate(35 604 709.2)" />
<circle cx="632.6" cy="750" r="1.9" fill="#c6c6c6" />
<ellipse cx="644.5" cy="752.5" rx="3.8" ry="2.3" fill="#c6c6c6" transform="rotate(10 644.5 752.5)" />
<ellipse cx="661" cy="752.5" rx="6" ry="5" fill="#c6c6c6" transform="rotate(0 661 752.5)" />
<path d="M469.9 708.3h0M453.8 714.7h0M505.8 700.0h0M442.1 723.5h0M476.5 705.2h0M462.4 712.1h0M484.1 700.2h0M498.6 703.7h0M458.1 697.1h0M464.1 709.5h0M470.5 711.3h0M490.9 726.8h0M479.9 713.9h0M502.5 726.6h0M473.6 714.0h0M477.6 708.5h0M488.9 701.8h0M498.1 694.4h0M443.1 700.9h0M503.1 718.8h0M442.2 707.9h0M495.6 724.2h0M478.3 711.3h0M460.0 721.8h0M479.3 706.5h0M477.5 719.1h0M449.5 699.1h0M457.2 716.2h0M457.5 715.9h0M464.9 713.2h0M421.2 706.9h0M444.4 717.5h0M486.2 725.8h0M474.5 698.0h0M450.5 708.7h0M448.4 693.7h0M476.7 715.9h0M473.6 690.9h0M451.8 708.9h0M470.2 705.8h0M470.0 718.1h0M458.3 706.4h0M473.8 726.7h0M487.4 711.2h0M467.5 702.1h0M488.2 703.6h0M469.9 718.4h0M493.2 715.7h0M463.0 715.0h0M460.7 717.3h0M474.1 707.0h0M493.6 713.6h0M455.4 704.1h0M491.3 698.7h0M452.1 706.2h0M467.0 693.0h0M446.2 718.5h0M492.8 711.4h0M473.1 719.0h0M467.7 697.5h0M508.3 710.8h0M472.0 718.2h0M470.7 718.0h0M463.3 693.0h0M484.2 708.9h0M483.5 706.9h0M444.2 716.4h0M478.9 714.9h0M480.6 706.0h0M455.5 720.2h0M471.1 710.9h0M460.8 719.7h0M459.0 711.3h0M432.6 695.9h0M452.9 717.7h0M482.6 718.3h0M467.7 707.5h0M504.8 701.7h0M507.6 728.6h0M448.0 721.3h0M473.5 704.2h0M460.9 698.5h0M477.8 705.5h0M475.7 688.0h0M462.1 700.5h0M488.0 720.9h0M452.8 722.2h0M462.5 699.9h0M482.0 725.5h0M464.4 706.8h0M494.1 705.3h0M501.8 730.5h0M482.0 719.7h0M468.6 699.0h0M446.8 704.8h0M456.0 712.6h0M474.9 715.5h0M466.8 695.8h0M442.5 704.9h0M462.0 716.8h0M442.2 722.0h0M493.3 717.1h0M470.9 728.2h0M461.0 717.7h0M451.9 716.8h0M475.3 703.5h0M477.7 708.7h0M470.5 716.2h0M495.9 725.2h0M470.9 705.8h0M478.4 721.8h0M472.3 694.5h0M473.1 699.3h0M482.8 720.7h0M478.9 723.7h0M460.7 708.2h0M470.3 728.5h0M505.2 718.6h0M509.3 701.0h0M453.4 718.2h0M449.4 703.0h0M500.7 712.8h0M458.8 728.7h0M446.4 710.7h0M471.9 711.3h0M477.0 698.6h0M448.9 710.3h0M459.8 712.3h0M466.9 711.0h0M444.8 709.2h0M448.6 713.9h0M511.1 710.8h0M492.8 726.8h0M467.9 709.4h0M462.7 716.4h0M492.2 719.6h0M487.5 710.0h0M493.1 703.4h0M495.4 728.5h0M438.5 695.7h0M466.9 696.2h0M451.6 724.4h0M507.0 707.6h0M442.0 715.2h0M462.9 711.5h0M479.2 713.7h0M474.9 717.7h0M442.7 709.3h0M453.0 707.8h0M463.1 704.5h0" stroke="#3f87c6" stroke-width="3.80" stroke-linecap="round" fill="none" stroke-opacity="0.55"/>
<path d="M454.5 711.5h0M469.1 712.9h0M493.3 706.1h0M467.2 715.1h0M459.0 707.6h0M476.1 711.5h0M480.6 723.4h0M484.3 718.0h0M478.5 715.8h0M481.7 717.9h0M477.4 712.6h0M481.8 714.3h0M471.5 710.7h0M489.9 713.5h0M458.5 715.3h0M488.2 714.5h0M473.5 711.7h0M485.0 710.8h0M487.7 716.6h0M484.4 720.3h0M471.9 713.6h0M495.4 716.6h0M471.2 722.8h0M446.3 711.5h0M472.4 715.7h0M472.4 723.5h0M468.3 705.5h0M491.7 718.5h0M493.2 710.9h0M479.2 711.4h0M482.4 714.0h0M480.1 711.9h0M461.5 697.1h0M484.9 730.0h0M452.7 710.5h0M503.5 705.5h0M486.6 713.3h0M452.6 698.0h0M484.9 715.0h0M480.0 708.6h0M466.6 714.1h0M464.8 695.3h0M484.7 722.1h0M474.8 697.6h0M448.8 703.0h0M466.7 715.6h0M477.7 723.3h0M465.8 710.6h0M485.0 721.7h0M460.6 702.6h0" stroke="#3b82c4" stroke-width="3.80" stroke-linecap="round" fill="none" stroke-opacity="0.6"/>
<path d="M485.9 717.3h0M498.3 721.1h0M499.8 713.1h0M492.6 701.5h0M496.2 715.0h0M497.6 703.6h0M502.3 702.2h0M477.8 716.6h0M491.3 705.7h0M490.1 714.0h0M477.9 722.3h0M499.2 717.6h0M494.2 713.8h0M488.9 707.8h0M495.8 713.2h0M486.3 704.7h0M497.0 712.4h0M496.8 711.0h0M485.3 709.2h0M493.9 702.6h0M494.1 703.6h0M493.7 716.1h0M503.5 718.2h0M493.2 713.0h0M496.6 711.0h0M494.3 710.2h0M487.1 713.1h0M496.6 703.5h0M484.6 702.8h0M496.5 707.3h0" stroke="#3f87c6" stroke-width="3.60" stroke-linecap="round" fill="none" stroke-opacity="0.55"/>
<path d="M419.6 702.1h0M447.5 713.3h0M411.7 699.8h0M434.1 713.2h0M411.1 708.2h0M439.8 708.6h0M425.4 706.2h0M411.5 702.8h0M414.6 710.0h0M423.4 703.4h0M406.6 722.0h0M423.5 711.5h0M437.3 708.1h0M444.1 718.0h0M426.4 693.9h0M446.5 705.3h0M443.5 702.9h0M404.5 713.1h0M454.1 697.6h0M409.4 707.0h0M395.6 717.4h0M438.7 703.6h0M437.0 704.5h0M445.8 711.4h0M426.0 713.0h0M427.8 704.7h0M429.7 701.2h0M419.9 708.3h0M429.0 696.1h0M428.7 708.7h0" stroke="#3f87c6" stroke-width="3.40" stroke-linecap="round" fill="none" stroke-opacity="0.55"/>
<path d="M461.6 724.0h0M481.3 717.4h0M474.7 694.8h0M533.7 714.4h0M486.5 706.5h0M479.6 722.8h0M442.4 713.6h0M449.4 708.0h0M482.1 706.3h0M422.9 714.1h0M477.7 704.3h0M469.8 734.8h0M482.1 714.6h0M442.5 707.4h0M473.4 716.7h0M479.2 733.7h0M407.0 713.9h0M487.4 682.0h0M484.1 716.1h0M494.2 716.5h0M465.8 715.9h0M460.4 710.5h0M462.7 720.7h0M478.8 702.0h0M469.2 716.5h0M440.2 717.3h0M449.5 687.2h0M477.0 705.2h0M493.9 730.7h0M478.1 699.9h0M485.5 701.2h0M466.7 719.9h0M502.5 718.1h0M511.3 701.3h0M436.5 713.3h0M508.8 707.3h0M451.8 703.7h0M456.2 710.8h0M482.5 731.0h0M498.8 715.1h0M451.5 717.3h0M429.8 715.0h0M413.8 716.3h0M480.3 722.7h0M446.8 709.0h0M497.3 697.5h0M499.3 709.0h0M499.1 718.9h0M445.2 706.2h0M461.4 730.8h0" stroke="#8ab6de" stroke-width="3.20" stroke-linecap="round" fill="none" stroke-opacity="0.7"/>
<circle cx="447" cy="702.5" r="4.8" fill="#3b82c4" />
<circle cx="451" cy="704" r="4" fill="#3b82c4" />
<circle cx="456" cy="706" r="4" fill="#3b82c4" />
<circle cx="483" cy="716" r="4.8" fill="#3b82c4" />
<circle cx="458" cy="731.5" r="4" fill="#3b82c4" />
<circle cx="471.5" cy="700" r="3" fill="#3b82c4" />
<circle cx="488" cy="703" r="3" fill="#3b82c4" />
<circle cx="497" cy="712" r="2.8" fill="#3b82c4" />
<circle cx="432" cy="720" r="5" fill="#a9c7e6" />
<circle cx="438" cy="728" r="6" fill="#a9c7e6" />
<circle cx="427" cy="716" r="3" fill="#a9c7e6" />
<circle cx="443" cy="731" r="4" fill="#a9c7e6" />
<circle cx="450" cy="735" r="3" fill="#a9c7e6" />
<circle cx="449.3" cy="737" r="4" fill="#f07c22" />
<path d="M366.0 688.0h0M369.0 686.0h0M371.0 689.0h0M374.0 687.0h0M377.0 688.0h0M368.0 691.0h0M372.0 692.0h0M375.0 695.0h0M380.0 689.0h0M384.0 688.0h0M387.0 688.0h0M370.0 696.0h0M367.0 694.0h0" stroke="#3daa3d" stroke-width="3.20" stroke-linecap="round" fill="none"/>
<circle cx="360" cy="736" r="5.5" fill="#dc72d6" />
<circle cx="365.5" cy="733.5" r="3" fill="#dc72d6" />
<path d="M370.0 731.0h0M374.0 730.0h0M378.0 729.0h0M381.0 728.0h0M384.0 727.0h0M386.0 724.0h0M385.0 720.0h0M383.0 716.0h0M381.0 712.0h0M379.0 709.0h0M377.0 706.0h0M389.0 719.0h0M393.0 717.0h0M397.0 716.0h0M401.0 716.0h0M404.0 721.0h0M399.0 723.0h0M394.0 724.0h0" stroke="#dc72d6" stroke-width="2.80" stroke-linecap="round" fill="none"/>
<circle cx="413.3" cy="721" r="4.2" fill="#dc72d6" />
<path d="M418.0 724.0h0M420.0 726.0h0M407.0 727.0h0" stroke="#b08080" stroke-width="2.40" stroke-linecap="round" fill="none"/>
<circle cx="414.5" cy="729.5" r="4.8" fill="#98e28e" />
<circle cx="413" cy="735" r="3" fill="#98e28e" />
<path d="M425.7 738.1h0M422.5 733.0h0M412.3 731.0h0M431.2 740.4h0M421.9 749.5h0M423.0 743.1h0M427.0 735.8h0M415.5 747.7h0M428.0 739.0h0M418.4 738.4h0M424.4 741.9h0M425.2 738.9h0M421.9 741.2h0M427.2 743.7h0M427.1 729.4h0M419.6 728.5h0M427.2 740.5h0M425.2 738.7h0M419.6 742.6h0M419.3 743.1h0M426.2 741.0h0M426.2 738.9h0M426.6 738.0h0M431.0 742.0h0M422.3 735.1h0M430.0 745.1h0M423.1 741.4h0M432.1 732.6h0M433.9 748.3h0M418.5 734.3h0M425.6 743.0h0M427.4 740.0h0M424.0 740.9h0M424.8 742.8h0M425.3 738.1h0M422.1 750.1h0M437.8 745.8h0M420.9 742.2h0M429.6 739.6h0M423.7 733.6h0" stroke="#98e28e" stroke-width="2.80" stroke-linecap="round" fill="none" stroke-opacity="1.0"/>
<path d="M420.0 748.0h0M418.0 745.0h0" stroke="#e8a060" stroke-width="2.40" stroke-linecap="round" fill="none"/>
<path d="M456.0 752.0h0M457.9 744.2h0M452.5 746.7h0M452.0 747.4h0M450.3 745.5h0M452.1 754.9h0M460.2 750.4h0M451.5 759.5h0M456.0 748.9h0M452.3 752.1h0M458.4 757.4h0M447.3 750.7h0M454.1 750.6h0M459.9 747.8h0M457.9 752.3h0M450.4 746.3h0M455.0 754.0h0M452.2 749.8h0M453.4 747.1h0M451.7 748.2h0" stroke="#9b5bd2" stroke-width="2.80" stroke-linecap="round" fill="none" stroke-opacity="1.0"/>
<path d="M447.0 755.0h0M443.0 755.0h0M445.0 758.0h0" stroke="#9b5bd2" stroke-width="3.00" stroke-linecap="round" fill="none"/>
<path d="M473.5 762.4h0M457.6 748.9h0M482.9 747.6h0M474.9 750.5h0M478.3 753.8h0M480.5 760.0h0M471.5 750.1h0M469.8 752.6h0M479.7 752.6h0M467.4 759.3h0M481.6 738.4h0M467.5 756.6h0M471.9 754.8h0M465.9 764.9h0M473.6 753.6h0M475.8 749.7h0M479.2 753.6h0M478.1 763.7h0M477.1 749.9h0M477.7 746.3h0M472.2 761.3h0M468.1 757.6h0M470.4 764.8h0M477.4 748.1h0M477.6 759.0h0M470.6 764.4h0M476.2 757.7h0M473.5 761.5h0M481.5 755.4h0M479.0 750.1h0M469.3 743.7h0M476.7 741.4h0M467.0 762.2h0M485.5 762.8h0M470.9 762.7h0M476.6 751.4h0M481.5 766.4h0M471.5 755.0h0M479.6 755.5h0M485.0 753.2h0M477.4 760.3h0M470.3 762.8h0M467.9 762.2h0M468.8 751.0h0M490.4 762.6h0" stroke="#f0b478" stroke-width="3.20" stroke-linecap="round" fill="none" stroke-opacity="1.0"/>
<circle cx="477" cy="760" r="3.5" fill="#f0b478" />
<circle cx="480" cy="765" r="3.3" fill="#f0b478" />
<circle cx="483" cy="768" r="3" fill="#f0b478" />
<circle cx="472" cy="749" r="2.5" fill="#f0b478" />
<path d="M513.6 725.6h0M489.3 729.6h0M520.8 731.3h0M532.5 735.2h0M483.5 732.3h0M523.4 723.9h0M495.5 731.7h0M523.9 727.7h0M509.1 731.3h0M513.2 727.7h0M533.5 729.7h0M509.6 726.7h0M514.2 741.3h0M529.5 723.7h0M498.7 754.4h0M507.5 717.3h0M516.9 738.8h0M522.5 728.7h0M494.5 721.9h0M495.4 739.0h0M543.5 726.3h0M515.9 723.3h0M529.4 737.7h0M509.6 734.9h0M523.7 727.0h0M536.4 713.6h0M536.3 751.0h0M505.4 731.8h0M516.0 732.9h0M499.7 726.2h0M536.2 719.7h0M528.8 737.2h0M506.6 732.0h0M513.0 737.6h0M512.3 720.5h0M522.3 736.5h0M495.2 729.7h0M511.8 745.2h0M516.4 745.4h0M508.5 724.3h0M517.6 720.3h0M495.5 721.6h0M505.3 719.5h0M539.1 742.4h0M528.7 724.2h0" stroke="#f07c22" stroke-width="3.60" stroke-linecap="round" fill="none" stroke-opacity="0.75"/>
<path d="M504.6 723.1h0M537.6 725.5h0M515.4 750.7h0M530.3 733.0h0M534.0 734.5h0M522.4 748.2h0M497.1 741.1h0M508.8 725.7h0M484.3 718.3h0M494.2 726.7h0M528.9 724.2h0M493.1 725.1h0M521.6 724.8h0M535.6 745.9h0M502.5 723.7h0M545.2 722.9h0M469.6 709.7h0M532.9 718.4h0M514.0 731.4h0M507.4 711.4h0M501.4 737.0h0M504.5 723.8h0M511.5 715.3h0M508.2 731.9h0M502.2 723.4h0M515.1 723.1h0M505.3 732.1h0M495.0 733.0h0M518.8 733.3h0M503.8 728.0h0M505.1 727.3h0M529.5 742.0h0M546.9 727.5h0M498.8 724.7h0M526.2 736.6h0M493.6 749.4h0M540.2 755.0h0M497.2 727.2h0M504.8 756.4h0M520.1 744.9h0M504.2 726.7h0M515.3 762.6h0M526.1 715.0h0M521.9 728.8h0M511.4 711.0h0M514.8 742.4h0M529.9 732.2h0M517.4 723.8h0M510.4 721.0h0M499.3 725.4h0" stroke="#f4a868" stroke-width="3.60" stroke-linecap="round" fill="none" stroke-opacity="0.7"/>
<circle cx="539.5" cy="731.7" r="4.2" fill="#f07c22" />
<circle cx="495" cy="727" r="3" fill="#f07c22" />
<circle cx="520" cy="740" r="2.5" fill="#f07c22" />
<circle cx="536" cy="727" r="3" fill="#f07c22" />
<circle cx="530" cy="724" r="2.5" fill="#f07c22" />
<circle cx="545" cy="738" r="2.2" fill="#f07c22" />
<circle cx="502" cy="744" r="2.5" fill="#f07c22" />
<circle cx="514" cy="745" r="2.3" fill="#f07c22" />
<circle cx="432" cy="775" r="3.8" fill="#f07c22" />
<circle cx="436" cy="769.5" r="4" fill="#f07c22" />
<circle cx="442" cy="764" r="4" fill="#f07c22" />
<circle cx="448.5" cy="762" r="4.3" fill="#f07c22" />
<circle cx="454" cy="764.5" r="4" fill="#f07c22" />
<circle cx="438" cy="761" r="3.2" fill="#f07c22" />
<circle cx="431" cy="778.5" r="2.5" fill="#f07c22" />
<circle cx="384.5" cy="768" r="5" fill="#3daa3d" />
<circle cx="390.5" cy="764" r="5" fill="#3daa3d" />
<circle cx="395" cy="761" r="2.5" fill="#3daa3d" />
<circle cx="397.5" cy="758" r="2" fill="#3daa3d" />
<path d="M395.5 784.2h0M384.9 788.8h0M384.5 792.2h0M390.8 794.0h0M387.6 787.0h0M393.3 789.7h0M389.2 786.9h0M391.2 784.3h0M398.4 786.7h0M390.5 785.2h0M395.9 790.4h0M390.8 780.0h0M391.7 791.2h0M397.5 788.2h0M384.5 789.6h0M394.0 793.0h0M388.3 784.3h0M392.1 790.8h0M385.1 783.1h0M391.3 789.4h0M397.1 792.5h0M387.6 791.8h0M396.5 788.8h0M390.5 795.2h0M394.3 789.0h0M390.2 786.7h0M395.7 790.0h0M386.0 798.4h0M396.8 793.3h0M385.5 793.7h0M385.4 791.0h0M389.7 791.5h0M384.1 791.1h0M389.4 791.4h0M389.4 789.9h0" stroke="#3daa3d" stroke-width="3.00" stroke-linecap="round" fill="none" stroke-opacity="1.0"/>
<circle cx="389" cy="791" r="3" fill="#3daa3d" />
<circle cx="394" cy="792" r="2.7" fill="#3daa3d" />
<circle cx="400" cy="789" r="2.2" fill="#3daa3d" />
<circle cx="404" cy="788" r="2" fill="#3daa3d" />
<path d="M397.0 779.0h0M401.0 778.0h0M404.0 775.0h0M386.0 783.0h0M384.0 786.0h0M391.0 774.0h0M389.0 812.0h0M390.0 809.0h0M391.0 814.0h0M392.0 816.0h0M390.0 806.0h0" stroke="#3daa3d" stroke-width="3.00" stroke-linecap="round" fill="none"/>
<circle cx="368.6" cy="799.5" r="4.3" fill="#3daa3d" stroke="#111" stroke-width="1.3"/>
<circle cx="371" cy="797.5" r="3" fill="#3daa3d" />
<ellipse cx="433" cy="813" rx="5" ry="4.5" fill="#c09590" transform="rotate(-30 433 813)" />
<path d="M430.0 800.0h0M432.0 803.0h0" stroke="#c09590" stroke-width="2.40" stroke-linecap="round" fill="none"/>
<path d="M513.0 772.0h0M515.0 775.0h0M517.0 778.0h0M520.0 783.0h0M522.0 786.0h0M525.0 789.0h0M524.0 784.0h0M519.0 788.0h0" stroke="#cfe08a" stroke-width="3.60" stroke-linecap="round" fill="none"/>
<circle cx="475.3" cy="820.3" r="1.4" fill="#9ec0e8" />
<text x="397.2" y="559.2" font-size="11.5" fill="#c5aee3">DNA repair</text>
<text x="426.9" y="608.4" font-size="11.5" fill="#5ccfd5">Senescence</text>
<text x="506.1" y="602.5" font-size="11.5" fill="#747474">Replication</text>
<text x="530.3" y="571.3" font-size="11.5" fill="#b4da2c">WNT signaling</text>
<text x="422" y="632.7" font-size="11.5" fill="#8b4c44">Apoptosis</text>
<text x="353.8" y="644" font-size="11.5" fill="#8a40d2">NOTCH/β-Catenin/</text>
<text x="353.8" y="658" font-size="11.5" fill="#8a40d2">TGF β signaling</text>
<text x="505.8" y="648.7" font-size="11.5" fill="#747474">Cell cycle</text>
<text x="509.9" y="684.5" font-size="11.5" fill="#8b4c44">Response to stimuli &amp; stress</text>
<text x="379.3" y="698.8" font-size="11.5" fill="#a8cade">MAPK signaling</text>
<text x="477.4" y="777.6" font-size="11.5" fill="#e8622a">Cytokine signaling and</text>
<text x="477.4" y="791.5" font-size="11.5" fill="#e8622a">immune system</text>
<text x="380.3" y="804.3" font-size="11.5" fill="#3cb44a">TLR and MyD88 signaling</text>
<text x="443.1" y="819.7" font-size="11.5" fill="#b0a49e">Rho GTPase signaling</text>
<ellipse cx="399.7" cy="647.3" rx="59.3" ry="18.3" fill="none" stroke="#a31e4a" stroke-width="1.9"/>
<ellipse cx="570.6" cy="568" rx="48.3" ry="13.9" fill="none" stroke="#a31e4a" stroke-width="1.9"/>
<ellipse cx="583.8" cy="680.6" rx="81" ry="11" fill="none" stroke="#a31e4a" stroke-width="1.9"/>
<ellipse cx="524.4" cy="774" rx="51.6" ry="10.9" fill="none" stroke="#a31e4a" stroke-width="1.9"/>
</svg></body></html>
